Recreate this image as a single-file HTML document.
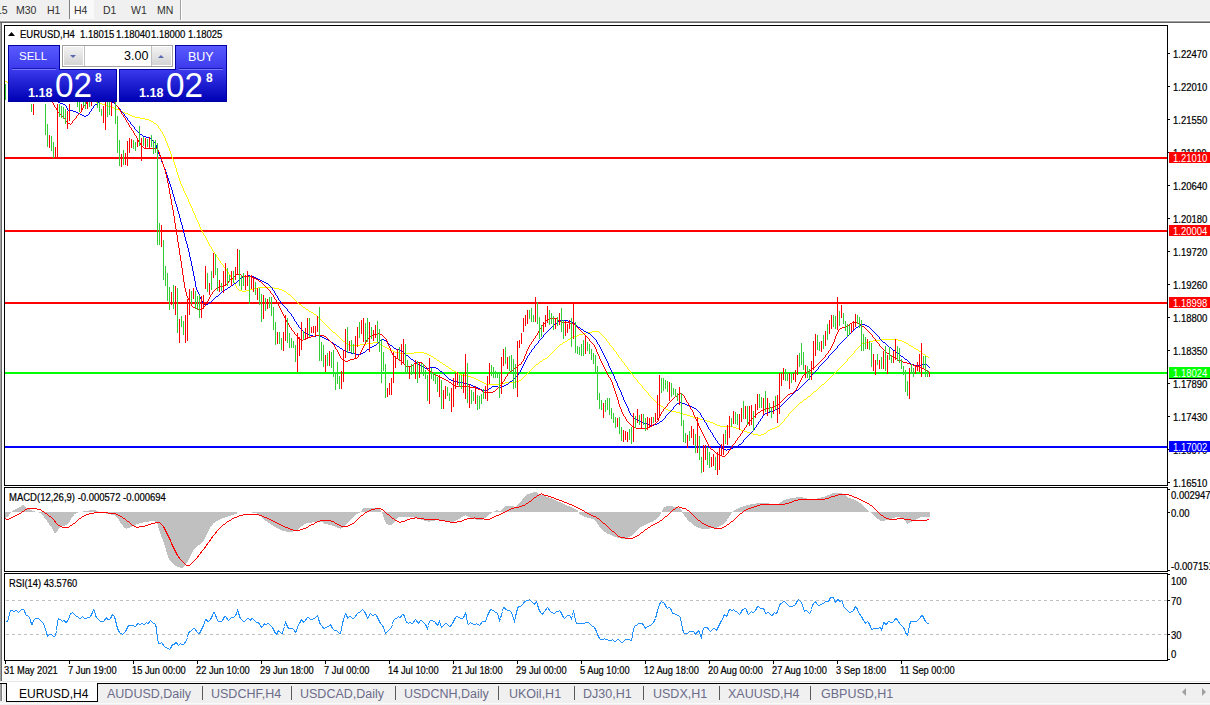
<!DOCTYPE html><html><head><meta charset="utf-8"><style>
*{margin:0;padding:0;box-sizing:border-box}
html,body{width:1210px;height:705px;overflow:hidden;background:#f0f0f0;font-family:"Liberation Sans",sans-serif;position:relative}
.t{position:absolute;white-space:nowrap;line-height:1;font-family:"Liberation Sans",sans-serif}
.s{-webkit-text-stroke:0.2px currentColor}
svg{position:absolute;left:0;top:0}
</style></head><body>
<svg width="1210" height="705" shape-rendering="crispEdges">
<rect x="0" y="0" width="1210" height="21" fill="#f0f0f0"/>
<rect x="0" y="20" width="1210" height="1" fill="#f8f8f8"/>
<rect x="0" y="21" width="1210" height="1" fill="#a0a0a0"/>
<rect x="0" y="22" width="1210" height="1" fill="#646464"/>
<rect x="70" y="0" width="24" height="19" fill="#f9f9f9"/>
<rect x="69" y="0" width="1" height="19" fill="#808080"/>
<rect x="180" y="0" width="1" height="20" fill="#a0a0a0"/>
<rect x="181" y="0" width="1" height="20" fill="#ffffff"/>
<rect x="0" y="23" width="1210" height="658" fill="#ffffff"/>
<rect x="0" y="23" width="1" height="658" fill="#a0a0a0"/>
<rect x="1" y="23" width="1" height="658" fill="#696969"/>
<rect x="0" y="681" width="1210" height="1" fill="#e6e6e6"/>
<rect x="0" y="682" width="1210" height="1" fill="#ffffff"/>
<rect x="0" y="683" width="1210" height="1" fill="#000000"/>
<rect x="0" y="684" width="1210" height="18" fill="#f0f0f0"/>
<rect x="0" y="702" width="1210" height="3" fill="#f0f0f0"/>
<rect x="0" y="703" width="1210" height="1" fill="#fafafa"/>
<rect x="0" y="684" width="1" height="17" fill="#a0a0a0"/>
<rect x="1" y="684" width="1" height="17" fill="#808080"/>
<rect x="2" y="684" width="1" height="17" fill="#ffffff"/>
<rect x="7" y="683" width="90" height="18" fill="#ffffff"/>
<rect x="6" y="683" width="1" height="19" fill="#000"/>
<rect x="97" y="683" width="1" height="19" fill="#000"/>
<rect x="6" y="701" width="92" height="1" fill="#000"/>
<rect x="202" y="686" width="1" height="14" fill="#5a5a5a"/>
<rect x="291" y="686" width="1" height="14" fill="#5a5a5a"/>
<rect x="395" y="686" width="1" height="14" fill="#5a5a5a"/>
<rect x="498" y="686" width="1" height="14" fill="#5a5a5a"/>
<rect x="574" y="686" width="1" height="14" fill="#5a5a5a"/>
<rect x="643" y="686" width="1" height="14" fill="#5a5a5a"/>
<rect x="719" y="686" width="1" height="14" fill="#5a5a5a"/>
<rect x="810" y="686" width="1" height="14" fill="#5a5a5a"/>
<path d="M1186,688 L1182,692 L1186,696 Z" fill="#a0a0a0" shape-rendering="auto"/>
<path d="M1202,688 L1206,692 L1202,696 Z" fill="#a0a0a0" shape-rendering="auto"/>
<rect x="6" y="600" width="3" height="1" fill="#c0c0c0"/><rect x="12" y="600" width="3" height="1" fill="#c0c0c0"/><rect x="18" y="600" width="3" height="1" fill="#c0c0c0"/><rect x="24" y="600" width="3" height="1" fill="#c0c0c0"/><rect x="30" y="600" width="3" height="1" fill="#c0c0c0"/><rect x="36" y="600" width="3" height="1" fill="#c0c0c0"/><rect x="42" y="600" width="3" height="1" fill="#c0c0c0"/><rect x="48" y="600" width="3" height="1" fill="#c0c0c0"/><rect x="54" y="600" width="3" height="1" fill="#c0c0c0"/><rect x="60" y="600" width="3" height="1" fill="#c0c0c0"/><rect x="66" y="600" width="3" height="1" fill="#c0c0c0"/><rect x="72" y="600" width="3" height="1" fill="#c0c0c0"/><rect x="78" y="600" width="3" height="1" fill="#c0c0c0"/><rect x="84" y="600" width="3" height="1" fill="#c0c0c0"/><rect x="90" y="600" width="3" height="1" fill="#c0c0c0"/><rect x="96" y="600" width="3" height="1" fill="#c0c0c0"/><rect x="102" y="600" width="3" height="1" fill="#c0c0c0"/><rect x="108" y="600" width="3" height="1" fill="#c0c0c0"/><rect x="114" y="600" width="3" height="1" fill="#c0c0c0"/><rect x="120" y="600" width="3" height="1" fill="#c0c0c0"/><rect x="126" y="600" width="3" height="1" fill="#c0c0c0"/><rect x="132" y="600" width="3" height="1" fill="#c0c0c0"/><rect x="138" y="600" width="3" height="1" fill="#c0c0c0"/><rect x="144" y="600" width="3" height="1" fill="#c0c0c0"/><rect x="150" y="600" width="3" height="1" fill="#c0c0c0"/><rect x="156" y="600" width="3" height="1" fill="#c0c0c0"/><rect x="162" y="600" width="3" height="1" fill="#c0c0c0"/><rect x="168" y="600" width="3" height="1" fill="#c0c0c0"/><rect x="174" y="600" width="3" height="1" fill="#c0c0c0"/><rect x="180" y="600" width="3" height="1" fill="#c0c0c0"/><rect x="186" y="600" width="3" height="1" fill="#c0c0c0"/><rect x="192" y="600" width="3" height="1" fill="#c0c0c0"/><rect x="198" y="600" width="3" height="1" fill="#c0c0c0"/><rect x="204" y="600" width="3" height="1" fill="#c0c0c0"/><rect x="210" y="600" width="3" height="1" fill="#c0c0c0"/><rect x="216" y="600" width="3" height="1" fill="#c0c0c0"/><rect x="222" y="600" width="3" height="1" fill="#c0c0c0"/><rect x="228" y="600" width="3" height="1" fill="#c0c0c0"/><rect x="234" y="600" width="3" height="1" fill="#c0c0c0"/><rect x="240" y="600" width="3" height="1" fill="#c0c0c0"/><rect x="246" y="600" width="3" height="1" fill="#c0c0c0"/><rect x="252" y="600" width="3" height="1" fill="#c0c0c0"/><rect x="258" y="600" width="3" height="1" fill="#c0c0c0"/><rect x="264" y="600" width="3" height="1" fill="#c0c0c0"/><rect x="270" y="600" width="3" height="1" fill="#c0c0c0"/><rect x="276" y="600" width="3" height="1" fill="#c0c0c0"/><rect x="282" y="600" width="3" height="1" fill="#c0c0c0"/><rect x="288" y="600" width="3" height="1" fill="#c0c0c0"/><rect x="294" y="600" width="3" height="1" fill="#c0c0c0"/><rect x="300" y="600" width="3" height="1" fill="#c0c0c0"/><rect x="306" y="600" width="3" height="1" fill="#c0c0c0"/><rect x="312" y="600" width="3" height="1" fill="#c0c0c0"/><rect x="318" y="600" width="3" height="1" fill="#c0c0c0"/><rect x="324" y="600" width="3" height="1" fill="#c0c0c0"/><rect x="330" y="600" width="3" height="1" fill="#c0c0c0"/><rect x="336" y="600" width="3" height="1" fill="#c0c0c0"/><rect x="342" y="600" width="3" height="1" fill="#c0c0c0"/><rect x="348" y="600" width="3" height="1" fill="#c0c0c0"/><rect x="354" y="600" width="3" height="1" fill="#c0c0c0"/><rect x="360" y="600" width="3" height="1" fill="#c0c0c0"/><rect x="366" y="600" width="3" height="1" fill="#c0c0c0"/><rect x="372" y="600" width="3" height="1" fill="#c0c0c0"/><rect x="378" y="600" width="3" height="1" fill="#c0c0c0"/><rect x="384" y="600" width="3" height="1" fill="#c0c0c0"/><rect x="390" y="600" width="3" height="1" fill="#c0c0c0"/><rect x="396" y="600" width="3" height="1" fill="#c0c0c0"/><rect x="402" y="600" width="3" height="1" fill="#c0c0c0"/><rect x="408" y="600" width="3" height="1" fill="#c0c0c0"/><rect x="414" y="600" width="3" height="1" fill="#c0c0c0"/><rect x="420" y="600" width="3" height="1" fill="#c0c0c0"/><rect x="426" y="600" width="3" height="1" fill="#c0c0c0"/><rect x="432" y="600" width="3" height="1" fill="#c0c0c0"/><rect x="438" y="600" width="3" height="1" fill="#c0c0c0"/><rect x="444" y="600" width="3" height="1" fill="#c0c0c0"/><rect x="450" y="600" width="3" height="1" fill="#c0c0c0"/><rect x="456" y="600" width="3" height="1" fill="#c0c0c0"/><rect x="462" y="600" width="3" height="1" fill="#c0c0c0"/><rect x="468" y="600" width="3" height="1" fill="#c0c0c0"/><rect x="474" y="600" width="3" height="1" fill="#c0c0c0"/><rect x="480" y="600" width="3" height="1" fill="#c0c0c0"/><rect x="486" y="600" width="3" height="1" fill="#c0c0c0"/><rect x="492" y="600" width="3" height="1" fill="#c0c0c0"/><rect x="498" y="600" width="3" height="1" fill="#c0c0c0"/><rect x="504" y="600" width="3" height="1" fill="#c0c0c0"/><rect x="510" y="600" width="3" height="1" fill="#c0c0c0"/><rect x="516" y="600" width="3" height="1" fill="#c0c0c0"/><rect x="522" y="600" width="3" height="1" fill="#c0c0c0"/><rect x="528" y="600" width="3" height="1" fill="#c0c0c0"/><rect x="534" y="600" width="3" height="1" fill="#c0c0c0"/><rect x="540" y="600" width="3" height="1" fill="#c0c0c0"/><rect x="546" y="600" width="3" height="1" fill="#c0c0c0"/><rect x="552" y="600" width="3" height="1" fill="#c0c0c0"/><rect x="558" y="600" width="3" height="1" fill="#c0c0c0"/><rect x="564" y="600" width="3" height="1" fill="#c0c0c0"/><rect x="570" y="600" width="3" height="1" fill="#c0c0c0"/><rect x="576" y="600" width="3" height="1" fill="#c0c0c0"/><rect x="582" y="600" width="3" height="1" fill="#c0c0c0"/><rect x="588" y="600" width="3" height="1" fill="#c0c0c0"/><rect x="594" y="600" width="3" height="1" fill="#c0c0c0"/><rect x="600" y="600" width="3" height="1" fill="#c0c0c0"/><rect x="606" y="600" width="3" height="1" fill="#c0c0c0"/><rect x="612" y="600" width="3" height="1" fill="#c0c0c0"/><rect x="618" y="600" width="3" height="1" fill="#c0c0c0"/><rect x="624" y="600" width="3" height="1" fill="#c0c0c0"/><rect x="630" y="600" width="3" height="1" fill="#c0c0c0"/><rect x="636" y="600" width="3" height="1" fill="#c0c0c0"/><rect x="642" y="600" width="3" height="1" fill="#c0c0c0"/><rect x="648" y="600" width="3" height="1" fill="#c0c0c0"/><rect x="654" y="600" width="3" height="1" fill="#c0c0c0"/><rect x="660" y="600" width="3" height="1" fill="#c0c0c0"/><rect x="666" y="600" width="3" height="1" fill="#c0c0c0"/><rect x="672" y="600" width="3" height="1" fill="#c0c0c0"/><rect x="678" y="600" width="3" height="1" fill="#c0c0c0"/><rect x="684" y="600" width="3" height="1" fill="#c0c0c0"/><rect x="690" y="600" width="3" height="1" fill="#c0c0c0"/><rect x="696" y="600" width="3" height="1" fill="#c0c0c0"/><rect x="702" y="600" width="3" height="1" fill="#c0c0c0"/><rect x="708" y="600" width="3" height="1" fill="#c0c0c0"/><rect x="714" y="600" width="3" height="1" fill="#c0c0c0"/><rect x="720" y="600" width="3" height="1" fill="#c0c0c0"/><rect x="726" y="600" width="3" height="1" fill="#c0c0c0"/><rect x="732" y="600" width="3" height="1" fill="#c0c0c0"/><rect x="738" y="600" width="3" height="1" fill="#c0c0c0"/><rect x="744" y="600" width="3" height="1" fill="#c0c0c0"/><rect x="750" y="600" width="3" height="1" fill="#c0c0c0"/><rect x="756" y="600" width="3" height="1" fill="#c0c0c0"/><rect x="762" y="600" width="3" height="1" fill="#c0c0c0"/><rect x="768" y="600" width="3" height="1" fill="#c0c0c0"/><rect x="774" y="600" width="3" height="1" fill="#c0c0c0"/><rect x="780" y="600" width="3" height="1" fill="#c0c0c0"/><rect x="786" y="600" width="3" height="1" fill="#c0c0c0"/><rect x="792" y="600" width="3" height="1" fill="#c0c0c0"/><rect x="798" y="600" width="3" height="1" fill="#c0c0c0"/><rect x="804" y="600" width="3" height="1" fill="#c0c0c0"/><rect x="810" y="600" width="3" height="1" fill="#c0c0c0"/><rect x="816" y="600" width="3" height="1" fill="#c0c0c0"/><rect x="822" y="600" width="3" height="1" fill="#c0c0c0"/><rect x="828" y="600" width="3" height="1" fill="#c0c0c0"/><rect x="834" y="600" width="3" height="1" fill="#c0c0c0"/><rect x="840" y="600" width="3" height="1" fill="#c0c0c0"/><rect x="846" y="600" width="3" height="1" fill="#c0c0c0"/><rect x="852" y="600" width="3" height="1" fill="#c0c0c0"/><rect x="858" y="600" width="3" height="1" fill="#c0c0c0"/><rect x="864" y="600" width="3" height="1" fill="#c0c0c0"/><rect x="870" y="600" width="3" height="1" fill="#c0c0c0"/><rect x="876" y="600" width="3" height="1" fill="#c0c0c0"/><rect x="882" y="600" width="3" height="1" fill="#c0c0c0"/><rect x="888" y="600" width="3" height="1" fill="#c0c0c0"/><rect x="894" y="600" width="3" height="1" fill="#c0c0c0"/><rect x="900" y="600" width="3" height="1" fill="#c0c0c0"/><rect x="906" y="600" width="3" height="1" fill="#c0c0c0"/><rect x="912" y="600" width="3" height="1" fill="#c0c0c0"/><rect x="918" y="600" width="3" height="1" fill="#c0c0c0"/><rect x="924" y="600" width="3" height="1" fill="#c0c0c0"/><rect x="930" y="600" width="3" height="1" fill="#c0c0c0"/><rect x="936" y="600" width="3" height="1" fill="#c0c0c0"/><rect x="942" y="600" width="3" height="1" fill="#c0c0c0"/><rect x="948" y="600" width="3" height="1" fill="#c0c0c0"/><rect x="954" y="600" width="3" height="1" fill="#c0c0c0"/><rect x="960" y="600" width="3" height="1" fill="#c0c0c0"/><rect x="966" y="600" width="3" height="1" fill="#c0c0c0"/><rect x="972" y="600" width="3" height="1" fill="#c0c0c0"/><rect x="978" y="600" width="3" height="1" fill="#c0c0c0"/><rect x="984" y="600" width="3" height="1" fill="#c0c0c0"/><rect x="990" y="600" width="3" height="1" fill="#c0c0c0"/><rect x="996" y="600" width="3" height="1" fill="#c0c0c0"/><rect x="1002" y="600" width="3" height="1" fill="#c0c0c0"/><rect x="1008" y="600" width="3" height="1" fill="#c0c0c0"/><rect x="1014" y="600" width="3" height="1" fill="#c0c0c0"/><rect x="1020" y="600" width="3" height="1" fill="#c0c0c0"/><rect x="1026" y="600" width="3" height="1" fill="#c0c0c0"/><rect x="1032" y="600" width="3" height="1" fill="#c0c0c0"/><rect x="1038" y="600" width="3" height="1" fill="#c0c0c0"/><rect x="1044" y="600" width="3" height="1" fill="#c0c0c0"/><rect x="1050" y="600" width="3" height="1" fill="#c0c0c0"/><rect x="1056" y="600" width="3" height="1" fill="#c0c0c0"/><rect x="1062" y="600" width="3" height="1" fill="#c0c0c0"/><rect x="1068" y="600" width="3" height="1" fill="#c0c0c0"/><rect x="1074" y="600" width="3" height="1" fill="#c0c0c0"/><rect x="1080" y="600" width="3" height="1" fill="#c0c0c0"/><rect x="1086" y="600" width="3" height="1" fill="#c0c0c0"/><rect x="1092" y="600" width="3" height="1" fill="#c0c0c0"/><rect x="1098" y="600" width="3" height="1" fill="#c0c0c0"/><rect x="1104" y="600" width="3" height="1" fill="#c0c0c0"/><rect x="1110" y="600" width="3" height="1" fill="#c0c0c0"/><rect x="1116" y="600" width="3" height="1" fill="#c0c0c0"/><rect x="1122" y="600" width="3" height="1" fill="#c0c0c0"/><rect x="1128" y="600" width="3" height="1" fill="#c0c0c0"/><rect x="1134" y="600" width="3" height="1" fill="#c0c0c0"/><rect x="1140" y="600" width="3" height="1" fill="#c0c0c0"/><rect x="1146" y="600" width="3" height="1" fill="#c0c0c0"/><rect x="1152" y="600" width="3" height="1" fill="#c0c0c0"/><rect x="1158" y="600" width="3" height="1" fill="#c0c0c0"/><rect x="1164" y="600" width="3" height="1" fill="#c0c0c0"/><rect x="6" y="634" width="3" height="1" fill="#c0c0c0"/><rect x="12" y="634" width="3" height="1" fill="#c0c0c0"/><rect x="18" y="634" width="3" height="1" fill="#c0c0c0"/><rect x="24" y="634" width="3" height="1" fill="#c0c0c0"/><rect x="30" y="634" width="3" height="1" fill="#c0c0c0"/><rect x="36" y="634" width="3" height="1" fill="#c0c0c0"/><rect x="42" y="634" width="3" height="1" fill="#c0c0c0"/><rect x="48" y="634" width="3" height="1" fill="#c0c0c0"/><rect x="54" y="634" width="3" height="1" fill="#c0c0c0"/><rect x="60" y="634" width="3" height="1" fill="#c0c0c0"/><rect x="66" y="634" width="3" height="1" fill="#c0c0c0"/><rect x="72" y="634" width="3" height="1" fill="#c0c0c0"/><rect x="78" y="634" width="3" height="1" fill="#c0c0c0"/><rect x="84" y="634" width="3" height="1" fill="#c0c0c0"/><rect x="90" y="634" width="3" height="1" fill="#c0c0c0"/><rect x="96" y="634" width="3" height="1" fill="#c0c0c0"/><rect x="102" y="634" width="3" height="1" fill="#c0c0c0"/><rect x="108" y="634" width="3" height="1" fill="#c0c0c0"/><rect x="114" y="634" width="3" height="1" fill="#c0c0c0"/><rect x="120" y="634" width="3" height="1" fill="#c0c0c0"/><rect x="126" y="634" width="3" height="1" fill="#c0c0c0"/><rect x="132" y="634" width="3" height="1" fill="#c0c0c0"/><rect x="138" y="634" width="3" height="1" fill="#c0c0c0"/><rect x="144" y="634" width="3" height="1" fill="#c0c0c0"/><rect x="150" y="634" width="3" height="1" fill="#c0c0c0"/><rect x="156" y="634" width="3" height="1" fill="#c0c0c0"/><rect x="162" y="634" width="3" height="1" fill="#c0c0c0"/><rect x="168" y="634" width="3" height="1" fill="#c0c0c0"/><rect x="174" y="634" width="3" height="1" fill="#c0c0c0"/><rect x="180" y="634" width="3" height="1" fill="#c0c0c0"/><rect x="186" y="634" width="3" height="1" fill="#c0c0c0"/><rect x="192" y="634" width="3" height="1" fill="#c0c0c0"/><rect x="198" y="634" width="3" height="1" fill="#c0c0c0"/><rect x="204" y="634" width="3" height="1" fill="#c0c0c0"/><rect x="210" y="634" width="3" height="1" fill="#c0c0c0"/><rect x="216" y="634" width="3" height="1" fill="#c0c0c0"/><rect x="222" y="634" width="3" height="1" fill="#c0c0c0"/><rect x="228" y="634" width="3" height="1" fill="#c0c0c0"/><rect x="234" y="634" width="3" height="1" fill="#c0c0c0"/><rect x="240" y="634" width="3" height="1" fill="#c0c0c0"/><rect x="246" y="634" width="3" height="1" fill="#c0c0c0"/><rect x="252" y="634" width="3" height="1" fill="#c0c0c0"/><rect x="258" y="634" width="3" height="1" fill="#c0c0c0"/><rect x="264" y="634" width="3" height="1" fill="#c0c0c0"/><rect x="270" y="634" width="3" height="1" fill="#c0c0c0"/><rect x="276" y="634" width="3" height="1" fill="#c0c0c0"/><rect x="282" y="634" width="3" height="1" fill="#c0c0c0"/><rect x="288" y="634" width="3" height="1" fill="#c0c0c0"/><rect x="294" y="634" width="3" height="1" fill="#c0c0c0"/><rect x="300" y="634" width="3" height="1" fill="#c0c0c0"/><rect x="306" y="634" width="3" height="1" fill="#c0c0c0"/><rect x="312" y="634" width="3" height="1" fill="#c0c0c0"/><rect x="318" y="634" width="3" height="1" fill="#c0c0c0"/><rect x="324" y="634" width="3" height="1" fill="#c0c0c0"/><rect x="330" y="634" width="3" height="1" fill="#c0c0c0"/><rect x="336" y="634" width="3" height="1" fill="#c0c0c0"/><rect x="342" y="634" width="3" height="1" fill="#c0c0c0"/><rect x="348" y="634" width="3" height="1" fill="#c0c0c0"/><rect x="354" y="634" width="3" height="1" fill="#c0c0c0"/><rect x="360" y="634" width="3" height="1" fill="#c0c0c0"/><rect x="366" y="634" width="3" height="1" fill="#c0c0c0"/><rect x="372" y="634" width="3" height="1" fill="#c0c0c0"/><rect x="378" y="634" width="3" height="1" fill="#c0c0c0"/><rect x="384" y="634" width="3" height="1" fill="#c0c0c0"/><rect x="390" y="634" width="3" height="1" fill="#c0c0c0"/><rect x="396" y="634" width="3" height="1" fill="#c0c0c0"/><rect x="402" y="634" width="3" height="1" fill="#c0c0c0"/><rect x="408" y="634" width="3" height="1" fill="#c0c0c0"/><rect x="414" y="634" width="3" height="1" fill="#c0c0c0"/><rect x="420" y="634" width="3" height="1" fill="#c0c0c0"/><rect x="426" y="634" width="3" height="1" fill="#c0c0c0"/><rect x="432" y="634" width="3" height="1" fill="#c0c0c0"/><rect x="438" y="634" width="3" height="1" fill="#c0c0c0"/><rect x="444" y="634" width="3" height="1" fill="#c0c0c0"/><rect x="450" y="634" width="3" height="1" fill="#c0c0c0"/><rect x="456" y="634" width="3" height="1" fill="#c0c0c0"/><rect x="462" y="634" width="3" height="1" fill="#c0c0c0"/><rect x="468" y="634" width="3" height="1" fill="#c0c0c0"/><rect x="474" y="634" width="3" height="1" fill="#c0c0c0"/><rect x="480" y="634" width="3" height="1" fill="#c0c0c0"/><rect x="486" y="634" width="3" height="1" fill="#c0c0c0"/><rect x="492" y="634" width="3" height="1" fill="#c0c0c0"/><rect x="498" y="634" width="3" height="1" fill="#c0c0c0"/><rect x="504" y="634" width="3" height="1" fill="#c0c0c0"/><rect x="510" y="634" width="3" height="1" fill="#c0c0c0"/><rect x="516" y="634" width="3" height="1" fill="#c0c0c0"/><rect x="522" y="634" width="3" height="1" fill="#c0c0c0"/><rect x="528" y="634" width="3" height="1" fill="#c0c0c0"/><rect x="534" y="634" width="3" height="1" fill="#c0c0c0"/><rect x="540" y="634" width="3" height="1" fill="#c0c0c0"/><rect x="546" y="634" width="3" height="1" fill="#c0c0c0"/><rect x="552" y="634" width="3" height="1" fill="#c0c0c0"/><rect x="558" y="634" width="3" height="1" fill="#c0c0c0"/><rect x="564" y="634" width="3" height="1" fill="#c0c0c0"/><rect x="570" y="634" width="3" height="1" fill="#c0c0c0"/><rect x="576" y="634" width="3" height="1" fill="#c0c0c0"/><rect x="582" y="634" width="3" height="1" fill="#c0c0c0"/><rect x="588" y="634" width="3" height="1" fill="#c0c0c0"/><rect x="594" y="634" width="3" height="1" fill="#c0c0c0"/><rect x="600" y="634" width="3" height="1" fill="#c0c0c0"/><rect x="606" y="634" width="3" height="1" fill="#c0c0c0"/><rect x="612" y="634" width="3" height="1" fill="#c0c0c0"/><rect x="618" y="634" width="3" height="1" fill="#c0c0c0"/><rect x="624" y="634" width="3" height="1" fill="#c0c0c0"/><rect x="630" y="634" width="3" height="1" fill="#c0c0c0"/><rect x="636" y="634" width="3" height="1" fill="#c0c0c0"/><rect x="642" y="634" width="3" height="1" fill="#c0c0c0"/><rect x="648" y="634" width="3" height="1" fill="#c0c0c0"/><rect x="654" y="634" width="3" height="1" fill="#c0c0c0"/><rect x="660" y="634" width="3" height="1" fill="#c0c0c0"/><rect x="666" y="634" width="3" height="1" fill="#c0c0c0"/><rect x="672" y="634" width="3" height="1" fill="#c0c0c0"/><rect x="678" y="634" width="3" height="1" fill="#c0c0c0"/><rect x="684" y="634" width="3" height="1" fill="#c0c0c0"/><rect x="690" y="634" width="3" height="1" fill="#c0c0c0"/><rect x="696" y="634" width="3" height="1" fill="#c0c0c0"/><rect x="702" y="634" width="3" height="1" fill="#c0c0c0"/><rect x="708" y="634" width="3" height="1" fill="#c0c0c0"/><rect x="714" y="634" width="3" height="1" fill="#c0c0c0"/><rect x="720" y="634" width="3" height="1" fill="#c0c0c0"/><rect x="726" y="634" width="3" height="1" fill="#c0c0c0"/><rect x="732" y="634" width="3" height="1" fill="#c0c0c0"/><rect x="738" y="634" width="3" height="1" fill="#c0c0c0"/><rect x="744" y="634" width="3" height="1" fill="#c0c0c0"/><rect x="750" y="634" width="3" height="1" fill="#c0c0c0"/><rect x="756" y="634" width="3" height="1" fill="#c0c0c0"/><rect x="762" y="634" width="3" height="1" fill="#c0c0c0"/><rect x="768" y="634" width="3" height="1" fill="#c0c0c0"/><rect x="774" y="634" width="3" height="1" fill="#c0c0c0"/><rect x="780" y="634" width="3" height="1" fill="#c0c0c0"/><rect x="786" y="634" width="3" height="1" fill="#c0c0c0"/><rect x="792" y="634" width="3" height="1" fill="#c0c0c0"/><rect x="798" y="634" width="3" height="1" fill="#c0c0c0"/><rect x="804" y="634" width="3" height="1" fill="#c0c0c0"/><rect x="810" y="634" width="3" height="1" fill="#c0c0c0"/><rect x="816" y="634" width="3" height="1" fill="#c0c0c0"/><rect x="822" y="634" width="3" height="1" fill="#c0c0c0"/><rect x="828" y="634" width="3" height="1" fill="#c0c0c0"/><rect x="834" y="634" width="3" height="1" fill="#c0c0c0"/><rect x="840" y="634" width="3" height="1" fill="#c0c0c0"/><rect x="846" y="634" width="3" height="1" fill="#c0c0c0"/><rect x="852" y="634" width="3" height="1" fill="#c0c0c0"/><rect x="858" y="634" width="3" height="1" fill="#c0c0c0"/><rect x="864" y="634" width="3" height="1" fill="#c0c0c0"/><rect x="870" y="634" width="3" height="1" fill="#c0c0c0"/><rect x="876" y="634" width="3" height="1" fill="#c0c0c0"/><rect x="882" y="634" width="3" height="1" fill="#c0c0c0"/><rect x="888" y="634" width="3" height="1" fill="#c0c0c0"/><rect x="894" y="634" width="3" height="1" fill="#c0c0c0"/><rect x="900" y="634" width="3" height="1" fill="#c0c0c0"/><rect x="906" y="634" width="3" height="1" fill="#c0c0c0"/><rect x="912" y="634" width="3" height="1" fill="#c0c0c0"/><rect x="918" y="634" width="3" height="1" fill="#c0c0c0"/><rect x="924" y="634" width="3" height="1" fill="#c0c0c0"/><rect x="930" y="634" width="3" height="1" fill="#c0c0c0"/><rect x="936" y="634" width="3" height="1" fill="#c0c0c0"/><rect x="942" y="634" width="3" height="1" fill="#c0c0c0"/><rect x="948" y="634" width="3" height="1" fill="#c0c0c0"/><rect x="954" y="634" width="3" height="1" fill="#c0c0c0"/><rect x="960" y="634" width="3" height="1" fill="#c0c0c0"/><rect x="966" y="634" width="3" height="1" fill="#c0c0c0"/><rect x="972" y="634" width="3" height="1" fill="#c0c0c0"/><rect x="978" y="634" width="3" height="1" fill="#c0c0c0"/><rect x="984" y="634" width="3" height="1" fill="#c0c0c0"/><rect x="990" y="634" width="3" height="1" fill="#c0c0c0"/><rect x="996" y="634" width="3" height="1" fill="#c0c0c0"/><rect x="1002" y="634" width="3" height="1" fill="#c0c0c0"/><rect x="1008" y="634" width="3" height="1" fill="#c0c0c0"/><rect x="1014" y="634" width="3" height="1" fill="#c0c0c0"/><rect x="1020" y="634" width="3" height="1" fill="#c0c0c0"/><rect x="1026" y="634" width="3" height="1" fill="#c0c0c0"/><rect x="1032" y="634" width="3" height="1" fill="#c0c0c0"/><rect x="1038" y="634" width="3" height="1" fill="#c0c0c0"/><rect x="1044" y="634" width="3" height="1" fill="#c0c0c0"/><rect x="1050" y="634" width="3" height="1" fill="#c0c0c0"/><rect x="1056" y="634" width="3" height="1" fill="#c0c0c0"/><rect x="1062" y="634" width="3" height="1" fill="#c0c0c0"/><rect x="1068" y="634" width="3" height="1" fill="#c0c0c0"/><rect x="1074" y="634" width="3" height="1" fill="#c0c0c0"/><rect x="1080" y="634" width="3" height="1" fill="#c0c0c0"/><rect x="1086" y="634" width="3" height="1" fill="#c0c0c0"/><rect x="1092" y="634" width="3" height="1" fill="#c0c0c0"/><rect x="1098" y="634" width="3" height="1" fill="#c0c0c0"/><rect x="1104" y="634" width="3" height="1" fill="#c0c0c0"/><rect x="1110" y="634" width="3" height="1" fill="#c0c0c0"/><rect x="1116" y="634" width="3" height="1" fill="#c0c0c0"/><rect x="1122" y="634" width="3" height="1" fill="#c0c0c0"/><rect x="1128" y="634" width="3" height="1" fill="#c0c0c0"/><rect x="1134" y="634" width="3" height="1" fill="#c0c0c0"/><rect x="1140" y="634" width="3" height="1" fill="#c0c0c0"/><rect x="1146" y="634" width="3" height="1" fill="#c0c0c0"/><rect x="1152" y="634" width="3" height="1" fill="#c0c0c0"/><rect x="1158" y="634" width="3" height="1" fill="#c0c0c0"/><rect x="1164" y="634" width="3" height="1" fill="#c0c0c0"/>
<rect x="5" y="157" width="1162" height="2" fill="#ff0000"/><rect x="5" y="230" width="1162" height="2" fill="#ff0000"/><rect x="5" y="302" width="1162" height="2" fill="#ff0000"/><rect x="5" y="372" width="1162" height="2" fill="#00ff00"/><rect x="5" y="446" width="1162" height="2" fill="#0000ff"/>
<path fill="#ffff00" d="M5 81h1v1h-1zM6 81h1v1h-1zM7 82h1v1h-1zM8 82h1v1h-1zM9 82h1v1h-1zM10 82h1v1h-1zM11 83h1v1h-1zM12 83h1v1h-1zM13 83h1v1h-1zM14 84h1v1h-1zM15 84h1v1h-1zM16 84h1v1h-1zM17 84h1v1h-1zM18 85h1v1h-1zM19 85h1v1h-1zM20 85h1v1h-1zM21 86h1v1h-1zM22 86h1v1h-1zM23 86h1v1h-1zM24 86h1v1h-1zM25 87h1v1h-1zM26 87h1v1h-1zM27 87h1v1h-1zM28 87h1v1h-1zM29 88h1v1h-1zM30 88h1v1h-1zM31 88h1v1h-1zM32 89h1v1h-1zM33 89h1v1h-1zM34 89h1v1h-1zM35 89h1v1h-1zM36 90h1v1h-1zM37 90h1v1h-1zM38 90h1v1h-1zM39 90h1v1h-1zM40 90h1v1h-1zM41 91h1v1h-1zM42 91h1v1h-1zM43 91h1v1h-1zM44 91h1v1h-1zM45 92h1v1h-1zM46 92h1v1h-1zM47 92h1v1h-1zM48 92h1v1h-1zM49 93h1v1h-1zM50 93h1v1h-1zM51 93h1v1h-1zM52 93h1v1h-1zM53 94h1v1h-1zM54 94h1v1h-1zM55 94h1v1h-1zM56 94h1v1h-1zM57 94h1v1h-1zM58 95h1v1h-1zM59 95h1v1h-1zM60 95h1v1h-1zM61 95h1v1h-1zM62 95h1v1h-1zM63 96h1v1h-1zM64 96h1v1h-1zM65 96h1v1h-1zM66 96h1v1h-1zM67 96h1v1h-1zM68 96h1v1h-1zM69 97h1v1h-1zM70 97h1v1h-1zM71 97h1v1h-1zM72 97h1v1h-1zM73 97h1v1h-1zM74 97h1v1h-1zM75 98h1v1h-1zM76 98h1v1h-1zM77 98h1v1h-1zM78 98h1v1h-1zM79 98h1v1h-1zM80 98h1v1h-1zM81 98h1v1h-1zM82 99h1v1h-1zM83 99h1v1h-1zM84 99h1v1h-1zM85 99h1v1h-1zM86 99h1v1h-1zM87 99h1v1h-1zM88 100h1v1h-1zM89 100h1v1h-1zM90 100h1v1h-1zM91 100h1v1h-1zM92 100h1v1h-1zM93 101h1v1h-1zM94 101h1v1h-1zM95 101h1v1h-1zM96 102h1v1h-1zM97 102h1v1h-1zM98 102h1v1h-1zM99 103h1v1h-1zM100 103h1v1h-1zM101 103h1v1h-1zM102 104h1v1h-1zM103 104h1v1h-1zM104 104h1v1h-1zM105 105h1v1h-1zM106 105h1v1h-1zM107 105h1v1h-1zM108 106h1v1h-1zM109 106h1v1h-1zM110 106h1v1h-1zM111 107h1v1h-1zM112 107h1v1h-1zM113 107h1v1h-1zM114 108h1v1h-1zM115 108h1v1h-1zM116 109h1v1h-1zM117 109h1v1h-1zM118 109h1v1h-1zM119 110h1v1h-1zM120 110h1v1h-1zM121 111h1v1h-1zM122 111h1v1h-1zM123 112h1v1h-1zM124 112h1v1h-1zM125 113h1v1h-1zM126 113h1v1h-1zM127 113h1v1h-1zM128 114h1v1h-1zM129 114h1v1h-1zM130 115h1v1h-1zM131 115h1v1h-1zM132 116h1v1h-1zM133 116h1v1h-1zM134 116h1v1h-1zM135 117h1v1h-1zM136 117h1v1h-1zM137 117h1v1h-1zM138 117h1v1h-1zM139 117h1v1h-1zM140 118h1v1h-1zM141 118h1v1h-1zM142 118h1v1h-1zM143 118h1v1h-1zM144 118h1v1h-1zM145 119h1v1h-1zM146 119h1v1h-1zM147 119h1v1h-1zM148 119h1v1h-1zM149 120h1v1h-1zM150 120h1v1h-1zM151 121h1v1h-1zM152 121h1v1h-1zM153 122h1v1h-1zM154 123h1v1h-1zM155 123h1v1h-1zM156 124h1v1h-1zM157 125h1v1h-1zM158 126h1v2h-1zM159 128h1v1h-1zM160 129h1v2h-1zM161 131h1v1h-1zM162 132h1v2h-1zM163 134h1v2h-1zM164 136h1v2h-1zM165 138h1v3h-1zM166 141h1v2h-1zM167 143h1v3h-1zM168 146h1v2h-1zM169 148h1v3h-1zM170 151h1v3h-1zM171 154h1v3h-1zM172 157h1v2h-1zM173 159h1v3h-1zM174 162h1v3h-1zM175 165h1v3h-1zM176 168h1v4h-1zM177 172h1v3h-1zM178 175h1v3h-1zM179 178h1v3h-1zM180 181h1v3h-1zM181 184h1v2h-1zM182 186h1v2h-1zM183 188h1v3h-1zM184 191h1v2h-1zM185 193h1v2h-1zM186 195h1v2h-1zM187 197h1v2h-1zM188 199h1v3h-1zM189 202h1v2h-1zM190 204h1v2h-1zM191 206h1v2h-1zM192 208h1v3h-1zM193 211h1v2h-1zM194 213h1v2h-1zM195 215h1v3h-1zM196 218h1v2h-1zM197 220h1v2h-1zM198 222h1v2h-1zM199 224h1v3h-1zM200 227h1v2h-1zM201 229h1v2h-1zM202 231h1v2h-1zM203 233h1v2h-1zM204 235h1v1h-1zM205 236h1v2h-1zM206 238h1v2h-1zM207 240h1v2h-1zM208 242h1v2h-1zM209 244h1v2h-1zM210 246h1v1h-1zM211 247h1v2h-1zM212 249h1v2h-1zM213 251h1v1h-1zM214 252h1v2h-1zM215 254h1v1h-1zM216 255h1v2h-1zM217 257h1v1h-1zM218 258h1v2h-1zM219 260h1v1h-1zM220 261h1v2h-1zM221 263h1v1h-1zM222 264h1v1h-1zM223 265h1v2h-1zM224 267h1v1h-1zM225 268h1v1h-1zM226 269h1v2h-1zM227 271h1v1h-1zM228 272h1v2h-1zM229 274h1v1h-1zM230 275h1v2h-1zM231 277h1v1h-1zM232 278h1v2h-1zM233 280h1v2h-1zM234 282h1v2h-1zM235 284h1v2h-1zM236 286h1v2h-1zM237 288h1v1h-1zM238 289h1v1h-1zM239 290h1v1h-1zM240 290h1v1h-1zM241 290h1v1h-1zM242 291h1v1h-1zM243 291h1v1h-1zM244 291h1v1h-1zM245 291h1v1h-1zM246 290h1v1h-1zM247 290h1v1h-1zM248 290h1v1h-1zM249 290h1v1h-1zM250 289h1v1h-1zM251 289h1v1h-1zM252 289h1v1h-1zM253 289h1v1h-1zM254 288h1v1h-1zM255 288h1v1h-1zM256 288h1v1h-1zM257 288h1v1h-1zM258 287h1v1h-1zM259 287h1v1h-1zM260 287h1v1h-1zM261 287h1v1h-1zM262 287h1v1h-1zM263 287h1v1h-1zM264 287h1v1h-1zM265 287h1v1h-1zM266 287h1v1h-1zM267 287h1v1h-1zM268 287h1v1h-1zM269 287h1v1h-1zM270 287h1v1h-1zM271 287h1v1h-1zM272 287h1v1h-1zM273 287h1v1h-1zM274 288h1v1h-1zM275 288h1v1h-1zM276 288h1v1h-1zM277 288h1v1h-1zM278 288h1v1h-1zM279 289h1v1h-1zM280 289h1v1h-1zM281 289h1v1h-1zM282 290h1v1h-1zM283 290h1v1h-1zM284 291h1v1h-1zM285 291h1v1h-1zM286 292h1v1h-1zM287 293h1v1h-1zM288 294h1v1h-1zM289 294h1v1h-1zM290 295h1v1h-1zM291 296h1v1h-1zM292 297h1v1h-1zM293 298h1v1h-1zM294 299h1v1h-1zM295 300h1v1h-1zM296 301h1v1h-1zM297 302h1v1h-1zM298 303h1v1h-1zM299 304h1v1h-1zM300 304h1v1h-1zM301 305h1v1h-1zM302 306h1v1h-1zM303 307h1v1h-1zM304 307h1v1h-1zM305 308h1v1h-1zM306 309h1v1h-1zM307 309h1v1h-1zM308 310h1v1h-1zM309 311h1v1h-1zM310 311h1v1h-1zM311 312h1v1h-1zM312 312h1v1h-1zM313 313h1v1h-1zM314 314h1v1h-1zM315 314h1v1h-1zM316 315h1v1h-1zM317 316h1v1h-1zM318 317h1v1h-1zM319 318h1v1h-1zM320 319h1v1h-1zM321 320h1v1h-1zM322 321h1v1h-1zM323 322h1v1h-1zM324 323h1v1h-1zM325 324h1v1h-1zM326 325h1v1h-1zM327 326h1v1h-1zM328 327h1v1h-1zM329 328h1v1h-1zM330 329h1v1h-1zM331 330h1v1h-1zM332 331h1v1h-1zM333 332h1v1h-1zM334 332h1v1h-1zM335 333h1v1h-1zM336 334h1v1h-1zM337 335h1v1h-1zM338 336h1v1h-1zM339 337h1v1h-1zM340 338h1v1h-1zM341 339h1v1h-1zM342 340h1v1h-1zM343 341h1v1h-1zM344 341h1v1h-1zM345 342h1v1h-1zM346 343h1v1h-1zM347 344h1v1h-1zM348 344h1v1h-1zM349 345h1v1h-1zM350 345h1v1h-1zM351 345h1v1h-1zM352 345h1v1h-1zM353 345h1v1h-1zM354 345h1v1h-1zM355 345h1v1h-1zM356 345h1v1h-1zM357 345h1v1h-1zM358 345h1v1h-1zM359 345h1v1h-1zM360 344h1v1h-1zM361 344h1v1h-1zM362 344h1v1h-1zM363 344h1v1h-1zM364 344h1v1h-1zM365 344h1v1h-1zM366 344h1v1h-1zM367 343h1v1h-1zM368 343h1v1h-1zM369 343h1v1h-1zM370 343h1v1h-1zM371 343h1v1h-1zM372 343h1v1h-1zM373 342h1v1h-1zM374 342h1v1h-1zM375 342h1v1h-1zM376 342h1v1h-1zM377 342h1v1h-1zM378 343h1v1h-1zM379 343h1v1h-1zM380 344h1v1h-1zM381 344h1v1h-1zM382 345h1v1h-1zM383 346h1v1h-1zM384 346h1v1h-1zM385 347h1v1h-1zM386 347h1v1h-1zM387 348h1v1h-1zM388 348h1v1h-1zM389 349h1v1h-1zM390 349h1v1h-1zM391 350h1v1h-1zM392 350h1v1h-1zM393 351h1v1h-1zM394 351h1v1h-1zM395 352h1v1h-1zM396 352h1v1h-1zM397 352h1v1h-1zM398 352h1v1h-1zM399 353h1v1h-1zM400 353h1v1h-1zM401 353h1v1h-1zM402 353h1v1h-1zM403 353h1v1h-1zM404 353h1v1h-1zM405 353h1v1h-1zM406 353h1v1h-1zM407 353h1v1h-1zM408 353h1v1h-1zM409 353h1v1h-1zM410 353h1v1h-1zM411 353h1v1h-1zM412 353h1v1h-1zM413 353h1v1h-1zM414 352h1v1h-1zM415 352h1v1h-1zM416 352h1v1h-1zM417 352h1v1h-1zM418 352h1v1h-1zM419 352h1v1h-1zM420 352h1v1h-1zM421 352h1v1h-1zM422 352h1v1h-1zM423 352h1v1h-1zM424 353h1v1h-1zM425 353h1v1h-1zM426 353h1v1h-1zM427 354h1v1h-1zM428 354h1v1h-1zM429 355h1v1h-1zM430 355h1v1h-1zM431 356h1v1h-1zM432 356h1v1h-1zM433 357h1v1h-1zM434 358h1v1h-1zM435 358h1v1h-1zM436 359h1v1h-1zM437 360h1v1h-1zM438 360h1v1h-1zM439 361h1v1h-1zM440 362h1v1h-1zM441 362h1v1h-1zM442 363h1v1h-1zM443 364h1v1h-1zM444 364h1v1h-1zM445 365h1v1h-1zM446 366h1v1h-1zM447 366h1v1h-1zM448 367h1v1h-1zM449 368h1v1h-1zM450 368h1v1h-1zM451 369h1v1h-1zM452 370h1v1h-1zM453 370h1v1h-1zM454 371h1v1h-1zM455 371h1v1h-1zM456 372h1v1h-1zM457 373h1v1h-1zM458 373h1v1h-1zM459 374h1v1h-1zM460 374h1v1h-1zM461 374h1v1h-1zM462 375h1v1h-1zM463 375h1v1h-1zM464 375h1v1h-1zM465 375h1v1h-1zM466 375h1v1h-1zM467 376h1v1h-1zM468 376h1v1h-1zM469 376h1v1h-1zM470 376h1v1h-1zM471 377h1v1h-1zM472 377h1v1h-1zM473 377h1v1h-1zM474 378h1v1h-1zM475 378h1v1h-1zM476 379h1v1h-1zM477 379h1v1h-1zM478 380h1v1h-1zM479 380h1v1h-1zM480 381h1v1h-1zM481 381h1v1h-1zM482 382h1v1h-1zM483 382h1v1h-1zM484 383h1v1h-1zM485 383h1v1h-1zM486 384h1v1h-1zM487 384h1v1h-1zM488 384h1v1h-1zM489 384h1v1h-1zM490 384h1v1h-1zM491 384h1v1h-1zM492 384h1v1h-1zM493 384h1v1h-1zM494 384h1v1h-1zM495 384h1v1h-1zM496 384h1v1h-1zM497 384h1v1h-1zM498 384h1v1h-1zM499 383h1v1h-1zM500 383h1v1h-1zM501 383h1v1h-1zM502 383h1v1h-1zM503 383h1v1h-1zM504 383h1v1h-1zM505 382h1v1h-1zM506 382h1v1h-1zM507 382h1v1h-1zM508 382h1v1h-1zM509 382h1v1h-1zM510 382h1v1h-1zM511 382h1v1h-1zM512 382h1v1h-1zM513 382h1v1h-1zM514 382h1v1h-1zM515 381h1v1h-1zM516 381h1v1h-1zM517 381h1v1h-1zM518 381h1v1h-1zM519 380h1v1h-1zM520 380h1v1h-1zM521 379h1v1h-1zM522 378h1v1h-1zM523 377h1v1h-1zM524 376h1v1h-1zM525 375h1v1h-1zM526 374h1v1h-1zM527 373h1v1h-1zM528 372h1v1h-1zM529 371h1v1h-1zM530 370h1v1h-1zM531 369h1v1h-1zM532 368h1v1h-1zM533 367h1v1h-1zM534 366h1v1h-1zM535 365h1v1h-1zM536 364h1v1h-1zM537 364h1v1h-1zM538 363h1v1h-1zM539 362h1v1h-1zM540 361h1v1h-1zM541 361h1v1h-1zM542 360h1v1h-1zM543 359h1v1h-1zM544 359h1v1h-1zM545 358h1v1h-1zM546 358h1v1h-1zM547 357h1v1h-1zM548 356h1v1h-1zM549 355h1v1h-1zM550 354h1v1h-1zM551 353h1v1h-1zM552 352h1v1h-1zM553 351h1v1h-1zM554 350h1v1h-1zM555 349h1v1h-1zM556 348h1v1h-1zM557 347h1v1h-1zM558 346h1v1h-1zM559 345h1v1h-1zM560 344h1v1h-1zM561 344h1v1h-1zM562 343h1v1h-1zM563 342h1v1h-1zM564 342h1v1h-1zM565 341h1v1h-1zM566 341h1v1h-1zM567 340h1v1h-1zM568 339h1v1h-1zM569 339h1v1h-1zM570 338h1v1h-1zM571 338h1v1h-1zM572 337h1v1h-1zM573 337h1v1h-1zM574 336h1v1h-1zM575 336h1v1h-1zM576 336h1v1h-1zM577 335h1v1h-1zM578 335h1v1h-1zM579 334h1v1h-1zM580 334h1v1h-1zM581 334h1v1h-1zM582 334h1v1h-1zM583 333h1v1h-1zM584 333h1v1h-1zM585 333h1v1h-1zM586 332h1v1h-1zM587 332h1v1h-1zM588 332h1v1h-1zM589 332h1v1h-1zM590 332h1v1h-1zM591 332h1v1h-1zM592 331h1v1h-1zM593 331h1v1h-1zM594 331h1v1h-1zM595 331h1v1h-1zM596 331h1v1h-1zM597 331h1v1h-1zM598 331h1v1h-1zM599 332h1v1h-1zM600 333h1v1h-1zM601 334h1v1h-1zM602 335h1v1h-1zM603 336h1v1h-1zM604 337h1v1h-1zM605 338h1v1h-1zM606 339h1v2h-1zM607 341h1v1h-1zM608 342h1v1h-1zM609 343h1v2h-1zM610 345h1v1h-1zM611 346h1v1h-1zM612 347h1v1h-1zM613 348h1v2h-1zM614 350h1v1h-1zM615 351h1v1h-1zM616 352h1v2h-1zM617 354h1v1h-1zM618 355h1v2h-1zM619 357h1v1h-1zM620 358h1v1h-1zM621 359h1v2h-1zM622 361h1v1h-1zM623 362h1v1h-1zM624 363h1v2h-1zM625 365h1v1h-1zM626 366h1v1h-1zM627 367h1v2h-1zM628 369h1v1h-1zM629 370h1v1h-1zM630 371h1v2h-1zM631 373h1v1h-1zM632 374h1v1h-1zM633 375h1v2h-1zM634 377h1v1h-1zM635 378h1v1h-1zM636 379h1v1h-1zM637 380h1v2h-1zM638 382h1v1h-1zM639 383h1v1h-1zM640 384h1v1h-1zM641 385h1v1h-1zM642 386h1v2h-1zM643 388h1v1h-1zM644 389h1v1h-1zM645 390h1v1h-1zM646 391h1v1h-1zM647 392h1v1h-1zM648 393h1v2h-1zM649 395h1v1h-1zM650 396h1v1h-1zM651 397h1v1h-1zM652 398h1v1h-1zM653 399h1v1h-1zM654 400h1v1h-1zM655 401h1v1h-1zM656 402h1v1h-1zM657 403h1v1h-1zM658 404h1v1h-1zM659 404h1v1h-1zM660 405h1v1h-1zM661 406h1v1h-1zM662 406h1v1h-1zM663 407h1v1h-1zM664 408h1v1h-1zM665 408h1v1h-1zM666 409h1v1h-1zM667 409h1v1h-1zM668 410h1v1h-1zM669 410h1v1h-1zM670 410h1v1h-1zM671 411h1v1h-1zM672 411h1v1h-1zM673 411h1v1h-1zM674 411h1v1h-1zM675 411h1v1h-1zM676 412h1v1h-1zM677 412h1v1h-1zM678 412h1v1h-1zM679 412h1v1h-1zM680 413h1v1h-1zM681 413h1v1h-1zM682 413h1v1h-1zM683 414h1v1h-1zM684 414h1v1h-1zM685 414h1v1h-1zM686 414h1v1h-1zM687 415h1v1h-1zM688 415h1v1h-1zM689 415h1v1h-1zM690 416h1v1h-1zM691 416h1v1h-1zM692 416h1v1h-1zM693 417h1v1h-1zM694 417h1v1h-1zM695 417h1v1h-1zM696 417h1v1h-1zM697 418h1v1h-1zM698 418h1v1h-1zM699 418h1v1h-1zM700 419h1v1h-1zM701 419h1v1h-1zM702 419h1v1h-1zM703 419h1v1h-1zM704 420h1v1h-1zM705 420h1v1h-1zM706 420h1v1h-1zM707 421h1v1h-1zM708 421h1v1h-1zM709 421h1v1h-1zM710 422h1v1h-1zM711 422h1v1h-1zM712 422h1v1h-1zM713 423h1v1h-1zM714 423h1v1h-1zM715 424h1v1h-1zM716 424h1v1h-1zM717 425h1v1h-1zM718 425h1v1h-1zM719 425h1v1h-1zM720 426h1v1h-1zM721 426h1v1h-1zM722 426h1v1h-1zM723 426h1v1h-1zM724 426h1v1h-1zM725 426h1v1h-1zM726 426h1v1h-1zM727 426h1v1h-1zM728 426h1v1h-1zM729 426h1v1h-1zM730 426h1v1h-1zM731 426h1v1h-1zM732 426h1v1h-1zM733 427h1v1h-1zM734 427h1v1h-1zM735 427h1v1h-1zM736 428h1v1h-1zM737 428h1v1h-1zM738 428h1v1h-1zM739 429h1v1h-1zM740 429h1v1h-1zM741 430h1v1h-1zM742 430h1v1h-1zM743 430h1v1h-1zM744 431h1v1h-1zM745 431h1v1h-1zM746 431h1v1h-1zM747 432h1v1h-1zM748 432h1v1h-1zM749 432h1v1h-1zM750 433h1v1h-1zM751 433h1v1h-1zM752 433h1v1h-1zM753 434h1v1h-1zM754 434h1v1h-1zM755 434h1v1h-1zM756 434h1v1h-1zM757 434h1v1h-1zM758 435h1v1h-1zM759 435h1v1h-1zM760 435h1v1h-1zM761 434h1v1h-1zM762 434h1v1h-1zM763 434h1v1h-1zM764 433h1v1h-1zM765 433h1v1h-1zM766 432h1v1h-1zM767 431h1v1h-1zM768 430h1v1h-1zM769 430h1v1h-1zM770 429h1v1h-1zM771 429h1v1h-1zM772 428h1v1h-1zM773 428h1v1h-1zM774 428h1v1h-1zM775 427h1v1h-1zM776 427h1v1h-1zM777 426h1v1h-1zM778 426h1v1h-1zM779 425h1v1h-1zM780 424h1v1h-1zM781 423h1v1h-1zM782 422h1v1h-1zM783 421h1v1h-1zM784 419h1v2h-1zM785 418h1v1h-1zM786 417h1v1h-1zM787 416h1v1h-1zM788 414h1v2h-1zM789 413h1v1h-1zM790 412h1v1h-1zM791 411h1v1h-1zM792 410h1v1h-1zM793 409h1v1h-1zM794 408h1v1h-1zM795 407h1v1h-1zM796 406h1v1h-1zM797 405h1v1h-1zM798 404h1v1h-1zM799 403h1v1h-1zM800 402h1v1h-1zM801 402h1v1h-1zM802 401h1v1h-1zM803 400h1v1h-1zM804 399h1v1h-1zM805 399h1v1h-1zM806 398h1v1h-1zM807 397h1v1h-1zM808 396h1v1h-1zM809 396h1v1h-1zM810 395h1v1h-1zM811 394h1v1h-1zM812 393h1v1h-1zM813 392h1v1h-1zM814 391h1v1h-1zM815 391h1v1h-1zM816 390h1v1h-1zM817 389h1v1h-1zM818 388h1v1h-1zM819 387h1v1h-1zM820 386h1v1h-1zM821 385h1v1h-1zM822 384h1v1h-1zM823 384h1v1h-1zM824 383h1v1h-1zM825 382h1v1h-1zM826 381h1v1h-1zM827 380h1v1h-1zM828 379h1v1h-1zM829 378h1v1h-1zM830 377h1v1h-1zM831 376h1v1h-1zM832 375h1v1h-1zM833 374h1v1h-1zM834 373h1v1h-1zM835 372h1v1h-1zM836 371h1v1h-1zM837 370h1v1h-1zM838 369h1v1h-1zM839 368h1v1h-1zM840 367h1v1h-1zM841 366h1v1h-1zM842 365h1v1h-1zM843 364h1v1h-1zM844 363h1v1h-1zM845 362h1v1h-1zM846 361h1v1h-1zM847 359h1v2h-1zM848 358h1v1h-1zM849 357h1v1h-1zM850 356h1v1h-1zM851 355h1v1h-1zM852 354h1v1h-1zM853 353h1v1h-1zM854 351h1v2h-1zM855 350h1v1h-1zM856 349h1v1h-1zM857 348h1v1h-1zM858 347h1v1h-1zM859 346h1v1h-1zM860 345h1v1h-1zM861 344h1v1h-1zM862 343h1v1h-1zM863 343h1v1h-1zM864 343h1v1h-1zM865 343h1v1h-1zM866 342h1v1h-1zM867 342h1v1h-1zM868 342h1v1h-1zM869 341h1v1h-1zM870 341h1v1h-1zM871 341h1v1h-1zM872 341h1v1h-1zM873 340h1v1h-1zM874 340h1v1h-1zM875 340h1v1h-1zM876 340h1v1h-1zM877 340h1v1h-1zM878 340h1v1h-1zM879 340h1v1h-1zM880 339h1v1h-1zM881 339h1v1h-1zM882 339h1v1h-1zM883 339h1v1h-1zM884 339h1v1h-1zM885 339h1v1h-1zM886 339h1v1h-1zM887 339h1v1h-1zM888 339h1v1h-1zM889 339h1v1h-1zM890 339h1v1h-1zM891 339h1v1h-1zM892 339h1v1h-1zM893 339h1v1h-1zM894 339h1v1h-1zM895 339h1v1h-1zM896 339h1v1h-1zM897 339h1v1h-1zM898 340h1v1h-1zM899 340h1v1h-1zM900 340h1v1h-1zM901 340h1v1h-1zM902 341h1v1h-1zM903 341h1v1h-1zM904 342h1v1h-1zM905 342h1v1h-1zM906 343h1v1h-1zM907 343h1v1h-1zM908 344h1v1h-1zM909 345h1v1h-1zM910 345h1v1h-1zM911 346h1v1h-1zM912 346h1v1h-1zM913 347h1v1h-1zM914 348h1v1h-1zM915 348h1v1h-1zM916 349h1v1h-1zM917 349h1v1h-1zM918 350h1v1h-1zM919 351h1v1h-1zM920 351h1v1h-1zM921 352h1v1h-1zM922 353h1v1h-1zM923 354h1v1h-1zM924 354h1v1h-1zM925 355h1v1h-1zM926 356h1v1h-1zM927 356h1v1h-1zM928 357h1v1h-1z"/><path fill="#0000ff" d="M9 92h1v1h-1zM10 92h1v1h-1zM11 93h1v1h-1zM12 93h1v1h-1zM13 93h1v1h-1zM14 93h1v1h-1zM15 93h1v1h-1zM16 93h1v1h-1zM17 93h1v1h-1zM18 93h1v1h-1zM19 93h1v1h-1zM20 93h1v1h-1zM21 93h1v1h-1zM22 94h1v1h-1zM23 94h1v1h-1zM24 94h1v1h-1zM25 94h1v1h-1zM26 94h1v1h-1zM27 94h1v1h-1zM28 94h1v1h-1zM29 94h1v1h-1zM30 94h1v1h-1zM31 95h1v1h-1zM32 95h1v1h-1zM33 95h1v1h-1zM34 95h1v1h-1zM35 95h1v1h-1zM36 95h1v1h-1zM37 95h1v1h-1zM38 96h1v1h-1zM39 96h1v1h-1zM40 96h1v1h-1zM41 96h1v1h-1zM42 96h1v1h-1zM43 97h1v1h-1zM44 97h1v1h-1zM45 97h1v1h-1zM46 97h1v1h-1zM47 98h1v1h-1zM48 98h1v1h-1zM49 98h1v1h-1zM50 99h1v1h-1zM51 99h1v1h-1zM52 99h1v1h-1zM53 100h1v1h-1zM54 100h1v1h-1zM55 100h1v1h-1zM56 101h1v1h-1zM57 101h1v1h-1zM58 102h1v1h-1zM59 102h1v1h-1zM60 103h1v1h-1zM61 103h1v1h-1zM62 103h1v1h-1zM63 104h1v1h-1zM64 104h1v1h-1zM65 105h1v1h-1zM66 106h1v2h-1zM67 108h1v2h-1zM68 110h1v1h-1zM69 110h1v1h-1zM70 110h1v1h-1zM71 110h1v1h-1zM72 110h1v1h-1zM73 111h1v1h-1zM74 111h1v1h-1zM75 111h1v1h-1zM76 112h1v1h-1zM77 112h1v1h-1zM78 113h1v1h-1zM79 113h1v1h-1zM80 114h1v1h-1zM81 114h1v1h-1zM82 115h1v1h-1zM83 115h1v1h-1zM84 116h1v1h-1zM85 116h1v1h-1zM86 115h1v1h-1zM87 115h1v1h-1zM88 114h1v1h-1zM89 112h1v2h-1zM90 111h1v1h-1zM91 109h1v2h-1zM92 108h1v1h-1zM93 106h1v2h-1zM94 105h1v1h-1zM95 104h1v1h-1zM96 104h1v1h-1zM97 103h1v1h-1zM98 102h1v1h-1zM99 102h1v1h-1zM100 101h1v1h-1zM101 101h1v1h-1zM102 100h1v1h-1zM103 100h1v1h-1zM104 100h1v1h-1zM105 100h1v1h-1zM106 100h1v1h-1zM107 100h1v1h-1zM108 100h1v1h-1zM109 100h1v1h-1zM110 101h1v1h-1zM111 101h1v1h-1zM112 102h1v1h-1zM113 102h1v1h-1zM114 103h1v1h-1zM115 104h1v1h-1zM116 105h1v1h-1zM117 106h1v1h-1zM118 107h1v1h-1zM119 108h1v1h-1zM120 109h1v2h-1zM121 111h1v1h-1zM122 112h1v1h-1zM123 113h1v1h-1zM124 114h1v2h-1zM125 116h1v1h-1zM126 117h1v1h-1zM127 118h1v2h-1zM128 120h1v1h-1zM129 121h1v1h-1zM130 122h1v2h-1zM131 124h1v1h-1zM132 125h1v1h-1zM133 126h1v1h-1zM134 127h1v2h-1zM135 129h1v1h-1zM136 130h1v1h-1zM137 131h1v1h-1zM138 132h1v1h-1zM139 133h1v1h-1zM140 134h1v1h-1zM141 134h1v1h-1zM142 135h1v1h-1zM143 136h1v1h-1zM144 136h1v1h-1zM145 136h1v1h-1zM146 137h1v1h-1zM147 137h1v1h-1zM148 137h1v1h-1zM149 138h1v1h-1zM150 138h1v1h-1zM151 139h1v1h-1zM152 140h1v1h-1zM153 141h1v1h-1zM154 142h1v1h-1zM155 143h1v2h-1zM156 145h1v3h-1zM157 148h1v3h-1zM158 151h1v3h-1zM159 154h1v2h-1zM160 156h1v3h-1zM161 159h1v3h-1zM162 162h1v2h-1zM163 164h1v3h-1zM164 167h1v2h-1zM165 169h1v3h-1zM166 172h1v3h-1zM167 175h1v3h-1zM168 178h1v3h-1zM169 181h1v3h-1zM170 184h1v3h-1zM171 187h1v3h-1zM172 190h1v4h-1zM173 194h1v3h-1zM174 197h1v4h-1zM175 201h1v3h-1zM176 204h1v3h-1zM177 207h1v4h-1zM178 211h1v3h-1zM179 214h1v4h-1zM180 218h1v4h-1zM181 222h1v3h-1zM182 225h1v4h-1zM183 229h1v4h-1zM184 233h1v4h-1zM185 237h1v4h-1zM186 241h1v3h-1zM187 244h1v4h-1zM188 248h1v4h-1zM189 252h1v5h-1zM190 257h1v4h-1zM191 261h1v5h-1zM192 266h1v5h-1zM193 271h1v5h-1zM194 276h1v5h-1zM195 281h1v6h-1zM196 287h1v3h-1zM197 290h1v2h-1zM198 292h1v2h-1zM199 294h1v3h-1zM200 297h1v2h-1zM201 299h1v2h-1zM202 301h1v2h-1zM203 303h1v2h-1zM204 304h1v1h-1zM205 304h1v1h-1zM206 304h1v1h-1zM207 304h1v1h-1zM208 303h1v1h-1zM209 302h1v1h-1zM210 302h1v1h-1zM211 301h1v1h-1zM212 300h1v1h-1zM213 299h1v1h-1zM214 298h1v1h-1zM215 297h1v1h-1zM216 296h1v1h-1zM217 296h1v1h-1zM218 295h1v1h-1zM219 294h1v1h-1zM220 293h1v1h-1zM221 292h1v1h-1zM222 291h1v1h-1zM223 291h1v1h-1zM224 290h1v1h-1zM225 289h1v1h-1zM226 289h1v1h-1zM227 288h1v1h-1zM228 287h1v1h-1zM229 287h1v1h-1zM230 286h1v1h-1zM231 285h1v1h-1zM232 285h1v1h-1zM233 284h1v1h-1zM234 283h1v1h-1zM235 283h1v1h-1zM236 282h1v1h-1zM237 281h1v1h-1zM238 280h1v1h-1zM239 279h1v1h-1zM240 278h1v1h-1zM241 277h1v1h-1zM242 277h1v1h-1zM243 276h1v1h-1zM244 276h1v1h-1zM245 276h1v1h-1zM246 276h1v1h-1zM247 275h1v1h-1zM248 275h1v1h-1zM249 275h1v1h-1zM250 276h1v1h-1zM251 276h1v1h-1zM252 276h1v1h-1zM253 276h1v1h-1zM254 277h1v1h-1zM255 277h1v1h-1zM256 278h1v1h-1zM257 278h1v1h-1zM258 279h1v1h-1zM259 279h1v1h-1zM260 280h1v1h-1zM261 280h1v1h-1zM262 281h1v1h-1zM263 281h1v1h-1zM264 282h1v1h-1zM265 282h1v1h-1zM266 283h1v1h-1zM267 283h1v1h-1zM268 284h1v1h-1zM269 285h1v1h-1zM270 286h1v1h-1zM271 287h1v1h-1zM272 288h1v2h-1zM273 290h1v1h-1zM274 291h1v2h-1zM275 293h1v2h-1zM276 295h1v1h-1zM277 296h1v2h-1zM278 298h1v2h-1zM279 300h1v1h-1zM280 301h1v2h-1zM281 303h1v1h-1zM282 304h1v1h-1zM283 305h1v1h-1zM284 306h1v1h-1zM285 307h1v1h-1zM286 308h1v1h-1zM287 309h1v2h-1zM288 311h1v1h-1zM289 312h1v1h-1zM290 313h1v1h-1zM291 314h1v2h-1zM292 316h1v1h-1zM293 317h1v2h-1zM294 319h1v2h-1zM295 321h1v1h-1zM296 322h1v2h-1zM297 324h1v1h-1zM298 325h1v2h-1zM299 327h1v1h-1zM300 328h1v1h-1zM301 329h1v1h-1zM302 330h1v1h-1zM303 331h1v1h-1zM304 332h1v1h-1zM305 332h1v1h-1zM306 333h1v1h-1zM307 333h1v1h-1zM308 334h1v1h-1zM309 334h1v1h-1zM310 335h1v1h-1zM311 335h1v1h-1zM312 335h1v1h-1zM313 336h1v1h-1zM314 336h1v1h-1zM315 336h1v1h-1zM316 335h1v1h-1zM317 335h1v1h-1zM318 335h1v1h-1zM319 336h1v1h-1zM320 336h1v1h-1zM321 336h1v1h-1zM322 337h1v1h-1zM323 337h1v1h-1zM324 338h1v1h-1zM325 338h1v1h-1zM326 339h1v1h-1zM327 339h1v1h-1zM328 340h1v1h-1zM329 340h1v1h-1zM330 341h1v1h-1zM331 342h1v1h-1zM332 342h1v1h-1zM333 343h1v1h-1zM334 344h1v1h-1zM335 344h1v1h-1zM336 345h1v1h-1zM337 346h1v1h-1zM338 346h1v1h-1zM339 347h1v1h-1zM340 348h1v1h-1zM341 348h1v1h-1zM342 349h1v1h-1zM343 350h1v1h-1zM344 350h1v1h-1zM345 351h1v1h-1zM346 351h1v1h-1zM347 351h1v1h-1zM348 352h1v1h-1zM349 352h1v1h-1zM350 352h1v1h-1zM351 353h1v1h-1zM352 353h1v1h-1zM353 353h1v1h-1zM354 353h1v1h-1zM355 353h1v1h-1zM356 354h1v1h-1zM357 354h1v1h-1zM358 354h1v1h-1zM359 354h1v1h-1zM360 354h1v1h-1zM361 353h1v1h-1zM362 353h1v1h-1zM363 352h1v1h-1zM364 352h1v1h-1zM365 351h1v1h-1zM366 350h1v1h-1zM367 349h1v1h-1zM368 349h1v1h-1zM369 348h1v1h-1zM370 347h1v1h-1zM371 347h1v1h-1zM372 346h1v1h-1zM373 346h1v1h-1zM374 345h1v1h-1zM375 345h1v1h-1zM376 344h1v1h-1zM377 343h1v1h-1zM378 342h1v1h-1zM379 341h1v1h-1zM380 340h1v1h-1zM381 339h1v1h-1zM382 339h1v1h-1zM383 339h1v1h-1zM384 340h1v1h-1zM385 340h1v1h-1zM386 341h1v1h-1zM387 342h1v1h-1zM388 343h1v1h-1zM389 344h1v1h-1zM390 345h1v1h-1zM391 345h1v1h-1zM392 346h1v1h-1zM393 347h1v1h-1zM394 348h1v1h-1zM395 348h1v1h-1zM396 349h1v1h-1zM397 349h1v1h-1zM398 349h1v1h-1zM399 350h1v1h-1zM400 350h1v1h-1zM401 351h1v1h-1zM402 351h1v1h-1zM403 352h1v1h-1zM404 353h1v1h-1zM405 354h1v1h-1zM406 355h1v1h-1zM407 355h1v1h-1zM408 356h1v1h-1zM409 357h1v1h-1zM410 358h1v1h-1zM411 359h1v1h-1zM412 359h1v1h-1zM413 360h1v1h-1zM414 361h1v1h-1zM415 362h1v1h-1zM416 362h1v1h-1zM417 363h1v1h-1zM418 364h1v1h-1zM419 364h1v1h-1zM420 365h1v1h-1zM421 366h1v1h-1zM422 366h1v1h-1zM423 367h1v1h-1zM424 367h1v1h-1zM425 368h1v1h-1zM426 368h1v1h-1zM427 368h1v1h-1zM428 368h1v1h-1zM429 367h1v1h-1zM430 367h1v1h-1zM431 367h1v1h-1zM432 367h1v1h-1zM433 367h1v1h-1zM434 367h1v1h-1zM435 367h1v1h-1zM436 368h1v1h-1zM437 368h1v1h-1zM438 369h1v1h-1zM439 370h1v1h-1zM440 371h1v1h-1zM441 371h1v1h-1zM442 372h1v1h-1zM443 373h1v1h-1zM444 374h1v1h-1zM445 375h1v1h-1zM446 376h1v1h-1zM447 377h1v1h-1zM448 378h1v1h-1zM449 379h1v1h-1zM450 379h1v1h-1zM451 380h1v1h-1zM452 380h1v1h-1zM453 380h1v1h-1zM454 381h1v1h-1zM455 381h1v1h-1zM456 381h1v1h-1zM457 381h1v1h-1zM458 382h1v1h-1zM459 382h1v1h-1zM460 382h1v1h-1zM461 382h1v1h-1zM462 382h1v1h-1zM463 383h1v1h-1zM464 383h1v1h-1zM465 383h1v1h-1zM466 383h1v1h-1zM467 383h1v1h-1zM468 384h1v1h-1zM469 384h1v1h-1zM470 384h1v1h-1zM471 385h1v1h-1zM472 385h1v1h-1zM473 386h1v1h-1zM474 386h1v1h-1zM475 386h1v1h-1zM476 387h1v1h-1zM477 387h1v1h-1zM478 388h1v1h-1zM479 388h1v1h-1zM480 389h1v1h-1zM481 389h1v1h-1zM482 390h1v1h-1zM483 390h1v1h-1zM484 390h1v1h-1zM485 390h1v1h-1zM486 390h1v1h-1zM487 389h1v1h-1zM488 389h1v1h-1zM489 388h1v1h-1zM490 388h1v1h-1zM491 387h1v1h-1zM492 386h1v1h-1zM493 386h1v1h-1zM494 386h1v1h-1zM495 386h1v1h-1zM496 386h1v1h-1zM497 386h1v1h-1zM498 387h1v1h-1zM499 387h1v1h-1zM500 387h1v1h-1zM501 387h1v1h-1zM502 386h1v1h-1zM503 386h1v1h-1zM504 385h1v1h-1zM505 385h1v1h-1zM506 384h1v1h-1zM507 384h1v1h-1zM508 383h1v1h-1zM509 382h1v1h-1zM510 381h1v1h-1zM511 381h1v1h-1zM512 380h1v1h-1zM513 379h1v1h-1zM514 378h1v1h-1zM515 377h1v1h-1zM516 376h1v1h-1zM517 375h1v1h-1zM518 373h1v2h-1zM519 372h1v1h-1zM520 370h1v2h-1zM521 368h1v2h-1zM522 366h1v2h-1zM523 364h1v2h-1zM524 362h1v2h-1zM525 360h1v2h-1zM526 358h1v2h-1zM527 356h1v2h-1zM528 355h1v1h-1zM529 353h1v2h-1zM530 352h1v1h-1zM531 350h1v2h-1zM532 349h1v1h-1zM533 348h1v1h-1zM534 346h1v2h-1zM535 345h1v1h-1zM536 344h1v1h-1zM537 343h1v1h-1zM538 341h1v2h-1zM539 340h1v1h-1zM540 339h1v1h-1zM541 338h1v1h-1zM542 337h1v1h-1zM543 335h1v2h-1zM544 334h1v1h-1zM545 333h1v1h-1zM546 332h1v1h-1zM547 331h1v1h-1zM548 330h1v1h-1zM549 329h1v1h-1zM550 328h1v1h-1zM551 327h1v1h-1zM552 326h1v1h-1zM553 325h1v1h-1zM554 324h1v1h-1zM555 323h1v1h-1zM556 323h1v1h-1zM557 322h1v1h-1zM558 321h1v1h-1zM559 320h1v1h-1zM560 320h1v1h-1zM561 320h1v1h-1zM562 320h1v1h-1zM563 320h1v1h-1zM564 320h1v1h-1zM565 320h1v1h-1zM566 320h1v1h-1zM567 320h1v1h-1zM568 321h1v1h-1zM569 321h1v1h-1zM570 321h1v1h-1zM571 321h1v1h-1zM572 322h1v1h-1zM573 322h1v1h-1zM574 323h1v1h-1zM575 324h1v1h-1zM576 325h1v1h-1zM577 326h1v1h-1zM578 327h1v1h-1zM579 327h1v1h-1zM580 328h1v1h-1zM581 329h1v1h-1zM582 329h1v1h-1zM583 330h1v1h-1zM584 331h1v1h-1zM585 331h1v1h-1zM586 332h1v1h-1zM587 332h1v1h-1zM588 333h1v1h-1zM589 333h1v1h-1zM590 334h1v1h-1zM591 335h1v1h-1zM592 336h1v1h-1zM593 337h1v1h-1zM594 338h1v1h-1zM595 339h1v1h-1zM596 340h1v2h-1zM597 342h1v2h-1zM598 344h1v1h-1zM599 345h1v2h-1zM600 347h1v2h-1zM601 349h1v2h-1zM602 351h1v2h-1zM603 353h1v2h-1zM604 355h1v2h-1zM605 357h1v2h-1zM606 359h1v2h-1zM607 361h1v2h-1zM608 363h1v3h-1zM609 366h1v2h-1zM610 368h1v2h-1zM611 370h1v2h-1zM612 372h1v2h-1zM613 374h1v2h-1zM614 376h1v3h-1zM615 379h1v2h-1zM616 381h1v2h-1zM617 383h1v3h-1zM618 386h1v2h-1zM619 388h1v2h-1zM620 390h1v2h-1zM621 392h1v3h-1zM622 395h1v2h-1zM623 397h1v3h-1zM624 400h1v2h-1zM625 402h1v2h-1zM626 404h1v2h-1zM627 406h1v2h-1zM628 408h1v3h-1zM629 411h1v2h-1zM630 413h1v2h-1zM631 415h1v1h-1zM632 416h1v1h-1zM633 417h1v1h-1zM634 418h1v1h-1zM635 419h1v1h-1zM636 419h1v1h-1zM637 420h1v1h-1zM638 420h1v1h-1zM639 421h1v1h-1zM640 421h1v1h-1zM641 422h1v1h-1zM642 422h1v1h-1zM643 422h1v1h-1zM644 423h1v1h-1zM645 423h1v1h-1zM646 423h1v1h-1zM647 424h1v1h-1zM648 424h1v1h-1zM649 424h1v1h-1zM650 425h1v1h-1zM651 425h1v1h-1zM652 425h1v1h-1zM653 425h1v1h-1zM654 424h1v1h-1zM655 424h1v1h-1zM656 424h1v1h-1zM657 423h1v1h-1zM658 423h1v1h-1zM659 422h1v1h-1zM660 421h1v1h-1zM661 421h1v1h-1zM662 420h1v1h-1zM663 419h1v1h-1zM664 418h1v1h-1zM665 416h1v2h-1zM666 415h1v1h-1zM667 414h1v1h-1zM668 413h1v1h-1zM669 412h1v1h-1zM670 411h1v1h-1zM671 410h1v1h-1zM672 409h1v1h-1zM673 407h1v2h-1zM674 406h1v1h-1zM675 405h1v1h-1zM676 404h1v1h-1zM677 403h1v1h-1zM678 403h1v1h-1zM679 403h1v1h-1zM680 402h1v1h-1zM681 402h1v1h-1zM682 403h1v1h-1zM683 403h1v1h-1zM684 403h1v1h-1zM685 404h1v1h-1zM686 404h1v1h-1zM687 405h1v1h-1zM688 405h1v1h-1zM689 406h1v1h-1zM690 406h1v1h-1zM691 406h1v1h-1zM692 407h1v1h-1zM693 407h1v1h-1zM694 408h1v1h-1zM695 408h1v1h-1zM696 409h1v1h-1zM697 410h1v1h-1zM698 411h1v1h-1zM699 412h1v1h-1zM700 413h1v2h-1zM701 415h1v2h-1zM702 417h1v1h-1zM703 418h1v2h-1zM704 420h1v2h-1zM705 422h1v1h-1zM706 423h1v2h-1zM707 425h1v2h-1zM708 427h1v2h-1zM709 429h1v1h-1zM710 430h1v2h-1zM711 432h1v1h-1zM712 433h1v2h-1zM713 435h1v2h-1zM714 437h1v1h-1zM715 438h1v2h-1zM716 440h1v1h-1zM717 441h1v2h-1zM718 443h1v1h-1zM719 444h1v1h-1zM720 445h1v2h-1zM721 447h1v1h-1zM722 448h1v1h-1zM723 449h1v1h-1zM724 449h1v1h-1zM725 449h1v1h-1zM726 450h1v1h-1zM727 449h1v1h-1zM728 449h1v1h-1zM729 449h1v1h-1zM730 448h1v1h-1zM731 448h1v1h-1zM732 448h1v1h-1zM733 447h1v1h-1zM734 447h1v1h-1zM735 447h1v1h-1zM736 446h1v1h-1zM737 446h1v1h-1zM738 445h1v1h-1zM739 444h1v1h-1zM740 444h1v1h-1zM741 443h1v1h-1zM742 442h1v1h-1zM743 440h1v2h-1zM744 439h1v1h-1zM745 438h1v1h-1zM746 437h1v1h-1zM747 436h1v1h-1zM748 435h1v1h-1zM749 434h1v1h-1zM750 433h1v1h-1zM751 432h1v1h-1zM752 431h1v1h-1zM753 430h1v1h-1zM754 428h1v2h-1zM755 427h1v1h-1zM756 425h1v2h-1zM757 424h1v1h-1zM758 422h1v2h-1zM759 421h1v1h-1zM760 419h1v2h-1zM761 418h1v1h-1zM762 416h1v2h-1zM763 415h1v1h-1zM764 414h1v1h-1zM765 413h1v1h-1zM766 413h1v1h-1zM767 412h1v1h-1zM768 412h1v1h-1zM769 412h1v1h-1zM770 411h1v1h-1zM771 411h1v1h-1zM772 411h1v1h-1zM773 410h1v1h-1zM774 410h1v1h-1zM775 409h1v1h-1zM776 409h1v1h-1zM777 408h1v1h-1zM778 408h1v1h-1zM779 407h1v1h-1zM780 406h1v1h-1zM781 405h1v1h-1zM782 404h1v1h-1zM783 403h1v1h-1zM784 402h1v1h-1zM785 401h1v1h-1zM786 400h1v1h-1zM787 399h1v1h-1zM788 398h1v1h-1zM789 397h1v1h-1zM790 396h1v1h-1zM791 395h1v1h-1zM792 394h1v1h-1zM793 393h1v1h-1zM794 392h1v1h-1zM795 391h1v1h-1zM796 390h1v1h-1zM797 390h1v1h-1zM798 389h1v1h-1zM799 388h1v1h-1zM800 387h1v1h-1zM801 386h1v1h-1zM802 385h1v1h-1zM803 384h1v1h-1zM804 383h1v1h-1zM805 382h1v1h-1zM806 381h1v1h-1zM807 380h1v1h-1zM808 379h1v1h-1zM809 377h1v2h-1zM810 376h1v1h-1zM811 375h1v1h-1zM812 374h1v1h-1zM813 373h1v1h-1zM814 372h1v1h-1zM815 371h1v1h-1zM816 370h1v1h-1zM817 369h1v1h-1zM818 367h1v2h-1zM819 366h1v1h-1zM820 365h1v1h-1zM821 364h1v1h-1zM822 363h1v1h-1zM823 362h1v1h-1zM824 361h1v1h-1zM825 360h1v1h-1zM826 359h1v1h-1zM827 358h1v1h-1zM828 356h1v2h-1zM829 355h1v1h-1zM830 354h1v1h-1zM831 353h1v1h-1zM832 352h1v1h-1zM833 351h1v1h-1zM834 350h1v1h-1zM835 349h1v1h-1zM836 348h1v1h-1zM837 346h1v2h-1zM838 345h1v1h-1zM839 344h1v1h-1zM840 343h1v1h-1zM841 342h1v1h-1zM842 341h1v1h-1zM843 340h1v1h-1zM844 339h1v1h-1zM845 338h1v1h-1zM846 337h1v1h-1zM847 336h1v1h-1zM848 335h1v1h-1zM849 334h1v1h-1zM850 333h1v1h-1zM851 332h1v1h-1zM852 331h1v1h-1zM853 330h1v1h-1zM854 329h1v1h-1zM855 328h1v1h-1zM856 327h1v1h-1zM857 327h1v1h-1zM858 326h1v1h-1zM859 325h1v1h-1zM860 325h1v1h-1zM861 324h1v1h-1zM862 324h1v1h-1zM863 324h1v1h-1zM864 324h1v1h-1zM865 325h1v1h-1zM866 325h1v1h-1zM867 326h1v1h-1zM868 326h1v1h-1zM869 327h1v1h-1zM870 328h1v1h-1zM871 329h1v1h-1zM872 330h1v1h-1zM873 331h1v1h-1zM874 332h1v1h-1zM875 333h1v1h-1zM876 334h1v1h-1zM877 335h1v1h-1zM878 336h1v1h-1zM879 337h1v2h-1zM880 339h1v1h-1zM881 340h1v1h-1zM882 341h1v1h-1zM883 342h1v1h-1zM884 342h1v1h-1zM885 343h1v1h-1zM886 344h1v1h-1zM887 345h1v1h-1zM888 346h1v1h-1zM889 347h1v1h-1zM890 347h1v1h-1zM891 348h1v1h-1zM892 349h1v1h-1zM893 350h1v1h-1zM894 350h1v1h-1zM895 351h1v1h-1zM896 352h1v1h-1zM897 353h1v1h-1zM898 353h1v1h-1zM899 354h1v1h-1zM900 355h1v1h-1zM901 356h1v1h-1zM902 356h1v1h-1zM903 357h1v1h-1zM904 358h1v1h-1zM905 359h1v1h-1zM906 359h1v1h-1zM907 360h1v1h-1zM908 361h1v1h-1zM909 362h1v1h-1zM910 363h1v1h-1zM911 364h1v1h-1zM912 364h1v1h-1zM913 364h1v1h-1zM914 365h1v1h-1zM915 365h1v1h-1zM916 365h1v1h-1zM917 365h1v1h-1zM918 365h1v1h-1zM919 365h1v1h-1zM920 365h1v1h-1zM921 365h1v1h-1zM922 364h1v1h-1zM923 364h1v1h-1zM924 364h1v1h-1zM925 364h1v1h-1zM926 364h1v1h-1zM927 365h1v1h-1zM928 366h1v1h-1zM929 367h1v1h-1z"/><path fill="#ff0000" d="M9 93h1v1h-1zM10 93h1v1h-1zM11 93h1v1h-1zM12 93h1v1h-1zM13 93h1v1h-1zM14 94h1v1h-1zM15 94h1v1h-1zM16 94h1v1h-1zM17 94h1v1h-1zM18 94h1v1h-1zM19 94h1v1h-1zM20 95h1v1h-1zM21 95h1v1h-1zM22 95h1v1h-1zM23 95h1v1h-1zM24 95h1v1h-1zM25 96h1v1h-1zM26 96h1v1h-1zM27 96h1v1h-1zM28 96h1v1h-1zM29 96h1v1h-1zM30 96h1v1h-1zM31 97h1v1h-1zM32 97h1v1h-1zM33 97h1v1h-1zM34 97h1v1h-1zM35 97h1v1h-1zM36 98h1v1h-1zM37 98h1v1h-1zM38 98h1v1h-1zM39 98h1v1h-1zM40 98h1v1h-1zM41 99h1v1h-1zM42 99h1v1h-1zM43 99h1v1h-1zM44 99h1v1h-1zM45 99h1v1h-1zM46 100h1v1h-1zM47 100h1v1h-1zM48 100h1v1h-1zM49 100h1v1h-1zM50 101h1v1h-1zM51 101h1v1h-1zM52 101h1v2h-1zM53 103h1v2h-1zM54 105h1v2h-1zM55 107h1v1h-1zM56 108h1v2h-1zM57 110h1v2h-1zM58 112h1v1h-1zM59 113h1v1h-1zM60 114h1v1h-1zM61 115h1v1h-1zM62 116h1v1h-1zM63 117h1v1h-1zM64 118h1v1h-1zM65 119h1v2h-1zM66 121h1v1h-1zM67 122h1v1h-1zM68 123h1v1h-1zM69 123h1v1h-1zM70 124h1v1h-1zM71 123h1v1h-1zM72 121h1v2h-1zM73 120h1v1h-1zM74 119h1v1h-1zM75 118h1v1h-1zM76 116h1v2h-1zM77 115h1v1h-1zM78 114h1v1h-1zM79 113h1v1h-1zM80 112h1v1h-1zM81 110h1v2h-1zM82 108h1v2h-1zM83 106h1v2h-1zM84 105h1v1h-1zM85 104h1v1h-1zM86 102h1v2h-1zM87 101h1v1h-1zM88 101h1v1h-1zM89 100h1v1h-1zM90 100h1v1h-1zM91 100h1v1h-1zM92 100h1v1h-1zM93 100h1v1h-1zM94 100h1v1h-1zM95 100h1v1h-1zM96 99h1v1h-1zM97 99h1v1h-1zM98 99h1v1h-1zM99 99h1v1h-1zM100 99h1v1h-1zM101 99h1v1h-1zM102 99h1v1h-1zM103 99h1v1h-1zM104 99h1v1h-1zM105 100h1v1h-1zM106 100h1v1h-1zM107 100h1v1h-1zM108 100h1v1h-1zM109 100h1v1h-1zM110 100h1v1h-1zM111 100h1v1h-1zM112 100h1v1h-1zM113 101h1v1h-1zM114 102h1v1h-1zM115 103h1v2h-1zM116 105h1v1h-1zM117 106h1v1h-1zM118 107h1v2h-1zM119 109h1v1h-1zM120 110h1v2h-1zM121 112h1v2h-1zM122 114h1v1h-1zM123 115h1v2h-1zM124 117h1v1h-1zM125 118h1v2h-1zM126 120h1v2h-1zM127 122h1v1h-1zM128 123h1v2h-1zM129 125h1v2h-1zM130 127h1v1h-1zM131 128h1v2h-1zM132 130h1v1h-1zM133 131h1v2h-1zM134 133h1v2h-1zM135 135h1v1h-1zM136 136h1v2h-1zM137 138h1v2h-1zM138 140h1v2h-1zM139 142h1v1h-1zM140 143h1v2h-1zM141 145h1v1h-1zM142 146h1v1h-1zM143 147h1v1h-1zM144 148h1v1h-1zM145 148h1v1h-1zM146 148h1v1h-1zM147 148h1v1h-1zM148 148h1v1h-1zM149 148h1v1h-1zM150 148h1v1h-1zM151 148h1v1h-1zM152 148h1v1h-1zM153 148h1v1h-1zM154 148h1v1h-1zM155 148h1v1h-1zM156 148h1v1h-1zM157 149h1v1h-1zM158 150h1v2h-1zM159 152h1v3h-1zM160 155h1v3h-1zM161 158h1v3h-1zM162 161h1v3h-1zM163 164h1v3h-1zM164 167h1v3h-1zM165 170h1v4h-1zM166 174h1v4h-1zM167 178h1v5h-1zM168 183h1v5h-1zM169 188h1v6h-1zM170 194h1v5h-1zM171 199h1v6h-1zM172 205h1v5h-1zM173 210h1v6h-1zM174 216h1v7h-1zM175 223h1v6h-1zM176 229h1v6h-1zM177 235h1v7h-1zM178 242h1v6h-1zM179 248h1v7h-1zM180 255h1v6h-1zM181 261h1v7h-1zM182 268h1v7h-1zM183 275h1v7h-1zM184 282h1v6h-1zM185 288h1v4h-1zM186 292h1v4h-1zM187 296h1v2h-1zM188 298h1v2h-1zM189 300h1v2h-1zM190 302h1v2h-1zM191 304h1v2h-1zM192 306h1v1h-1zM193 307h1v1h-1zM194 307h1v1h-1zM195 308h1v1h-1zM196 308h1v1h-1zM197 308h1v1h-1zM198 309h1v1h-1zM199 309h1v1h-1zM200 309h1v1h-1zM201 309h1v1h-1zM202 308h1v1h-1zM203 307h1v1h-1zM204 306h1v1h-1zM205 304h1v2h-1zM206 302h1v2h-1zM207 301h1v1h-1zM208 299h1v2h-1zM209 297h1v2h-1zM210 295h1v2h-1zM211 294h1v1h-1zM212 292h1v2h-1zM213 291h1v1h-1zM214 290h1v1h-1zM215 289h1v1h-1zM216 288h1v1h-1zM217 288h1v1h-1zM218 287h1v1h-1zM219 287h1v1h-1zM220 286h1v1h-1zM221 286h1v1h-1zM222 286h1v1h-1zM223 286h1v1h-1zM224 285h1v1h-1zM225 284h1v1h-1zM226 284h1v1h-1zM227 283h1v1h-1zM228 281h1v2h-1zM229 280h1v1h-1zM230 279h1v1h-1zM231 278h1v1h-1zM232 278h1v1h-1zM233 277h1v1h-1zM234 276h1v1h-1zM235 275h1v1h-1zM236 274h1v1h-1zM237 274h1v1h-1zM238 274h1v1h-1zM239 274h1v1h-1zM240 274h1v1h-1zM241 275h1v1h-1zM242 276h1v1h-1zM243 276h1v1h-1zM244 276h1v1h-1zM245 276h1v1h-1zM246 276h1v1h-1zM247 276h1v1h-1zM248 276h1v1h-1zM249 276h1v1h-1zM250 276h1v1h-1zM251 276h1v1h-1zM252 277h1v1h-1zM253 277h1v1h-1zM254 278h1v1h-1zM255 278h1v1h-1zM256 279h1v1h-1zM257 279h1v1h-1zM258 280h1v1h-1zM259 281h1v1h-1zM260 281h1v1h-1zM261 282h1v1h-1zM262 283h1v1h-1zM263 284h1v1h-1zM264 285h1v1h-1zM265 286h1v1h-1zM266 287h1v1h-1zM267 288h1v1h-1zM268 289h1v1h-1zM269 290h1v1h-1zM270 291h1v2h-1zM271 293h1v1h-1zM272 294h1v1h-1zM273 295h1v2h-1zM274 297h1v2h-1zM275 299h1v1h-1zM276 300h1v2h-1zM277 302h1v2h-1zM278 304h1v2h-1zM279 306h1v2h-1zM280 308h1v2h-1zM281 310h1v2h-1zM282 312h1v2h-1zM283 314h1v2h-1zM284 316h1v2h-1zM285 318h1v2h-1zM286 320h1v2h-1zM287 322h1v1h-1zM288 323h1v2h-1zM289 325h1v2h-1zM290 327h1v1h-1zM291 328h1v2h-1zM292 330h1v1h-1zM293 331h1v1h-1zM294 332h1v2h-1zM295 334h1v1h-1zM296 335h1v1h-1zM297 336h1v1h-1zM298 337h1v2h-1zM299 339h1v1h-1zM300 339h1v1h-1zM301 340h1v1h-1zM302 340h1v1h-1zM303 339h1v1h-1zM304 339h1v1h-1zM305 339h1v1h-1zM306 338h1v1h-1zM307 338h1v1h-1zM308 337h1v1h-1zM309 337h1v1h-1zM310 337h1v1h-1zM311 336h1v1h-1zM312 336h1v1h-1zM313 336h1v1h-1zM314 336h1v1h-1zM315 335h1v1h-1zM316 335h1v1h-1zM317 335h1v1h-1zM318 335h1v1h-1zM319 335h1v1h-1zM320 335h1v1h-1zM321 335h1v1h-1zM322 335h1v1h-1zM323 335h1v1h-1zM324 336h1v1h-1zM325 336h1v1h-1zM326 337h1v1h-1zM327 338h1v1h-1zM328 339h1v1h-1zM329 340h1v1h-1zM330 341h1v1h-1zM331 342h1v1h-1zM332 343h1v1h-1zM333 344h1v1h-1zM334 345h1v2h-1zM335 347h1v2h-1zM336 349h1v1h-1zM337 350h1v2h-1zM338 352h1v2h-1zM339 354h1v2h-1zM340 356h1v2h-1zM341 358h1v1h-1zM342 359h1v1h-1zM343 360h1v1h-1zM344 360h1v1h-1zM345 361h1v1h-1zM346 361h1v1h-1zM347 361h1v1h-1zM348 360h1v1h-1zM349 360h1v1h-1zM350 359h1v1h-1zM351 359h1v1h-1zM352 359h1v1h-1zM353 359h1v1h-1zM354 358h1v1h-1zM355 358h1v1h-1zM356 358h1v1h-1zM357 357h1v1h-1zM358 355h1v2h-1zM359 354h1v1h-1zM360 352h1v2h-1zM361 350h1v2h-1zM362 348h1v2h-1zM363 346h1v2h-1zM364 344h1v2h-1zM365 342h1v2h-1zM366 340h1v2h-1zM367 339h1v1h-1zM368 338h1v1h-1zM369 337h1v1h-1zM370 336h1v1h-1zM371 335h1v1h-1zM372 335h1v1h-1zM373 334h1v1h-1zM374 334h1v1h-1zM375 334h1v1h-1zM376 334h1v1h-1zM377 333h1v1h-1zM378 333h1v1h-1zM379 333h1v1h-1zM380 334h1v1h-1zM381 334h1v1h-1zM382 335h1v1h-1zM383 336h1v1h-1zM384 337h1v1h-1zM385 338h1v1h-1zM386 339h1v2h-1zM387 341h1v3h-1zM388 344h1v2h-1zM389 346h1v2h-1zM390 348h1v3h-1zM391 351h1v2h-1zM392 353h1v2h-1zM393 355h1v1h-1zM394 356h1v1h-1zM395 357h1v1h-1zM396 358h1v1h-1zM397 358h1v1h-1zM398 359h1v1h-1zM399 360h1v1h-1zM400 360h1v1h-1zM401 361h1v1h-1zM402 362h1v1h-1zM403 363h1v1h-1zM404 364h1v1h-1zM405 365h1v1h-1zM406 366h1v1h-1zM407 366h1v1h-1zM408 366h1v1h-1zM409 366h1v1h-1zM410 366h1v1h-1zM411 365h1v1h-1zM412 365h1v1h-1zM413 364h1v1h-1zM414 363h1v1h-1zM415 363h1v1h-1zM416 363h1v1h-1zM417 362h1v1h-1zM418 362h1v1h-1zM419 362h1v1h-1zM420 362h1v1h-1zM421 362h1v1h-1zM422 363h1v1h-1zM423 364h1v1h-1zM424 365h1v1h-1zM425 366h1v1h-1zM426 367h1v1h-1zM427 368h1v2h-1zM428 370h1v1h-1zM429 370h1v1h-1zM430 371h1v1h-1zM431 372h1v1h-1zM432 372h1v1h-1zM433 373h1v1h-1zM434 374h1v1h-1zM435 374h1v1h-1zM436 375h1v1h-1zM437 375h1v1h-1zM438 376h1v1h-1zM439 376h1v1h-1zM440 377h1v1h-1zM441 377h1v1h-1zM442 378h1v1h-1zM443 378h1v1h-1zM444 379h1v1h-1zM445 379h1v1h-1zM446 380h1v1h-1zM447 380h1v1h-1zM448 381h1v1h-1zM449 382h1v1h-1zM450 382h1v1h-1zM451 383h1v1h-1zM452 384h1v1h-1zM453 384h1v1h-1zM454 385h1v1h-1zM455 385h1v1h-1zM456 386h1v1h-1zM457 386h1v1h-1zM458 386h1v1h-1zM459 386h1v1h-1zM460 386h1v1h-1zM461 386h1v1h-1zM462 386h1v1h-1zM463 386h1v1h-1zM464 386h1v1h-1zM465 386h1v1h-1zM466 386h1v1h-1zM467 386h1v1h-1zM468 386h1v1h-1zM469 386h1v1h-1zM470 387h1v1h-1zM471 387h1v1h-1zM472 387h1v1h-1zM473 387h1v1h-1zM474 387h1v1h-1zM475 388h1v1h-1zM476 388h1v1h-1zM477 388h1v1h-1zM478 389h1v1h-1zM479 389h1v1h-1zM480 389h1v1h-1zM481 390h1v1h-1zM482 391h1v1h-1zM483 391h1v1h-1zM484 392h1v1h-1zM485 392h1v1h-1zM486 392h1v1h-1zM487 392h1v1h-1zM488 392h1v1h-1zM489 392h1v1h-1zM490 392h1v1h-1zM491 392h1v1h-1zM492 392h1v1h-1zM493 391h1v1h-1zM494 391h1v1h-1zM495 390h1v1h-1zM496 389h1v1h-1zM497 388h1v1h-1zM498 387h1v1h-1zM499 386h1v1h-1zM500 385h1v1h-1zM501 384h1v1h-1zM502 382h1v2h-1zM503 381h1v1h-1zM504 379h1v2h-1zM505 377h1v2h-1zM506 376h1v1h-1zM507 374h1v2h-1zM508 373h1v1h-1zM509 372h1v1h-1zM510 371h1v1h-1zM511 370h1v1h-1zM512 370h1v1h-1zM513 369h1v1h-1zM514 368h1v1h-1zM515 368h1v1h-1zM516 367h1v1h-1zM517 366h1v1h-1zM518 365h1v1h-1zM519 364h1v1h-1zM520 364h1v1h-1zM521 362h1v2h-1zM522 361h1v1h-1zM523 359h1v2h-1zM524 356h1v3h-1zM525 354h1v2h-1zM526 351h1v3h-1zM527 349h1v2h-1zM528 347h1v2h-1zM529 345h1v2h-1zM530 344h1v1h-1zM531 342h1v2h-1zM532 341h1v1h-1zM533 339h1v2h-1zM534 338h1v1h-1zM535 336h1v2h-1zM536 335h1v1h-1zM537 333h1v2h-1zM538 331h1v2h-1zM539 329h1v2h-1zM540 328h1v1h-1zM541 326h1v2h-1zM542 325h1v1h-1zM543 324h1v1h-1zM544 323h1v1h-1zM545 321h1v2h-1zM546 320h1v1h-1zM547 320h1v1h-1zM548 319h1v1h-1zM549 318h1v1h-1zM550 318h1v1h-1zM551 318h1v1h-1zM552 318h1v1h-1zM553 318h1v1h-1zM554 318h1v1h-1zM555 318h1v1h-1zM556 318h1v1h-1zM557 319h1v1h-1zM558 320h1v1h-1zM559 321h1v1h-1zM560 321h1v1h-1zM561 322h1v1h-1zM562 322h1v1h-1zM563 322h1v1h-1zM564 322h1v1h-1zM565 322h1v1h-1zM566 322h1v1h-1zM567 322h1v1h-1zM568 322h1v1h-1zM569 322h1v1h-1zM570 323h1v1h-1zM571 323h1v1h-1zM572 323h1v1h-1zM573 324h1v1h-1zM574 324h1v1h-1zM575 325h1v1h-1zM576 326h1v1h-1zM577 327h1v1h-1zM578 328h1v1h-1zM579 329h1v1h-1zM580 330h1v1h-1zM581 331h1v1h-1zM582 332h1v1h-1zM583 333h1v1h-1zM584 334h1v1h-1zM585 335h1v1h-1zM586 336h1v1h-1zM587 337h1v1h-1zM588 338h1v1h-1zM589 339h1v2h-1zM590 341h1v1h-1zM591 342h1v1h-1zM592 343h1v1h-1zM593 344h1v1h-1zM594 345h1v2h-1zM595 347h1v2h-1zM596 349h1v3h-1zM597 352h1v2h-1zM598 354h1v2h-1zM599 356h1v3h-1zM600 359h1v2h-1zM601 361h1v2h-1zM602 363h1v2h-1zM603 365h1v2h-1zM604 367h1v2h-1zM605 369h1v2h-1zM606 371h1v2h-1zM607 373h1v2h-1zM608 375h1v2h-1zM609 377h1v1h-1zM610 378h1v2h-1zM611 380h1v2h-1zM612 382h1v3h-1zM613 385h1v3h-1zM614 388h1v3h-1zM615 391h1v3h-1zM616 394h1v3h-1zM617 397h1v3h-1zM618 400h1v4h-1zM619 404h1v3h-1zM620 407h1v2h-1zM621 409h1v3h-1zM622 412h1v2h-1zM623 414h1v2h-1zM624 416h1v1h-1zM625 417h1v2h-1zM626 419h1v2h-1zM627 421h1v1h-1zM628 422h1v1h-1zM629 423h1v1h-1zM630 424h1v1h-1zM631 425h1v1h-1zM632 426h1v1h-1zM633 427h1v1h-1zM634 427h1v1h-1zM635 427h1v1h-1zM636 428h1v1h-1zM637 428h1v1h-1zM638 428h1v1h-1zM639 428h1v1h-1zM640 428h1v1h-1zM641 428h1v1h-1zM642 428h1v1h-1zM643 428h1v1h-1zM644 428h1v1h-1zM645 428h1v1h-1zM646 428h1v1h-1zM647 427h1v1h-1zM648 427h1v1h-1zM649 426h1v1h-1zM650 426h1v1h-1zM651 426h1v1h-1zM652 425h1v1h-1zM653 424h1v1h-1zM654 424h1v1h-1zM655 423h1v1h-1zM656 422h1v1h-1zM657 421h1v1h-1zM658 418h1v3h-1zM659 416h1v2h-1zM660 414h1v2h-1zM661 412h1v2h-1zM662 411h1v1h-1zM663 409h1v2h-1zM664 408h1v1h-1zM665 407h1v1h-1zM666 406h1v1h-1zM667 404h1v2h-1zM668 403h1v1h-1zM669 402h1v1h-1zM670 401h1v1h-1zM671 400h1v1h-1zM672 399h1v1h-1zM673 398h1v1h-1zM674 397h1v1h-1zM675 396h1v1h-1zM676 396h1v1h-1zM677 395h1v1h-1zM678 394h1v1h-1zM679 394h1v1h-1zM680 393h1v1h-1zM681 394h1v1h-1zM682 394h1v1h-1zM683 395h1v1h-1zM684 396h1v2h-1zM685 398h1v2h-1zM686 400h1v2h-1zM687 402h1v1h-1zM688 403h1v2h-1zM689 405h1v2h-1zM690 407h1v2h-1zM691 409h1v1h-1zM692 410h1v2h-1zM693 412h1v3h-1zM694 415h1v2h-1zM695 417h1v2h-1zM696 419h1v2h-1zM697 421h1v2h-1zM698 423h1v3h-1zM699 426h1v2h-1zM700 428h1v2h-1zM701 430h1v2h-1zM702 432h1v2h-1zM703 434h1v2h-1zM704 436h1v2h-1zM705 438h1v2h-1zM706 440h1v2h-1zM707 442h1v2h-1zM708 444h1v2h-1zM709 446h1v1h-1zM710 447h1v2h-1zM711 449h1v1h-1zM712 449h1v1h-1zM713 450h1v1h-1zM714 451h1v1h-1zM715 452h1v1h-1zM716 453h1v1h-1zM717 453h1v1h-1zM718 454h1v1h-1zM719 454h1v1h-1zM720 455h1v1h-1zM721 455h1v1h-1zM722 456h1v1h-1zM723 456h1v1h-1zM724 456h1v1h-1zM725 455h1v1h-1zM726 454h1v1h-1zM727 453h1v1h-1zM728 451h1v2h-1zM729 450h1v1h-1zM730 448h1v2h-1zM731 447h1v1h-1zM732 445h1v2h-1zM733 444h1v1h-1zM734 443h1v1h-1zM735 441h1v2h-1zM736 440h1v1h-1zM737 438h1v2h-1zM738 437h1v1h-1zM739 436h1v1h-1zM740 434h1v2h-1zM741 433h1v1h-1zM742 431h1v2h-1zM743 430h1v1h-1zM744 428h1v2h-1zM745 427h1v1h-1zM746 425h1v2h-1zM747 424h1v1h-1zM748 422h1v2h-1zM749 421h1v1h-1zM750 420h1v1h-1zM751 419h1v1h-1zM752 418h1v1h-1zM753 417h1v1h-1zM754 416h1v1h-1zM755 415h1v1h-1zM756 414h1v1h-1zM757 413h1v1h-1zM758 412h1v1h-1zM759 412h1v1h-1zM760 411h1v1h-1zM761 410h1v1h-1zM762 410h1v1h-1zM763 409h1v1h-1zM764 409h1v1h-1zM765 408h1v1h-1zM766 408h1v1h-1zM767 408h1v1h-1zM768 408h1v1h-1zM769 408h1v1h-1zM770 407h1v1h-1zM771 407h1v1h-1zM772 407h1v1h-1zM773 406h1v1h-1zM774 406h1v1h-1zM775 405h1v1h-1zM776 405h1v1h-1zM777 404h1v1h-1zM778 404h1v1h-1zM779 403h1v1h-1zM780 402h1v1h-1zM781 401h1v1h-1zM782 400h1v1h-1zM783 399h1v1h-1zM784 398h1v1h-1zM785 397h1v1h-1zM786 396h1v1h-1zM787 395h1v1h-1zM788 394h1v1h-1zM789 394h1v1h-1zM790 393h1v1h-1zM791 393h1v1h-1zM792 393h1v1h-1zM793 392h1v1h-1zM794 391h1v1h-1zM795 390h1v1h-1zM796 388h1v2h-1zM797 386h1v2h-1zM798 384h1v2h-1zM799 382h1v2h-1zM800 380h1v2h-1zM801 378h1v2h-1zM802 376h1v2h-1zM803 375h1v1h-1zM804 374h1v1h-1zM805 373h1v1h-1zM806 372h1v1h-1zM807 372h1v1h-1zM808 371h1v1h-1zM809 371h1v1h-1zM810 370h1v1h-1zM811 369h1v1h-1zM812 368h1v1h-1zM813 367h1v1h-1zM814 367h1v1h-1zM815 366h1v1h-1zM816 365h1v1h-1zM817 364h1v1h-1zM818 363h1v1h-1zM819 362h1v1h-1zM820 361h1v1h-1zM821 360h1v1h-1zM822 359h1v1h-1zM823 358h1v1h-1zM824 357h1v1h-1zM825 355h1v2h-1zM826 354h1v1h-1zM827 353h1v1h-1zM828 351h1v2h-1zM829 350h1v1h-1zM830 348h1v2h-1zM831 346h1v2h-1zM832 344h1v2h-1zM833 342h1v2h-1zM834 339h1v3h-1zM835 336h1v3h-1zM836 334h1v2h-1zM837 332h1v2h-1zM838 330h1v2h-1zM839 329h1v1h-1zM840 328h1v1h-1zM841 328h1v1h-1zM842 327h1v1h-1zM843 327h1v1h-1zM844 327h1v1h-1zM845 326h1v1h-1zM846 326h1v1h-1zM847 325h1v1h-1zM848 325h1v1h-1zM849 324h1v1h-1zM850 323h1v1h-1zM851 323h1v1h-1zM852 322h1v1h-1zM853 322h1v1h-1zM854 322h1v1h-1zM855 322h1v1h-1zM856 322h1v1h-1zM857 322h1v1h-1zM858 323h1v1h-1zM859 324h1v1h-1zM860 324h1v1h-1zM861 325h1v1h-1zM862 326h1v1h-1zM863 326h1v1h-1zM864 327h1v1h-1zM865 328h1v1h-1zM866 329h1v1h-1zM867 330h1v1h-1zM868 331h1v1h-1zM869 332h1v1h-1zM870 333h1v1h-1zM871 334h1v1h-1zM872 335h1v2h-1zM873 337h1v1h-1zM874 338h1v1h-1zM875 339h1v2h-1zM876 341h1v1h-1zM877 342h1v1h-1zM878 343h1v1h-1zM879 344h1v2h-1zM880 346h1v1h-1zM881 347h1v1h-1zM882 348h1v1h-1zM883 349h1v1h-1zM884 350h1v1h-1zM885 351h1v1h-1zM886 352h1v1h-1zM887 353h1v1h-1zM888 353h1v1h-1zM889 354h1v1h-1zM890 355h1v1h-1zM891 355h1v1h-1zM892 356h1v1h-1zM893 357h1v1h-1zM894 357h1v1h-1zM895 358h1v1h-1zM896 358h1v1h-1zM897 359h1v1h-1zM898 360h1v1h-1zM899 360h1v1h-1zM900 360h1v1h-1zM901 361h1v1h-1zM902 361h1v1h-1zM903 362h1v1h-1zM904 362h1v1h-1zM905 362h1v1h-1zM906 362h1v1h-1zM907 363h1v1h-1zM908 363h1v1h-1zM909 363h1v1h-1zM910 364h1v1h-1zM911 364h1v1h-1zM912 364h1v1h-1zM913 365h1v1h-1zM914 365h1v1h-1zM915 365h1v1h-1zM916 366h1v1h-1zM917 366h1v1h-1zM918 366h1v1h-1zM919 367h1v1h-1zM920 367h1v1h-1zM921 367h1v1h-1zM922 368h1v1h-1zM923 368h1v1h-1zM924 369h1v1h-1zM925 369h1v1h-1zM926 370h1v1h-1zM927 370h1v1h-1zM928 371h1v1h-1zM929 372h1v2h-1z"/>
<g><path fill="#32cd32" d="M5 84h1v16h-1zM31 104h1v8h-1zM45 104h1v31h-1zM47 124h1v23h-1zM51 136h1v15h-1zM53 142h1v16h-1zM59 104h1v13h-1zM61 106h1v12h-1zM63 107h1v12h-1zM65 109h1v15h-1zM77 100h1v7h-1zM79 100h1v12h-1zM83 98h1v8h-1zM85 98h1v11h-1zM89 98h1v9h-1zM97 98h1v10h-1zM99 100h1v12h-1zM101 109h1v7h-1zM107 100h1v17h-1zM109 100h1v15h-1zM113 95h1v7h-1zM115 100h1v24h-1zM117 116h1v37h-1zM119 140h1v26h-1zM123 150h1v15h-1zM133 140h1v9h-1zM135 142h1v9h-1zM139 126h1v20h-1zM143 137h1v9h-1zM147 139h1v8h-1zM151 135h1v12h-1zM153 140h1v14h-1zM155 140h1v13h-1zM157 143h1v102h-1zM159 223h1v22h-1zM163 240h1v40h-1zM165 266h1v20h-1zM167 273h1v28h-1zM169 287h1v23h-1zM173 285h1v24h-1zM177 288h1v45h-1zM181 316h1v11h-1zM183 321h1v14h-1zM191 291h1v13h-1zM195 291h1v18h-1zM197 296h1v14h-1zM199 295h1v23h-1zM207 273h1v19h-1zM211 271h1v19h-1zM215 254h1v21h-1zM217 268h1v23h-1zM221 283h1v8h-1zM227 268h1v18h-1zM229 275h1v7h-1zM233 271h1v12h-1zM239 250h1v36h-1zM241 275h1v15h-1zM243 273h1v13h-1zM249 276h1v28h-1zM255 282h1v13h-1zM259 288h1v17h-1zM261 294h1v28h-1zM265 298h1v13h-1zM269 297h1v11h-1zM271 297h1v19h-1zM273 307h1v23h-1zM275 322h1v23h-1zM279 332h1v12h-1zM281 338h1v12h-1zM287 318h1v25h-1zM289 333h1v15h-1zM291 338h1v10h-1zM293 341h1v7h-1zM295 345h1v17h-1zM303 331h1v9h-1zM309 318h1v19h-1zM319 307h1v54h-1zM321 342h1v19h-1zM323 345h1v22h-1zM327 353h1v13h-1zM331 352h1v16h-1zM333 350h1v27h-1zM335 372h1v18h-1zM337 362h1v22h-1zM339 376h1v13h-1zM347 327h1v26h-1zM351 340h1v13h-1zM353 344h1v10h-1zM359 322h1v16h-1zM365 323h1v19h-1zM367 318h1v24h-1zM371 327h1v12h-1zM377 321h1v21h-1zM379 329h1v23h-1zM381 339h1v44h-1zM383 352h1v19h-1zM385 364h1v34h-1zM399 347h1v13h-1zM405 344h1v30h-1zM407 360h1v14h-1zM411 364h1v11h-1zM413 364h1v10h-1zM417 361h1v22h-1zM421 363h1v11h-1zM423 364h1v12h-1zM425 370h1v9h-1zM427 375h1v26h-1zM431 368h1v11h-1zM433 372h1v9h-1zM435 373h1v11h-1zM437 377h1v15h-1zM441 380h1v29h-1zM447 387h1v9h-1zM449 393h1v8h-1zM459 375h1v12h-1zM461 375h1v14h-1zM467 363h1v40h-1zM471 390h1v14h-1zM473 392h1v9h-1zM477 395h1v15h-1zM479 396h1v13h-1zM481 394h1v10h-1zM483 389h1v10h-1zM491 365h1v11h-1zM493 367h1v11h-1zM495 371h1v7h-1zM497 372h1v6h-1zM499 373h1v25h-1zM505 347h1v17h-1zM509 356h1v15h-1zM511 355h1v19h-1zM513 359h1v30h-1zM515 364h1v24h-1zM529 310h1v9h-1zM531 308h1v14h-1zM533 315h1v7h-1zM537 302h1v22h-1zM539 317h1v22h-1zM541 325h1v12h-1zM549 310h1v15h-1zM551 313h1v11h-1zM553 316h1v14h-1zM557 317h1v9h-1zM561 308h1v24h-1zM563 320h1v19h-1zM571 318h1v29h-1zM575 322h1v31h-1zM577 346h1v8h-1zM579 347h1v8h-1zM581 344h1v12h-1zM583 340h1v16h-1zM587 342h1v9h-1zM589 344h1v10h-1zM591 349h1v11h-1zM593 353h1v11h-1zM595 355h1v19h-1zM597 366h1v34h-1zM599 393h1v16h-1zM601 400h1v10h-1zM605 400h1v12h-1zM607 398h1v12h-1zM609 398h1v17h-1zM611 408h1v11h-1zM613 413h1v10h-1zM615 417h1v11h-1zM619 417h1v17h-1zM621 427h1v14h-1zM629 429h1v11h-1zM631 427h1v17h-1zM635 416h1v12h-1zM639 415h1v10h-1zM643 414h1v11h-1zM645 418h1v13h-1zM653 417h1v6h-1zM661 378h1v15h-1zM663 378h1v13h-1zM665 380h1v9h-1zM667 381h1v11h-1zM671 383h1v14h-1zM673 388h1v7h-1zM675 389h1v8h-1zM677 393h1v8h-1zM681 393h1v33h-1zM683 420h1v22h-1zM685 433h1v10h-1zM689 431h1v10h-1zM695 434h1v19h-1zM699 436h1v24h-1zM701 457h1v16h-1zM707 447h1v18h-1zM709 452h1v16h-1zM715 457h1v13h-1zM725 430h1v14h-1zM731 418h1v9h-1zM735 412h1v12h-1zM737 414h1v11h-1zM743 401h1v18h-1zM747 406h1v19h-1zM753 411h1v20h-1zM759 394h1v14h-1zM761 397h1v11h-1zM765 391h1v21h-1zM769 403h1v9h-1zM771 407h1v11h-1zM775 396h1v14h-1zM785 369h1v12h-1zM787 373h1v8h-1zM791 374h1v9h-1zM799 353h1v14h-1zM801 343h1v22h-1zM803 352h1v18h-1zM807 366h1v12h-1zM809 369h1v11h-1zM817 335h1v15h-1zM819 342h1v9h-1zM823 335h1v14h-1zM827 324h1v16h-1zM833 315h1v12h-1zM835 316h1v13h-1zM839 311h1v15h-1zM843 313h1v11h-1zM845 321h1v10h-1zM847 324h1v13h-1zM849 325h1v10h-1zM857 315h1v9h-1zM859 317h1v11h-1zM861 320h1v31h-1zM863 334h1v17h-1zM865 337h1v12h-1zM869 341h1v9h-1zM871 343h1v24h-1zM877 354h1v11h-1zM881 357h1v12h-1zM885 346h1v25h-1zM889 347h1v13h-1zM891 355h1v8h-1zM897 346h1v15h-1zM899 348h1v15h-1zM901 359h1v10h-1zM903 366h1v9h-1zM905 370h1v22h-1zM907 381h1v15h-1zM911 364h1v10h-1zM913 368h1v9h-1zM923 356h1v12h-1zM925 356h1v21h-1zM927 370h1v7h-1z"/><path fill="#ff0000" d="M33 104h1v11h-1zM49 135h1v13h-1zM55 147h1v11h-1zM57 104h1v54h-1zM67 111h1v18h-1zM69 104h1v17h-1zM81 104h1v7h-1zM87 98h1v11h-1zM91 98h1v8h-1zM103 106h1v17h-1zM105 100h1v30h-1zM111 100h1v16h-1zM121 154h1v13h-1zM125 153h1v12h-1zM127 141h1v25h-1zM129 138h1v15h-1zM131 139h1v9h-1zM137 139h1v8h-1zM141 138h1v23h-1zM145 138h1v10h-1zM149 137h1v12h-1zM161 225h1v22h-1zM171 292h1v13h-1zM175 286h1v29h-1zM179 319h1v24h-1zM185 315h1v28h-1zM187 299h1v42h-1zM189 289h1v26h-1zM193 288h1v11h-1zM201 296h1v22h-1zM203 295h1v14h-1zM205 266h1v23h-1zM209 283h1v12h-1zM213 253h1v25h-1zM219 280h1v12h-1zM223 271h1v22h-1zM225 263h1v23h-1zM231 271h1v15h-1zM235 267h1v13h-1zM237 249h1v26h-1zM245 275h1v15h-1zM247 271h1v15h-1zM251 275h1v14h-1zM253 277h1v15h-1zM257 288h1v12h-1zM263 295h1v24h-1zM267 299h1v10h-1zM277 332h1v12h-1zM283 332h1v19h-1zM285 315h1v26h-1zM297 333h1v39h-1zM299 337h1v19h-1zM301 322h1v28h-1zM305 328h1v12h-1zM307 318h1v21h-1zM311 327h1v6h-1zM313 326h1v7h-1zM315 326h1v10h-1zM317 316h1v16h-1zM325 355h1v17h-1zM329 351h1v15h-1zM341 371h1v18h-1zM343 350h1v32h-1zM345 329h1v29h-1zM349 341h1v10h-1zM355 336h1v23h-1zM357 327h1v20h-1zM361 320h1v14h-1zM363 318h1v24h-1zM369 322h1v30h-1zM373 330h1v11h-1zM375 325h1v13h-1zM387 388h1v9h-1zM389 383h1v12h-1zM391 378h1v17h-1zM393 352h1v31h-1zM395 356h1v12h-1zM397 349h1v10h-1zM401 344h1v21h-1zM403 339h1v24h-1zM409 366h1v13h-1zM415 360h1v19h-1zM419 362h1v16h-1zM429 358h1v46h-1zM439 375h1v22h-1zM443 390h1v19h-1zM445 386h1v13h-1zM451 388h1v24h-1zM453 378h1v29h-1zM455 373h1v16h-1zM457 372h1v13h-1zM463 374h1v19h-1zM465 354h1v45h-1zM469 384h1v24h-1zM475 386h1v18h-1zM485 386h1v13h-1zM487 376h1v25h-1zM489 363h1v21h-1zM501 357h1v37h-1zM503 349h1v17h-1zM507 357h1v12h-1zM517 341h1v56h-1zM519 340h1v8h-1zM521 333h1v11h-1zM523 318h1v14h-1zM525 315h1v11h-1zM527 310h1v14h-1zM535 297h1v25h-1zM543 322h1v10h-1zM545 315h1v12h-1zM547 306h1v17h-1zM555 318h1v11h-1zM559 313h1v12h-1zM565 321h1v15h-1zM567 324h1v9h-1zM569 320h1v9h-1zM573 304h1v35h-1zM585 335h1v19h-1zM603 403h1v15h-1zM617 418h1v9h-1zM623 430h1v12h-1zM625 431h1v9h-1zM627 432h1v10h-1zM633 413h1v29h-1zM637 409h1v14h-1zM641 414h1v14h-1zM647 417h1v13h-1zM649 418h1v10h-1zM651 417h1v9h-1zM655 413h1v9h-1zM657 395h1v25h-1zM659 375h1v41h-1zM669 382h1v19h-1zM679 387h1v18h-1zM687 435h1v13h-1zM691 426h1v12h-1zM693 429h1v16h-1zM697 417h1v36h-1zM703 445h1v27h-1zM705 445h1v15h-1zM711 457h1v10h-1zM713 454h1v12h-1zM717 452h1v23h-1zM719 448h1v22h-1zM721 444h1v12h-1zM723 434h1v21h-1zM727 425h1v20h-1zM729 416h1v22h-1zM733 411h1v13h-1zM739 414h1v16h-1zM741 408h1v14h-1zM745 406h1v13h-1zM749 406h1v20h-1zM751 405h1v20h-1zM755 404h1v14h-1zM757 394h1v16h-1zM763 398h1v17h-1zM767 398h1v18h-1zM773 401h1v13h-1zM777 395h1v28h-1zM779 373h1v41h-1zM781 373h1v13h-1zM783 368h1v12h-1zM789 373h1v16h-1zM793 373h1v7h-1zM795 370h1v12h-1zM797 355h1v20h-1zM805 365h1v13h-1zM811 361h1v19h-1zM813 341h1v29h-1zM815 334h1v22h-1zM821 341h1v11h-1zM825 331h1v15h-1zM829 320h1v14h-1zM831 315h1v14h-1zM837 297h1v33h-1zM841 305h1v13h-1zM851 324h1v9h-1zM853 321h1v9h-1zM855 314h1v13h-1zM867 339h1v10h-1zM873 354h1v17h-1zM875 360h1v15h-1zM879 360h1v9h-1zM883 351h1v18h-1zM887 355h1v19h-1zM893 351h1v12h-1zM895 339h1v21h-1zM909 368h1v31h-1zM915 366h1v8h-1zM917 362h1v9h-1zM919 354h1v18h-1zM921 343h1v34h-1zM929 372h1v5h-1z"/></g>
<rect x="5" y="512" width="1" height="6" fill="#c0c0c0"/><rect x="6" y="512" width="1" height="5" fill="#c0c0c0"/><rect x="7" y="512" width="1" height="5" fill="#c0c0c0"/><rect x="8" y="512" width="1" height="4" fill="#c0c0c0"/><rect x="9" y="512" width="1" height="2" fill="#c0c0c0"/><rect x="10" y="512" width="1" height="1" fill="#c0c0c0"/><rect x="12" y="511" width="1" height="1" fill="#c0c0c0"/><rect x="13" y="510" width="1" height="2" fill="#c0c0c0"/><rect x="14" y="510" width="1" height="2" fill="#c0c0c0"/><rect x="15" y="509" width="1" height="3" fill="#c0c0c0"/><rect x="16" y="509" width="1" height="3" fill="#c0c0c0"/><rect x="17" y="508" width="1" height="4" fill="#c0c0c0"/><rect x="18" y="508" width="1" height="4" fill="#c0c0c0"/><rect x="19" y="507" width="1" height="5" fill="#c0c0c0"/><rect x="20" y="507" width="1" height="5" fill="#c0c0c0"/><rect x="21" y="506" width="1" height="6" fill="#c0c0c0"/><rect x="22" y="505" width="1" height="7" fill="#c0c0c0"/><rect x="23" y="505" width="1" height="7" fill="#c0c0c0"/><rect x="24" y="506" width="1" height="6" fill="#c0c0c0"/><rect x="25" y="507" width="1" height="5" fill="#c0c0c0"/><rect x="26" y="508" width="1" height="4" fill="#c0c0c0"/><rect x="27" y="508" width="1" height="4" fill="#c0c0c0"/><rect x="28" y="509" width="1" height="3" fill="#c0c0c0"/><rect x="29" y="509" width="1" height="3" fill="#c0c0c0"/><rect x="30" y="510" width="1" height="2" fill="#c0c0c0"/><rect x="31" y="510" width="1" height="2" fill="#c0c0c0"/><rect x="32" y="511" width="1" height="1" fill="#c0c0c0"/><rect x="33" y="511" width="1" height="1" fill="#c0c0c0"/><rect x="34" y="511" width="1" height="1" fill="#c0c0c0"/><rect x="39" y="512" width="1" height="1" fill="#c0c0c0"/><rect x="40" y="512" width="1" height="1" fill="#c0c0c0"/><rect x="41" y="512" width="1" height="2" fill="#c0c0c0"/><rect x="42" y="512" width="1" height="3" fill="#c0c0c0"/><rect x="43" y="512" width="1" height="4" fill="#c0c0c0"/><rect x="44" y="512" width="1" height="6" fill="#c0c0c0"/><rect x="45" y="512" width="1" height="7" fill="#c0c0c0"/><rect x="46" y="512" width="1" height="8" fill="#c0c0c0"/><rect x="47" y="512" width="1" height="10" fill="#c0c0c0"/><rect x="48" y="512" width="1" height="11" fill="#c0c0c0"/><rect x="49" y="512" width="1" height="13" fill="#c0c0c0"/><rect x="50" y="512" width="1" height="14" fill="#c0c0c0"/><rect x="51" y="512" width="1" height="15" fill="#c0c0c0"/><rect x="52" y="512" width="1" height="17" fill="#c0c0c0"/><rect x="53" y="512" width="1" height="19" fill="#c0c0c0"/><rect x="54" y="512" width="1" height="21" fill="#c0c0c0"/><rect x="55" y="512" width="1" height="21" fill="#c0c0c0"/><rect x="56" y="512" width="1" height="20" fill="#c0c0c0"/><rect x="57" y="512" width="1" height="19" fill="#c0c0c0"/><rect x="58" y="512" width="1" height="17" fill="#c0c0c0"/><rect x="59" y="512" width="1" height="16" fill="#c0c0c0"/><rect x="60" y="512" width="1" height="15" fill="#c0c0c0"/><rect x="61" y="512" width="1" height="15" fill="#c0c0c0"/><rect x="62" y="512" width="1" height="14" fill="#c0c0c0"/><rect x="63" y="512" width="1" height="14" fill="#c0c0c0"/><rect x="64" y="512" width="1" height="14" fill="#c0c0c0"/><rect x="65" y="512" width="1" height="13" fill="#c0c0c0"/><rect x="66" y="512" width="1" height="13" fill="#c0c0c0"/><rect x="67" y="512" width="1" height="12" fill="#c0c0c0"/><rect x="68" y="512" width="1" height="11" fill="#c0c0c0"/><rect x="69" y="512" width="1" height="10" fill="#c0c0c0"/><rect x="70" y="512" width="1" height="8" fill="#c0c0c0"/><rect x="71" y="512" width="1" height="6" fill="#c0c0c0"/><rect x="72" y="512" width="1" height="5" fill="#c0c0c0"/><rect x="73" y="512" width="1" height="4" fill="#c0c0c0"/><rect x="74" y="512" width="1" height="2" fill="#c0c0c0"/><rect x="75" y="512" width="1" height="2" fill="#c0c0c0"/><rect x="76" y="512" width="1" height="1" fill="#c0c0c0"/><rect x="77" y="512" width="1" height="1" fill="#c0c0c0"/><rect x="83" y="511" width="1" height="1" fill="#c0c0c0"/><rect x="84" y="511" width="1" height="1" fill="#c0c0c0"/><rect x="85" y="511" width="1" height="1" fill="#c0c0c0"/><rect x="86" y="511" width="1" height="1" fill="#c0c0c0"/><rect x="87" y="511" width="1" height="1" fill="#c0c0c0"/><rect x="88" y="511" width="1" height="1" fill="#c0c0c0"/><rect x="89" y="510" width="1" height="2" fill="#c0c0c0"/><rect x="90" y="510" width="1" height="2" fill="#c0c0c0"/><rect x="91" y="510" width="1" height="2" fill="#c0c0c0"/><rect x="92" y="510" width="1" height="2" fill="#c0c0c0"/><rect x="93" y="510" width="1" height="2" fill="#c0c0c0"/><rect x="94" y="510" width="1" height="2" fill="#c0c0c0"/><rect x="95" y="510" width="1" height="2" fill="#c0c0c0"/><rect x="96" y="511" width="1" height="1" fill="#c0c0c0"/><rect x="97" y="511" width="1" height="1" fill="#c0c0c0"/><rect x="100" y="512" width="1" height="1" fill="#c0c0c0"/><rect x="101" y="512" width="1" height="1" fill="#c0c0c0"/><rect x="102" y="512" width="1" height="1" fill="#c0c0c0"/><rect x="103" y="512" width="1" height="1" fill="#c0c0c0"/><rect x="104" y="512" width="1" height="1" fill="#c0c0c0"/><rect x="105" y="512" width="1" height="1" fill="#c0c0c0"/><rect x="106" y="512" width="1" height="2" fill="#c0c0c0"/><rect x="107" y="512" width="1" height="2" fill="#c0c0c0"/><rect x="108" y="512" width="1" height="2" fill="#c0c0c0"/><rect x="109" y="512" width="1" height="2" fill="#c0c0c0"/><rect x="110" y="512" width="1" height="2" fill="#c0c0c0"/><rect x="111" y="512" width="1" height="3" fill="#c0c0c0"/><rect x="112" y="512" width="1" height="3" fill="#c0c0c0"/><rect x="113" y="512" width="1" height="3" fill="#c0c0c0"/><rect x="114" y="512" width="1" height="3" fill="#c0c0c0"/><rect x="115" y="512" width="1" height="4" fill="#c0c0c0"/><rect x="116" y="512" width="1" height="5" fill="#c0c0c0"/><rect x="117" y="512" width="1" height="6" fill="#c0c0c0"/><rect x="118" y="512" width="1" height="7" fill="#c0c0c0"/><rect x="119" y="512" width="1" height="9" fill="#c0c0c0"/><rect x="120" y="512" width="1" height="11" fill="#c0c0c0"/><rect x="121" y="512" width="1" height="12" fill="#c0c0c0"/><rect x="122" y="512" width="1" height="13" fill="#c0c0c0"/><rect x="123" y="512" width="1" height="15" fill="#c0c0c0"/><rect x="124" y="512" width="1" height="16" fill="#c0c0c0"/><rect x="125" y="512" width="1" height="16" fill="#c0c0c0"/><rect x="126" y="512" width="1" height="17" fill="#c0c0c0"/><rect x="127" y="512" width="1" height="16" fill="#c0c0c0"/><rect x="128" y="512" width="1" height="16" fill="#c0c0c0"/><rect x="129" y="512" width="1" height="16" fill="#c0c0c0"/><rect x="130" y="512" width="1" height="15" fill="#c0c0c0"/><rect x="131" y="512" width="1" height="15" fill="#c0c0c0"/><rect x="132" y="512" width="1" height="14" fill="#c0c0c0"/><rect x="133" y="512" width="1" height="14" fill="#c0c0c0"/><rect x="134" y="512" width="1" height="14" fill="#c0c0c0"/><rect x="135" y="512" width="1" height="13" fill="#c0c0c0"/><rect x="136" y="512" width="1" height="12" fill="#c0c0c0"/><rect x="137" y="512" width="1" height="12" fill="#c0c0c0"/><rect x="138" y="512" width="1" height="12" fill="#c0c0c0"/><rect x="139" y="512" width="1" height="11" fill="#c0c0c0"/><rect x="140" y="512" width="1" height="11" fill="#c0c0c0"/><rect x="141" y="512" width="1" height="11" fill="#c0c0c0"/><rect x="142" y="512" width="1" height="11" fill="#c0c0c0"/><rect x="143" y="512" width="1" height="10" fill="#c0c0c0"/><rect x="144" y="512" width="1" height="10" fill="#c0c0c0"/><rect x="145" y="512" width="1" height="10" fill="#c0c0c0"/><rect x="146" y="512" width="1" height="10" fill="#c0c0c0"/><rect x="147" y="512" width="1" height="10" fill="#c0c0c0"/><rect x="148" y="512" width="1" height="10" fill="#c0c0c0"/><rect x="149" y="512" width="1" height="9" fill="#c0c0c0"/><rect x="150" y="512" width="1" height="9" fill="#c0c0c0"/><rect x="151" y="512" width="1" height="9" fill="#c0c0c0"/><rect x="152" y="512" width="1" height="9" fill="#c0c0c0"/><rect x="153" y="512" width="1" height="9" fill="#c0c0c0"/><rect x="154" y="512" width="1" height="9" fill="#c0c0c0"/><rect x="155" y="512" width="1" height="10" fill="#c0c0c0"/><rect x="156" y="512" width="1" height="10" fill="#c0c0c0"/><rect x="157" y="512" width="1" height="12" fill="#c0c0c0"/><rect x="158" y="512" width="1" height="16" fill="#c0c0c0"/><rect x="159" y="512" width="1" height="19" fill="#c0c0c0"/><rect x="160" y="512" width="1" height="22" fill="#c0c0c0"/><rect x="161" y="512" width="1" height="25" fill="#c0c0c0"/><rect x="162" y="512" width="1" height="27" fill="#c0c0c0"/><rect x="163" y="512" width="1" height="30" fill="#c0c0c0"/><rect x="164" y="512" width="1" height="33" fill="#c0c0c0"/><rect x="165" y="512" width="1" height="36" fill="#c0c0c0"/><rect x="166" y="512" width="1" height="40" fill="#c0c0c0"/><rect x="167" y="512" width="1" height="43" fill="#c0c0c0"/><rect x="168" y="512" width="1" height="46" fill="#c0c0c0"/><rect x="169" y="512" width="1" height="48" fill="#c0c0c0"/><rect x="170" y="512" width="1" height="49" fill="#c0c0c0"/><rect x="171" y="512" width="1" height="50" fill="#c0c0c0"/><rect x="172" y="512" width="1" height="51" fill="#c0c0c0"/><rect x="173" y="512" width="1" height="52" fill="#c0c0c0"/><rect x="174" y="512" width="1" height="53" fill="#c0c0c0"/><rect x="175" y="512" width="1" height="54" fill="#c0c0c0"/><rect x="176" y="512" width="1" height="54" fill="#c0c0c0"/><rect x="177" y="512" width="1" height="55" fill="#c0c0c0"/><rect x="178" y="512" width="1" height="55" fill="#c0c0c0"/><rect x="179" y="512" width="1" height="55" fill="#c0c0c0"/><rect x="180" y="512" width="1" height="56" fill="#c0c0c0"/><rect x="181" y="512" width="1" height="56" fill="#c0c0c0"/><rect x="182" y="512" width="1" height="56" fill="#c0c0c0"/><rect x="183" y="512" width="1" height="55" fill="#c0c0c0"/><rect x="184" y="512" width="1" height="54" fill="#c0c0c0"/><rect x="185" y="512" width="1" height="53" fill="#c0c0c0"/><rect x="186" y="512" width="1" height="51" fill="#c0c0c0"/><rect x="187" y="512" width="1" height="50" fill="#c0c0c0"/><rect x="188" y="512" width="1" height="48" fill="#c0c0c0"/><rect x="189" y="512" width="1" height="46" fill="#c0c0c0"/><rect x="190" y="512" width="1" height="44" fill="#c0c0c0"/><rect x="191" y="512" width="1" height="42" fill="#c0c0c0"/><rect x="192" y="512" width="1" height="40" fill="#c0c0c0"/><rect x="193" y="512" width="1" height="38" fill="#c0c0c0"/><rect x="194" y="512" width="1" height="37" fill="#c0c0c0"/><rect x="195" y="512" width="1" height="36" fill="#c0c0c0"/><rect x="196" y="512" width="1" height="35" fill="#c0c0c0"/><rect x="197" y="512" width="1" height="34" fill="#c0c0c0"/><rect x="198" y="512" width="1" height="33" fill="#c0c0c0"/><rect x="199" y="512" width="1" height="33" fill="#c0c0c0"/><rect x="200" y="512" width="1" height="32" fill="#c0c0c0"/><rect x="201" y="512" width="1" height="31" fill="#c0c0c0"/><rect x="202" y="512" width="1" height="30" fill="#c0c0c0"/><rect x="203" y="512" width="1" height="29" fill="#c0c0c0"/><rect x="204" y="512" width="1" height="27" fill="#c0c0c0"/><rect x="205" y="512" width="1" height="25" fill="#c0c0c0"/><rect x="206" y="512" width="1" height="23" fill="#c0c0c0"/><rect x="207" y="512" width="1" height="21" fill="#c0c0c0"/><rect x="208" y="512" width="1" height="19" fill="#c0c0c0"/><rect x="209" y="512" width="1" height="17" fill="#c0c0c0"/><rect x="210" y="512" width="1" height="15" fill="#c0c0c0"/><rect x="211" y="512" width="1" height="14" fill="#c0c0c0"/><rect x="212" y="512" width="1" height="13" fill="#c0c0c0"/><rect x="213" y="512" width="1" height="11" fill="#c0c0c0"/><rect x="214" y="512" width="1" height="11" fill="#c0c0c0"/><rect x="215" y="512" width="1" height="10" fill="#c0c0c0"/><rect x="216" y="512" width="1" height="9" fill="#c0c0c0"/><rect x="217" y="512" width="1" height="9" fill="#c0c0c0"/><rect x="218" y="512" width="1" height="8" fill="#c0c0c0"/><rect x="219" y="512" width="1" height="8" fill="#c0c0c0"/><rect x="220" y="512" width="1" height="7" fill="#c0c0c0"/><rect x="221" y="512" width="1" height="7" fill="#c0c0c0"/><rect x="222" y="512" width="1" height="6" fill="#c0c0c0"/><rect x="223" y="512" width="1" height="6" fill="#c0c0c0"/><rect x="224" y="512" width="1" height="6" fill="#c0c0c0"/><rect x="225" y="512" width="1" height="5" fill="#c0c0c0"/><rect x="226" y="512" width="1" height="5" fill="#c0c0c0"/><rect x="227" y="512" width="1" height="5" fill="#c0c0c0"/><rect x="228" y="512" width="1" height="4" fill="#c0c0c0"/><rect x="229" y="512" width="1" height="4" fill="#c0c0c0"/><rect x="230" y="512" width="1" height="4" fill="#c0c0c0"/><rect x="231" y="512" width="1" height="3" fill="#c0c0c0"/><rect x="232" y="512" width="1" height="3" fill="#c0c0c0"/><rect x="233" y="512" width="1" height="3" fill="#c0c0c0"/><rect x="234" y="512" width="1" height="2" fill="#c0c0c0"/><rect x="235" y="512" width="1" height="2" fill="#c0c0c0"/><rect x="236" y="512" width="1" height="2" fill="#c0c0c0"/><rect x="252" y="512" width="1" height="1" fill="#c0c0c0"/><rect x="253" y="512" width="1" height="1" fill="#c0c0c0"/><rect x="254" y="512" width="1" height="1" fill="#c0c0c0"/><rect x="255" y="512" width="1" height="1" fill="#c0c0c0"/><rect x="256" y="512" width="1" height="1" fill="#c0c0c0"/><rect x="257" y="512" width="1" height="2" fill="#c0c0c0"/><rect x="258" y="512" width="1" height="2" fill="#c0c0c0"/><rect x="259" y="512" width="1" height="3" fill="#c0c0c0"/><rect x="260" y="512" width="1" height="4" fill="#c0c0c0"/><rect x="261" y="512" width="1" height="5" fill="#c0c0c0"/><rect x="262" y="512" width="1" height="6" fill="#c0c0c0"/><rect x="263" y="512" width="1" height="7" fill="#c0c0c0"/><rect x="264" y="512" width="1" height="8" fill="#c0c0c0"/><rect x="265" y="512" width="1" height="9" fill="#c0c0c0"/><rect x="266" y="512" width="1" height="9" fill="#c0c0c0"/><rect x="267" y="512" width="1" height="10" fill="#c0c0c0"/><rect x="268" y="512" width="1" height="11" fill="#c0c0c0"/><rect x="269" y="512" width="1" height="11" fill="#c0c0c0"/><rect x="270" y="512" width="1" height="12" fill="#c0c0c0"/><rect x="271" y="512" width="1" height="13" fill="#c0c0c0"/><rect x="272" y="512" width="1" height="13" fill="#c0c0c0"/><rect x="273" y="512" width="1" height="14" fill="#c0c0c0"/><rect x="274" y="512" width="1" height="15" fill="#c0c0c0"/><rect x="275" y="512" width="1" height="15" fill="#c0c0c0"/><rect x="276" y="512" width="1" height="16" fill="#c0c0c0"/><rect x="277" y="512" width="1" height="16" fill="#c0c0c0"/><rect x="278" y="512" width="1" height="17" fill="#c0c0c0"/><rect x="279" y="512" width="1" height="17" fill="#c0c0c0"/><rect x="280" y="512" width="1" height="18" fill="#c0c0c0"/><rect x="281" y="512" width="1" height="18" fill="#c0c0c0"/><rect x="282" y="512" width="1" height="19" fill="#c0c0c0"/><rect x="283" y="512" width="1" height="19" fill="#c0c0c0"/><rect x="284" y="512" width="1" height="19" fill="#c0c0c0"/><rect x="285" y="512" width="1" height="19" fill="#c0c0c0"/><rect x="286" y="512" width="1" height="20" fill="#c0c0c0"/><rect x="287" y="512" width="1" height="20" fill="#c0c0c0"/><rect x="288" y="512" width="1" height="20" fill="#c0c0c0"/><rect x="289" y="512" width="1" height="20" fill="#c0c0c0"/><rect x="290" y="512" width="1" height="20" fill="#c0c0c0"/><rect x="291" y="512" width="1" height="20" fill="#c0c0c0"/><rect x="292" y="512" width="1" height="20" fill="#c0c0c0"/><rect x="293" y="512" width="1" height="19" fill="#c0c0c0"/><rect x="294" y="512" width="1" height="19" fill="#c0c0c0"/><rect x="295" y="512" width="1" height="19" fill="#c0c0c0"/><rect x="296" y="512" width="1" height="19" fill="#c0c0c0"/><rect x="297" y="512" width="1" height="18" fill="#c0c0c0"/><rect x="298" y="512" width="1" height="17" fill="#c0c0c0"/><rect x="299" y="512" width="1" height="16" fill="#c0c0c0"/><rect x="300" y="512" width="1" height="15" fill="#c0c0c0"/><rect x="301" y="512" width="1" height="14" fill="#c0c0c0"/><rect x="302" y="512" width="1" height="14" fill="#c0c0c0"/><rect x="303" y="512" width="1" height="13" fill="#c0c0c0"/><rect x="304" y="512" width="1" height="12" fill="#c0c0c0"/><rect x="305" y="512" width="1" height="12" fill="#c0c0c0"/><rect x="306" y="512" width="1" height="11" fill="#c0c0c0"/><rect x="307" y="512" width="1" height="11" fill="#c0c0c0"/><rect x="308" y="512" width="1" height="11" fill="#c0c0c0"/><rect x="309" y="512" width="1" height="11" fill="#c0c0c0"/><rect x="310" y="512" width="1" height="11" fill="#c0c0c0"/><rect x="311" y="512" width="1" height="11" fill="#c0c0c0"/><rect x="312" y="512" width="1" height="10" fill="#c0c0c0"/><rect x="313" y="512" width="1" height="10" fill="#c0c0c0"/><rect x="314" y="512" width="1" height="10" fill="#c0c0c0"/><rect x="315" y="512" width="1" height="10" fill="#c0c0c0"/><rect x="316" y="512" width="1" height="10" fill="#c0c0c0"/><rect x="317" y="512" width="1" height="10" fill="#c0c0c0"/><rect x="318" y="512" width="1" height="10" fill="#c0c0c0"/><rect x="319" y="512" width="1" height="10" fill="#c0c0c0"/><rect x="320" y="512" width="1" height="10" fill="#c0c0c0"/><rect x="321" y="512" width="1" height="10" fill="#c0c0c0"/><rect x="322" y="512" width="1" height="10" fill="#c0c0c0"/><rect x="323" y="512" width="1" height="11" fill="#c0c0c0"/><rect x="324" y="512" width="1" height="12" fill="#c0c0c0"/><rect x="325" y="512" width="1" height="12" fill="#c0c0c0"/><rect x="326" y="512" width="1" height="12" fill="#c0c0c0"/><rect x="327" y="512" width="1" height="12" fill="#c0c0c0"/><rect x="328" y="512" width="1" height="13" fill="#c0c0c0"/><rect x="329" y="512" width="1" height="13" fill="#c0c0c0"/><rect x="330" y="512" width="1" height="13" fill="#c0c0c0"/><rect x="331" y="512" width="1" height="13" fill="#c0c0c0"/><rect x="332" y="512" width="1" height="14" fill="#c0c0c0"/><rect x="333" y="512" width="1" height="14" fill="#c0c0c0"/><rect x="334" y="512" width="1" height="14" fill="#c0c0c0"/><rect x="335" y="512" width="1" height="15" fill="#c0c0c0"/><rect x="336" y="512" width="1" height="15" fill="#c0c0c0"/><rect x="337" y="512" width="1" height="16" fill="#c0c0c0"/><rect x="338" y="512" width="1" height="16" fill="#c0c0c0"/><rect x="339" y="512" width="1" height="16" fill="#c0c0c0"/><rect x="340" y="512" width="1" height="17" fill="#c0c0c0"/><rect x="341" y="512" width="1" height="16" fill="#c0c0c0"/><rect x="342" y="512" width="1" height="16" fill="#c0c0c0"/><rect x="343" y="512" width="1" height="15" fill="#c0c0c0"/><rect x="344" y="512" width="1" height="14" fill="#c0c0c0"/><rect x="345" y="512" width="1" height="13" fill="#c0c0c0"/><rect x="346" y="512" width="1" height="12" fill="#c0c0c0"/><rect x="347" y="512" width="1" height="11" fill="#c0c0c0"/><rect x="348" y="512" width="1" height="10" fill="#c0c0c0"/><rect x="349" y="512" width="1" height="9" fill="#c0c0c0"/><rect x="350" y="512" width="1" height="8" fill="#c0c0c0"/><rect x="351" y="512" width="1" height="7" fill="#c0c0c0"/><rect x="352" y="512" width="1" height="6" fill="#c0c0c0"/><rect x="353" y="512" width="1" height="5" fill="#c0c0c0"/><rect x="354" y="512" width="1" height="4" fill="#c0c0c0"/><rect x="355" y="512" width="1" height="3" fill="#c0c0c0"/><rect x="356" y="512" width="1" height="2" fill="#c0c0c0"/><rect x="357" y="512" width="1" height="2" fill="#c0c0c0"/><rect x="358" y="512" width="1" height="1" fill="#c0c0c0"/><rect x="359" y="512" width="1" height="1" fill="#c0c0c0"/><rect x="361" y="511" width="1" height="1" fill="#c0c0c0"/><rect x="362" y="509" width="1" height="3" fill="#c0c0c0"/><rect x="363" y="508" width="1" height="4" fill="#c0c0c0"/><rect x="364" y="508" width="1" height="4" fill="#c0c0c0"/><rect x="365" y="508" width="1" height="4" fill="#c0c0c0"/><rect x="366" y="508" width="1" height="4" fill="#c0c0c0"/><rect x="367" y="508" width="1" height="4" fill="#c0c0c0"/><rect x="368" y="508" width="1" height="4" fill="#c0c0c0"/><rect x="369" y="508" width="1" height="4" fill="#c0c0c0"/><rect x="370" y="508" width="1" height="4" fill="#c0c0c0"/><rect x="371" y="508" width="1" height="4" fill="#c0c0c0"/><rect x="372" y="508" width="1" height="4" fill="#c0c0c0"/><rect x="373" y="508" width="1" height="4" fill="#c0c0c0"/><rect x="374" y="508" width="1" height="4" fill="#c0c0c0"/><rect x="375" y="508" width="1" height="4" fill="#c0c0c0"/><rect x="376" y="508" width="1" height="4" fill="#c0c0c0"/><rect x="377" y="508" width="1" height="4" fill="#c0c0c0"/><rect x="378" y="508" width="1" height="4" fill="#c0c0c0"/><rect x="379" y="509" width="1" height="3" fill="#c0c0c0"/><rect x="380" y="510" width="1" height="2" fill="#c0c0c0"/><rect x="382" y="512" width="1" height="2" fill="#c0c0c0"/><rect x="383" y="512" width="1" height="5" fill="#c0c0c0"/><rect x="384" y="512" width="1" height="8" fill="#c0c0c0"/><rect x="385" y="512" width="1" height="10" fill="#c0c0c0"/><rect x="386" y="512" width="1" height="12" fill="#c0c0c0"/><rect x="387" y="512" width="1" height="12" fill="#c0c0c0"/><rect x="388" y="512" width="1" height="13" fill="#c0c0c0"/><rect x="389" y="512" width="1" height="13" fill="#c0c0c0"/><rect x="390" y="512" width="1" height="13" fill="#c0c0c0"/><rect x="391" y="512" width="1" height="13" fill="#c0c0c0"/><rect x="392" y="512" width="1" height="12" fill="#c0c0c0"/><rect x="393" y="512" width="1" height="11" fill="#c0c0c0"/><rect x="394" y="512" width="1" height="10" fill="#c0c0c0"/><rect x="395" y="512" width="1" height="8" fill="#c0c0c0"/><rect x="396" y="512" width="1" height="7" fill="#c0c0c0"/><rect x="397" y="512" width="1" height="6" fill="#c0c0c0"/><rect x="398" y="512" width="1" height="5" fill="#c0c0c0"/><rect x="399" y="512" width="1" height="5" fill="#c0c0c0"/><rect x="400" y="512" width="1" height="5" fill="#c0c0c0"/><rect x="401" y="512" width="1" height="5" fill="#c0c0c0"/><rect x="402" y="512" width="1" height="5" fill="#c0c0c0"/><rect x="403" y="512" width="1" height="5" fill="#c0c0c0"/><rect x="404" y="512" width="1" height="5" fill="#c0c0c0"/><rect x="405" y="512" width="1" height="5" fill="#c0c0c0"/><rect x="406" y="512" width="1" height="5" fill="#c0c0c0"/><rect x="407" y="512" width="1" height="5" fill="#c0c0c0"/><rect x="408" y="512" width="1" height="5" fill="#c0c0c0"/><rect x="409" y="512" width="1" height="5" fill="#c0c0c0"/><rect x="410" y="512" width="1" height="5" fill="#c0c0c0"/><rect x="411" y="512" width="1" height="5" fill="#c0c0c0"/><rect x="412" y="512" width="1" height="5" fill="#c0c0c0"/><rect x="413" y="512" width="1" height="5" fill="#c0c0c0"/><rect x="414" y="512" width="1" height="6" fill="#c0c0c0"/><rect x="415" y="512" width="1" height="6" fill="#c0c0c0"/><rect x="416" y="512" width="1" height="6" fill="#c0c0c0"/><rect x="417" y="512" width="1" height="6" fill="#c0c0c0"/><rect x="418" y="512" width="1" height="7" fill="#c0c0c0"/><rect x="419" y="512" width="1" height="7" fill="#c0c0c0"/><rect x="420" y="512" width="1" height="7" fill="#c0c0c0"/><rect x="421" y="512" width="1" height="8" fill="#c0c0c0"/><rect x="422" y="512" width="1" height="8" fill="#c0c0c0"/><rect x="423" y="512" width="1" height="8" fill="#c0c0c0"/><rect x="424" y="512" width="1" height="9" fill="#c0c0c0"/><rect x="425" y="512" width="1" height="9" fill="#c0c0c0"/><rect x="426" y="512" width="1" height="9" fill="#c0c0c0"/><rect x="427" y="512" width="1" height="9" fill="#c0c0c0"/><rect x="428" y="512" width="1" height="10" fill="#c0c0c0"/><rect x="429" y="512" width="1" height="10" fill="#c0c0c0"/><rect x="430" y="512" width="1" height="9" fill="#c0c0c0"/><rect x="431" y="512" width="1" height="9" fill="#c0c0c0"/><rect x="432" y="512" width="1" height="9" fill="#c0c0c0"/><rect x="433" y="512" width="1" height="9" fill="#c0c0c0"/><rect x="434" y="512" width="1" height="9" fill="#c0c0c0"/><rect x="435" y="512" width="1" height="8" fill="#c0c0c0"/><rect x="436" y="512" width="1" height="8" fill="#c0c0c0"/><rect x="437" y="512" width="1" height="8" fill="#c0c0c0"/><rect x="438" y="512" width="1" height="8" fill="#c0c0c0"/><rect x="439" y="512" width="1" height="8" fill="#c0c0c0"/><rect x="440" y="512" width="1" height="8" fill="#c0c0c0"/><rect x="441" y="512" width="1" height="8" fill="#c0c0c0"/><rect x="442" y="512" width="1" height="9" fill="#c0c0c0"/><rect x="443" y="512" width="1" height="9" fill="#c0c0c0"/><rect x="444" y="512" width="1" height="9" fill="#c0c0c0"/><rect x="445" y="512" width="1" height="10" fill="#c0c0c0"/><rect x="446" y="512" width="1" height="10" fill="#c0c0c0"/><rect x="447" y="512" width="1" height="10" fill="#c0c0c0"/><rect x="448" y="512" width="1" height="10" fill="#c0c0c0"/><rect x="449" y="512" width="1" height="10" fill="#c0c0c0"/><rect x="450" y="512" width="1" height="10" fill="#c0c0c0"/><rect x="451" y="512" width="1" height="10" fill="#c0c0c0"/><rect x="452" y="512" width="1" height="10" fill="#c0c0c0"/><rect x="453" y="512" width="1" height="10" fill="#c0c0c0"/><rect x="454" y="512" width="1" height="9" fill="#c0c0c0"/><rect x="455" y="512" width="1" height="9" fill="#c0c0c0"/><rect x="456" y="512" width="1" height="8" fill="#c0c0c0"/><rect x="457" y="512" width="1" height="8" fill="#c0c0c0"/><rect x="458" y="512" width="1" height="7" fill="#c0c0c0"/><rect x="459" y="512" width="1" height="7" fill="#c0c0c0"/><rect x="460" y="512" width="1" height="6" fill="#c0c0c0"/><rect x="461" y="512" width="1" height="5" fill="#c0c0c0"/><rect x="462" y="512" width="1" height="5" fill="#c0c0c0"/><rect x="463" y="512" width="1" height="4" fill="#c0c0c0"/><rect x="464" y="512" width="1" height="4" fill="#c0c0c0"/><rect x="465" y="512" width="1" height="3" fill="#c0c0c0"/><rect x="466" y="512" width="1" height="4" fill="#c0c0c0"/><rect x="467" y="512" width="1" height="4" fill="#c0c0c0"/><rect x="468" y="512" width="1" height="5" fill="#c0c0c0"/><rect x="469" y="512" width="1" height="5" fill="#c0c0c0"/><rect x="470" y="512" width="1" height="6" fill="#c0c0c0"/><rect x="471" y="512" width="1" height="6" fill="#c0c0c0"/><rect x="472" y="512" width="1" height="6" fill="#c0c0c0"/><rect x="473" y="512" width="1" height="7" fill="#c0c0c0"/><rect x="474" y="512" width="1" height="7" fill="#c0c0c0"/><rect x="475" y="512" width="1" height="7" fill="#c0c0c0"/><rect x="476" y="512" width="1" height="8" fill="#c0c0c0"/><rect x="477" y="512" width="1" height="8" fill="#c0c0c0"/><rect x="478" y="512" width="1" height="8" fill="#c0c0c0"/><rect x="479" y="512" width="1" height="8" fill="#c0c0c0"/><rect x="480" y="512" width="1" height="8" fill="#c0c0c0"/><rect x="481" y="512" width="1" height="8" fill="#c0c0c0"/><rect x="482" y="512" width="1" height="8" fill="#c0c0c0"/><rect x="483" y="512" width="1" height="7" fill="#c0c0c0"/><rect x="484" y="512" width="1" height="6" fill="#c0c0c0"/><rect x="485" y="512" width="1" height="6" fill="#c0c0c0"/><rect x="486" y="512" width="1" height="5" fill="#c0c0c0"/><rect x="487" y="512" width="1" height="4" fill="#c0c0c0"/><rect x="488" y="512" width="1" height="3" fill="#c0c0c0"/><rect x="489" y="512" width="1" height="2" fill="#c0c0c0"/><rect x="490" y="512" width="1" height="2" fill="#c0c0c0"/><rect x="491" y="512" width="1" height="1" fill="#c0c0c0"/><rect x="494" y="511" width="1" height="1" fill="#c0c0c0"/><rect x="495" y="511" width="1" height="1" fill="#c0c0c0"/><rect x="496" y="510" width="1" height="2" fill="#c0c0c0"/><rect x="497" y="510" width="1" height="2" fill="#c0c0c0"/><rect x="498" y="511" width="1" height="1" fill="#c0c0c0"/><rect x="499" y="511" width="1" height="1" fill="#c0c0c0"/><rect x="500" y="511" width="1" height="1" fill="#c0c0c0"/><rect x="501" y="510" width="1" height="2" fill="#c0c0c0"/><rect x="502" y="509" width="1" height="3" fill="#c0c0c0"/><rect x="503" y="508" width="1" height="4" fill="#c0c0c0"/><rect x="504" y="507" width="1" height="5" fill="#c0c0c0"/><rect x="505" y="506" width="1" height="6" fill="#c0c0c0"/><rect x="506" y="506" width="1" height="6" fill="#c0c0c0"/><rect x="507" y="506" width="1" height="6" fill="#c0c0c0"/><rect x="508" y="506" width="1" height="6" fill="#c0c0c0"/><rect x="509" y="506" width="1" height="6" fill="#c0c0c0"/><rect x="510" y="506" width="1" height="6" fill="#c0c0c0"/><rect x="511" y="506" width="1" height="6" fill="#c0c0c0"/><rect x="512" y="506" width="1" height="6" fill="#c0c0c0"/><rect x="513" y="506" width="1" height="6" fill="#c0c0c0"/><rect x="514" y="507" width="1" height="5" fill="#c0c0c0"/><rect x="515" y="507" width="1" height="5" fill="#c0c0c0"/><rect x="516" y="506" width="1" height="6" fill="#c0c0c0"/><rect x="517" y="505" width="1" height="7" fill="#c0c0c0"/><rect x="518" y="504" width="1" height="8" fill="#c0c0c0"/><rect x="519" y="503" width="1" height="9" fill="#c0c0c0"/><rect x="520" y="502" width="1" height="10" fill="#c0c0c0"/><rect x="521" y="501" width="1" height="11" fill="#c0c0c0"/><rect x="522" y="499" width="1" height="13" fill="#c0c0c0"/><rect x="523" y="498" width="1" height="14" fill="#c0c0c0"/><rect x="524" y="497" width="1" height="15" fill="#c0c0c0"/><rect x="525" y="496" width="1" height="16" fill="#c0c0c0"/><rect x="526" y="495" width="1" height="17" fill="#c0c0c0"/><rect x="527" y="494" width="1" height="18" fill="#c0c0c0"/><rect x="528" y="494" width="1" height="18" fill="#c0c0c0"/><rect x="529" y="494" width="1" height="18" fill="#c0c0c0"/><rect x="530" y="493" width="1" height="19" fill="#c0c0c0"/><rect x="531" y="493" width="1" height="19" fill="#c0c0c0"/><rect x="532" y="493" width="1" height="19" fill="#c0c0c0"/><rect x="533" y="492" width="1" height="20" fill="#c0c0c0"/><rect x="534" y="492" width="1" height="20" fill="#c0c0c0"/><rect x="535" y="492" width="1" height="20" fill="#c0c0c0"/><rect x="536" y="492" width="1" height="20" fill="#c0c0c0"/><rect x="537" y="493" width="1" height="19" fill="#c0c0c0"/><rect x="538" y="494" width="1" height="18" fill="#c0c0c0"/><rect x="539" y="494" width="1" height="18" fill="#c0c0c0"/><rect x="540" y="494" width="1" height="18" fill="#c0c0c0"/><rect x="541" y="495" width="1" height="17" fill="#c0c0c0"/><rect x="542" y="495" width="1" height="17" fill="#c0c0c0"/><rect x="543" y="495" width="1" height="17" fill="#c0c0c0"/><rect x="544" y="496" width="1" height="16" fill="#c0c0c0"/><rect x="545" y="496" width="1" height="16" fill="#c0c0c0"/><rect x="546" y="497" width="1" height="15" fill="#c0c0c0"/><rect x="547" y="497" width="1" height="15" fill="#c0c0c0"/><rect x="548" y="497" width="1" height="15" fill="#c0c0c0"/><rect x="549" y="498" width="1" height="14" fill="#c0c0c0"/><rect x="550" y="498" width="1" height="14" fill="#c0c0c0"/><rect x="551" y="498" width="1" height="14" fill="#c0c0c0"/><rect x="552" y="499" width="1" height="13" fill="#c0c0c0"/><rect x="553" y="499" width="1" height="13" fill="#c0c0c0"/><rect x="554" y="500" width="1" height="12" fill="#c0c0c0"/><rect x="555" y="500" width="1" height="12" fill="#c0c0c0"/><rect x="556" y="501" width="1" height="11" fill="#c0c0c0"/><rect x="557" y="501" width="1" height="11" fill="#c0c0c0"/><rect x="558" y="502" width="1" height="10" fill="#c0c0c0"/><rect x="559" y="502" width="1" height="10" fill="#c0c0c0"/><rect x="560" y="502" width="1" height="10" fill="#c0c0c0"/><rect x="561" y="503" width="1" height="9" fill="#c0c0c0"/><rect x="562" y="503" width="1" height="9" fill="#c0c0c0"/><rect x="563" y="504" width="1" height="8" fill="#c0c0c0"/><rect x="564" y="504" width="1" height="8" fill="#c0c0c0"/><rect x="565" y="505" width="1" height="7" fill="#c0c0c0"/><rect x="566" y="505" width="1" height="7" fill="#c0c0c0"/><rect x="567" y="506" width="1" height="6" fill="#c0c0c0"/><rect x="568" y="506" width="1" height="6" fill="#c0c0c0"/><rect x="569" y="506" width="1" height="6" fill="#c0c0c0"/><rect x="570" y="507" width="1" height="5" fill="#c0c0c0"/><rect x="571" y="507" width="1" height="5" fill="#c0c0c0"/><rect x="572" y="508" width="1" height="4" fill="#c0c0c0"/><rect x="573" y="508" width="1" height="4" fill="#c0c0c0"/><rect x="574" y="509" width="1" height="3" fill="#c0c0c0"/><rect x="575" y="509" width="1" height="3" fill="#c0c0c0"/><rect x="576" y="510" width="1" height="2" fill="#c0c0c0"/><rect x="577" y="510" width="1" height="2" fill="#c0c0c0"/><rect x="579" y="512" width="1" height="2" fill="#c0c0c0"/><rect x="580" y="512" width="1" height="3" fill="#c0c0c0"/><rect x="581" y="512" width="1" height="3" fill="#c0c0c0"/><rect x="582" y="512" width="1" height="4" fill="#c0c0c0"/><rect x="583" y="512" width="1" height="4" fill="#c0c0c0"/><rect x="584" y="512" width="1" height="5" fill="#c0c0c0"/><rect x="585" y="512" width="1" height="5" fill="#c0c0c0"/><rect x="586" y="512" width="1" height="5" fill="#c0c0c0"/><rect x="587" y="512" width="1" height="6" fill="#c0c0c0"/><rect x="588" y="512" width="1" height="6" fill="#c0c0c0"/><rect x="589" y="512" width="1" height="6" fill="#c0c0c0"/><rect x="590" y="512" width="1" height="6" fill="#c0c0c0"/><rect x="591" y="512" width="1" height="7" fill="#c0c0c0"/><rect x="592" y="512" width="1" height="7" fill="#c0c0c0"/><rect x="593" y="512" width="1" height="7" fill="#c0c0c0"/><rect x="594" y="512" width="1" height="8" fill="#c0c0c0"/><rect x="595" y="512" width="1" height="9" fill="#c0c0c0"/><rect x="596" y="512" width="1" height="10" fill="#c0c0c0"/><rect x="597" y="512" width="1" height="12" fill="#c0c0c0"/><rect x="598" y="512" width="1" height="13" fill="#c0c0c0"/><rect x="599" y="512" width="1" height="15" fill="#c0c0c0"/><rect x="600" y="512" width="1" height="16" fill="#c0c0c0"/><rect x="601" y="512" width="1" height="17" fill="#c0c0c0"/><rect x="602" y="512" width="1" height="18" fill="#c0c0c0"/><rect x="603" y="512" width="1" height="19" fill="#c0c0c0"/><rect x="604" y="512" width="1" height="20" fill="#c0c0c0"/><rect x="605" y="512" width="1" height="20" fill="#c0c0c0"/><rect x="606" y="512" width="1" height="21" fill="#c0c0c0"/><rect x="607" y="512" width="1" height="22" fill="#c0c0c0"/><rect x="608" y="512" width="1" height="22" fill="#c0c0c0"/><rect x="609" y="512" width="1" height="22" fill="#c0c0c0"/><rect x="610" y="512" width="1" height="23" fill="#c0c0c0"/><rect x="611" y="512" width="1" height="23" fill="#c0c0c0"/><rect x="612" y="512" width="1" height="24" fill="#c0c0c0"/><rect x="613" y="512" width="1" height="24" fill="#c0c0c0"/><rect x="614" y="512" width="1" height="25" fill="#c0c0c0"/><rect x="615" y="512" width="1" height="25" fill="#c0c0c0"/><rect x="616" y="512" width="1" height="25" fill="#c0c0c0"/><rect x="617" y="512" width="1" height="26" fill="#c0c0c0"/><rect x="618" y="512" width="1" height="26" fill="#c0c0c0"/><rect x="619" y="512" width="1" height="26" fill="#c0c0c0"/><rect x="620" y="512" width="1" height="26" fill="#c0c0c0"/><rect x="621" y="512" width="1" height="27" fill="#c0c0c0"/><rect x="622" y="512" width="1" height="27" fill="#c0c0c0"/><rect x="623" y="512" width="1" height="27" fill="#c0c0c0"/><rect x="624" y="512" width="1" height="27" fill="#c0c0c0"/><rect x="625" y="512" width="1" height="26" fill="#c0c0c0"/><rect x="626" y="512" width="1" height="26" fill="#c0c0c0"/><rect x="627" y="512" width="1" height="26" fill="#c0c0c0"/><rect x="628" y="512" width="1" height="25" fill="#c0c0c0"/><rect x="629" y="512" width="1" height="25" fill="#c0c0c0"/><rect x="630" y="512" width="1" height="24" fill="#c0c0c0"/><rect x="631" y="512" width="1" height="24" fill="#c0c0c0"/><rect x="632" y="512" width="1" height="23" fill="#c0c0c0"/><rect x="633" y="512" width="1" height="22" fill="#c0c0c0"/><rect x="634" y="512" width="1" height="21" fill="#c0c0c0"/><rect x="635" y="512" width="1" height="20" fill="#c0c0c0"/><rect x="636" y="512" width="1" height="19" fill="#c0c0c0"/><rect x="637" y="512" width="1" height="18" fill="#c0c0c0"/><rect x="638" y="512" width="1" height="17" fill="#c0c0c0"/><rect x="639" y="512" width="1" height="16" fill="#c0c0c0"/><rect x="640" y="512" width="1" height="15" fill="#c0c0c0"/><rect x="641" y="512" width="1" height="15" fill="#c0c0c0"/><rect x="642" y="512" width="1" height="14" fill="#c0c0c0"/><rect x="643" y="512" width="1" height="14" fill="#c0c0c0"/><rect x="644" y="512" width="1" height="13" fill="#c0c0c0"/><rect x="645" y="512" width="1" height="13" fill="#c0c0c0"/><rect x="646" y="512" width="1" height="12" fill="#c0c0c0"/><rect x="647" y="512" width="1" height="12" fill="#c0c0c0"/><rect x="648" y="512" width="1" height="11" fill="#c0c0c0"/><rect x="649" y="512" width="1" height="11" fill="#c0c0c0"/><rect x="650" y="512" width="1" height="10" fill="#c0c0c0"/><rect x="651" y="512" width="1" height="10" fill="#c0c0c0"/><rect x="652" y="512" width="1" height="10" fill="#c0c0c0"/><rect x="653" y="512" width="1" height="9" fill="#c0c0c0"/><rect x="654" y="512" width="1" height="8" fill="#c0c0c0"/><rect x="655" y="512" width="1" height="8" fill="#c0c0c0"/><rect x="656" y="512" width="1" height="7" fill="#c0c0c0"/><rect x="657" y="512" width="1" height="6" fill="#c0c0c0"/><rect x="658" y="512" width="1" height="5" fill="#c0c0c0"/><rect x="659" y="512" width="1" height="4" fill="#c0c0c0"/><rect x="660" y="512" width="1" height="2" fill="#c0c0c0"/><rect x="662" y="510" width="1" height="2" fill="#c0c0c0"/><rect x="663" y="508" width="1" height="4" fill="#c0c0c0"/><rect x="664" y="507" width="1" height="5" fill="#c0c0c0"/><rect x="665" y="507" width="1" height="5" fill="#c0c0c0"/><rect x="666" y="506" width="1" height="6" fill="#c0c0c0"/><rect x="667" y="506" width="1" height="6" fill="#c0c0c0"/><rect x="668" y="506" width="1" height="6" fill="#c0c0c0"/><rect x="669" y="506" width="1" height="6" fill="#c0c0c0"/><rect x="670" y="506" width="1" height="6" fill="#c0c0c0"/><rect x="671" y="506" width="1" height="6" fill="#c0c0c0"/><rect x="672" y="506" width="1" height="6" fill="#c0c0c0"/><rect x="673" y="507" width="1" height="5" fill="#c0c0c0"/><rect x="674" y="507" width="1" height="5" fill="#c0c0c0"/><rect x="675" y="507" width="1" height="5" fill="#c0c0c0"/><rect x="676" y="507" width="1" height="5" fill="#c0c0c0"/><rect x="677" y="508" width="1" height="4" fill="#c0c0c0"/><rect x="678" y="508" width="1" height="4" fill="#c0c0c0"/><rect x="679" y="508" width="1" height="4" fill="#c0c0c0"/><rect x="680" y="509" width="1" height="3" fill="#c0c0c0"/><rect x="681" y="510" width="1" height="2" fill="#c0c0c0"/><rect x="682" y="512" width="1" height="1" fill="#c0c0c0"/><rect x="683" y="512" width="1" height="2" fill="#c0c0c0"/><rect x="684" y="512" width="1" height="4" fill="#c0c0c0"/><rect x="685" y="512" width="1" height="5" fill="#c0c0c0"/><rect x="686" y="512" width="1" height="6" fill="#c0c0c0"/><rect x="687" y="512" width="1" height="8" fill="#c0c0c0"/><rect x="688" y="512" width="1" height="9" fill="#c0c0c0"/><rect x="689" y="512" width="1" height="10" fill="#c0c0c0"/><rect x="690" y="512" width="1" height="10" fill="#c0c0c0"/><rect x="691" y="512" width="1" height="11" fill="#c0c0c0"/><rect x="692" y="512" width="1" height="12" fill="#c0c0c0"/><rect x="693" y="512" width="1" height="13" fill="#c0c0c0"/><rect x="694" y="512" width="1" height="14" fill="#c0c0c0"/><rect x="695" y="512" width="1" height="14" fill="#c0c0c0"/><rect x="696" y="512" width="1" height="15" fill="#c0c0c0"/><rect x="697" y="512" width="1" height="15" fill="#c0c0c0"/><rect x="698" y="512" width="1" height="16" fill="#c0c0c0"/><rect x="699" y="512" width="1" height="16" fill="#c0c0c0"/><rect x="700" y="512" width="1" height="16" fill="#c0c0c0"/><rect x="701" y="512" width="1" height="17" fill="#c0c0c0"/><rect x="702" y="512" width="1" height="17" fill="#c0c0c0"/><rect x="703" y="512" width="1" height="17" fill="#c0c0c0"/><rect x="704" y="512" width="1" height="17" fill="#c0c0c0"/><rect x="705" y="512" width="1" height="17" fill="#c0c0c0"/><rect x="706" y="512" width="1" height="17" fill="#c0c0c0"/><rect x="707" y="512" width="1" height="17" fill="#c0c0c0"/><rect x="708" y="512" width="1" height="17" fill="#c0c0c0"/><rect x="709" y="512" width="1" height="17" fill="#c0c0c0"/><rect x="710" y="512" width="1" height="16" fill="#c0c0c0"/><rect x="711" y="512" width="1" height="16" fill="#c0c0c0"/><rect x="712" y="512" width="1" height="16" fill="#c0c0c0"/><rect x="713" y="512" width="1" height="16" fill="#c0c0c0"/><rect x="714" y="512" width="1" height="16" fill="#c0c0c0"/><rect x="715" y="512" width="1" height="16" fill="#c0c0c0"/><rect x="716" y="512" width="1" height="16" fill="#c0c0c0"/><rect x="717" y="512" width="1" height="15" fill="#c0c0c0"/><rect x="718" y="512" width="1" height="15" fill="#c0c0c0"/><rect x="719" y="512" width="1" height="14" fill="#c0c0c0"/><rect x="720" y="512" width="1" height="14" fill="#c0c0c0"/><rect x="721" y="512" width="1" height="13" fill="#c0c0c0"/><rect x="722" y="512" width="1" height="13" fill="#c0c0c0"/><rect x="723" y="512" width="1" height="12" fill="#c0c0c0"/><rect x="724" y="512" width="1" height="11" fill="#c0c0c0"/><rect x="725" y="512" width="1" height="10" fill="#c0c0c0"/><rect x="726" y="512" width="1" height="9" fill="#c0c0c0"/><rect x="727" y="512" width="1" height="7" fill="#c0c0c0"/><rect x="728" y="512" width="1" height="6" fill="#c0c0c0"/><rect x="729" y="512" width="1" height="4" fill="#c0c0c0"/><rect x="730" y="512" width="1" height="3" fill="#c0c0c0"/><rect x="731" y="512" width="1" height="1" fill="#c0c0c0"/><rect x="733" y="511" width="1" height="1" fill="#c0c0c0"/><rect x="734" y="510" width="1" height="2" fill="#c0c0c0"/><rect x="735" y="510" width="1" height="2" fill="#c0c0c0"/><rect x="736" y="509" width="1" height="3" fill="#c0c0c0"/><rect x="737" y="509" width="1" height="3" fill="#c0c0c0"/><rect x="738" y="508" width="1" height="4" fill="#c0c0c0"/><rect x="739" y="508" width="1" height="4" fill="#c0c0c0"/><rect x="740" y="507" width="1" height="5" fill="#c0c0c0"/><rect x="741" y="507" width="1" height="5" fill="#c0c0c0"/><rect x="742" y="507" width="1" height="5" fill="#c0c0c0"/><rect x="743" y="506" width="1" height="6" fill="#c0c0c0"/><rect x="744" y="506" width="1" height="6" fill="#c0c0c0"/><rect x="745" y="506" width="1" height="6" fill="#c0c0c0"/><rect x="746" y="505" width="1" height="7" fill="#c0c0c0"/><rect x="747" y="505" width="1" height="7" fill="#c0c0c0"/><rect x="748" y="505" width="1" height="7" fill="#c0c0c0"/><rect x="749" y="505" width="1" height="7" fill="#c0c0c0"/><rect x="750" y="504" width="1" height="8" fill="#c0c0c0"/><rect x="751" y="504" width="1" height="8" fill="#c0c0c0"/><rect x="752" y="504" width="1" height="8" fill="#c0c0c0"/><rect x="753" y="504" width="1" height="8" fill="#c0c0c0"/><rect x="754" y="504" width="1" height="8" fill="#c0c0c0"/><rect x="755" y="504" width="1" height="8" fill="#c0c0c0"/><rect x="756" y="503" width="1" height="9" fill="#c0c0c0"/><rect x="757" y="503" width="1" height="9" fill="#c0c0c0"/><rect x="758" y="503" width="1" height="9" fill="#c0c0c0"/><rect x="759" y="503" width="1" height="9" fill="#c0c0c0"/><rect x="760" y="503" width="1" height="9" fill="#c0c0c0"/><rect x="761" y="503" width="1" height="9" fill="#c0c0c0"/><rect x="762" y="503" width="1" height="9" fill="#c0c0c0"/><rect x="763" y="503" width="1" height="9" fill="#c0c0c0"/><rect x="764" y="503" width="1" height="9" fill="#c0c0c0"/><rect x="765" y="503" width="1" height="9" fill="#c0c0c0"/><rect x="766" y="503" width="1" height="9" fill="#c0c0c0"/><rect x="767" y="503" width="1" height="9" fill="#c0c0c0"/><rect x="768" y="503" width="1" height="9" fill="#c0c0c0"/><rect x="769" y="504" width="1" height="8" fill="#c0c0c0"/><rect x="770" y="504" width="1" height="8" fill="#c0c0c0"/><rect x="771" y="504" width="1" height="8" fill="#c0c0c0"/><rect x="772" y="505" width="1" height="7" fill="#c0c0c0"/><rect x="773" y="505" width="1" height="7" fill="#c0c0c0"/><rect x="774" y="505" width="1" height="7" fill="#c0c0c0"/><rect x="775" y="505" width="1" height="7" fill="#c0c0c0"/><rect x="776" y="505" width="1" height="7" fill="#c0c0c0"/><rect x="777" y="504" width="1" height="8" fill="#c0c0c0"/><rect x="778" y="504" width="1" height="8" fill="#c0c0c0"/><rect x="779" y="503" width="1" height="9" fill="#c0c0c0"/><rect x="780" y="502" width="1" height="10" fill="#c0c0c0"/><rect x="781" y="502" width="1" height="10" fill="#c0c0c0"/><rect x="782" y="501" width="1" height="11" fill="#c0c0c0"/><rect x="783" y="500" width="1" height="12" fill="#c0c0c0"/><rect x="784" y="500" width="1" height="12" fill="#c0c0c0"/><rect x="785" y="500" width="1" height="12" fill="#c0c0c0"/><rect x="786" y="499" width="1" height="13" fill="#c0c0c0"/><rect x="787" y="499" width="1" height="13" fill="#c0c0c0"/><rect x="788" y="499" width="1" height="13" fill="#c0c0c0"/><rect x="789" y="499" width="1" height="13" fill="#c0c0c0"/><rect x="790" y="498" width="1" height="14" fill="#c0c0c0"/><rect x="791" y="498" width="1" height="14" fill="#c0c0c0"/><rect x="792" y="498" width="1" height="14" fill="#c0c0c0"/><rect x="793" y="498" width="1" height="14" fill="#c0c0c0"/><rect x="794" y="498" width="1" height="14" fill="#c0c0c0"/><rect x="795" y="498" width="1" height="14" fill="#c0c0c0"/><rect x="796" y="497" width="1" height="15" fill="#c0c0c0"/><rect x="797" y="497" width="1" height="15" fill="#c0c0c0"/><rect x="798" y="497" width="1" height="15" fill="#c0c0c0"/><rect x="799" y="497" width="1" height="15" fill="#c0c0c0"/><rect x="800" y="497" width="1" height="15" fill="#c0c0c0"/><rect x="801" y="497" width="1" height="15" fill="#c0c0c0"/><rect x="802" y="497" width="1" height="15" fill="#c0c0c0"/><rect x="803" y="498" width="1" height="14" fill="#c0c0c0"/><rect x="804" y="498" width="1" height="14" fill="#c0c0c0"/><rect x="805" y="498" width="1" height="14" fill="#c0c0c0"/><rect x="806" y="498" width="1" height="14" fill="#c0c0c0"/><rect x="807" y="499" width="1" height="13" fill="#c0c0c0"/><rect x="808" y="499" width="1" height="13" fill="#c0c0c0"/><rect x="809" y="499" width="1" height="13" fill="#c0c0c0"/><rect x="810" y="499" width="1" height="13" fill="#c0c0c0"/><rect x="811" y="499" width="1" height="13" fill="#c0c0c0"/><rect x="812" y="499" width="1" height="13" fill="#c0c0c0"/><rect x="813" y="499" width="1" height="13" fill="#c0c0c0"/><rect x="814" y="499" width="1" height="13" fill="#c0c0c0"/><rect x="815" y="499" width="1" height="13" fill="#c0c0c0"/><rect x="816" y="499" width="1" height="13" fill="#c0c0c0"/><rect x="817" y="498" width="1" height="14" fill="#c0c0c0"/><rect x="818" y="498" width="1" height="14" fill="#c0c0c0"/><rect x="819" y="498" width="1" height="14" fill="#c0c0c0"/><rect x="820" y="498" width="1" height="14" fill="#c0c0c0"/><rect x="821" y="497" width="1" height="15" fill="#c0c0c0"/><rect x="822" y="497" width="1" height="15" fill="#c0c0c0"/><rect x="823" y="497" width="1" height="15" fill="#c0c0c0"/><rect x="824" y="497" width="1" height="15" fill="#c0c0c0"/><rect x="825" y="496" width="1" height="16" fill="#c0c0c0"/><rect x="826" y="496" width="1" height="16" fill="#c0c0c0"/><rect x="827" y="495" width="1" height="17" fill="#c0c0c0"/><rect x="828" y="495" width="1" height="17" fill="#c0c0c0"/><rect x="829" y="495" width="1" height="17" fill="#c0c0c0"/><rect x="830" y="494" width="1" height="18" fill="#c0c0c0"/><rect x="831" y="494" width="1" height="18" fill="#c0c0c0"/><rect x="832" y="493" width="1" height="19" fill="#c0c0c0"/><rect x="833" y="493" width="1" height="19" fill="#c0c0c0"/><rect x="834" y="493" width="1" height="19" fill="#c0c0c0"/><rect x="835" y="493" width="1" height="19" fill="#c0c0c0"/><rect x="836" y="493" width="1" height="19" fill="#c0c0c0"/><rect x="837" y="493" width="1" height="19" fill="#c0c0c0"/><rect x="838" y="493" width="1" height="19" fill="#c0c0c0"/><rect x="839" y="493" width="1" height="19" fill="#c0c0c0"/><rect x="840" y="493" width="1" height="19" fill="#c0c0c0"/><rect x="841" y="493" width="1" height="19" fill="#c0c0c0"/><rect x="842" y="494" width="1" height="18" fill="#c0c0c0"/><rect x="843" y="494" width="1" height="18" fill="#c0c0c0"/><rect x="844" y="495" width="1" height="17" fill="#c0c0c0"/><rect x="845" y="495" width="1" height="17" fill="#c0c0c0"/><rect x="846" y="496" width="1" height="16" fill="#c0c0c0"/><rect x="847" y="497" width="1" height="15" fill="#c0c0c0"/><rect x="848" y="498" width="1" height="14" fill="#c0c0c0"/><rect x="849" y="498" width="1" height="14" fill="#c0c0c0"/><rect x="850" y="498" width="1" height="14" fill="#c0c0c0"/><rect x="851" y="499" width="1" height="13" fill="#c0c0c0"/><rect x="852" y="499" width="1" height="13" fill="#c0c0c0"/><rect x="853" y="499" width="1" height="13" fill="#c0c0c0"/><rect x="854" y="500" width="1" height="12" fill="#c0c0c0"/><rect x="855" y="500" width="1" height="12" fill="#c0c0c0"/><rect x="856" y="501" width="1" height="11" fill="#c0c0c0"/><rect x="857" y="501" width="1" height="11" fill="#c0c0c0"/><rect x="858" y="502" width="1" height="10" fill="#c0c0c0"/><rect x="859" y="503" width="1" height="9" fill="#c0c0c0"/><rect x="860" y="503" width="1" height="9" fill="#c0c0c0"/><rect x="861" y="504" width="1" height="8" fill="#c0c0c0"/><rect x="862" y="505" width="1" height="7" fill="#c0c0c0"/><rect x="863" y="506" width="1" height="6" fill="#c0c0c0"/><rect x="864" y="507" width="1" height="5" fill="#c0c0c0"/><rect x="865" y="508" width="1" height="4" fill="#c0c0c0"/><rect x="866" y="509" width="1" height="3" fill="#c0c0c0"/><rect x="867" y="510" width="1" height="2" fill="#c0c0c0"/><rect x="868" y="511" width="1" height="1" fill="#c0c0c0"/><rect x="871" y="512" width="1" height="1" fill="#c0c0c0"/><rect x="872" y="512" width="1" height="2" fill="#c0c0c0"/><rect x="873" y="512" width="1" height="3" fill="#c0c0c0"/><rect x="874" y="512" width="1" height="4" fill="#c0c0c0"/><rect x="875" y="512" width="1" height="5" fill="#c0c0c0"/><rect x="876" y="512" width="1" height="6" fill="#c0c0c0"/><rect x="877" y="512" width="1" height="7" fill="#c0c0c0"/><rect x="878" y="512" width="1" height="7" fill="#c0c0c0"/><rect x="879" y="512" width="1" height="8" fill="#c0c0c0"/><rect x="880" y="512" width="1" height="9" fill="#c0c0c0"/><rect x="881" y="512" width="1" height="9" fill="#c0c0c0"/><rect x="882" y="512" width="1" height="9" fill="#c0c0c0"/><rect x="883" y="512" width="1" height="9" fill="#c0c0c0"/><rect x="884" y="512" width="1" height="9" fill="#c0c0c0"/><rect x="885" y="512" width="1" height="8" fill="#c0c0c0"/><rect x="886" y="512" width="1" height="8" fill="#c0c0c0"/><rect x="887" y="512" width="1" height="8" fill="#c0c0c0"/><rect x="888" y="512" width="1" height="8" fill="#c0c0c0"/><rect x="889" y="512" width="1" height="7" fill="#c0c0c0"/><rect x="890" y="512" width="1" height="7" fill="#c0c0c0"/><rect x="891" y="512" width="1" height="7" fill="#c0c0c0"/><rect x="892" y="512" width="1" height="6" fill="#c0c0c0"/><rect x="893" y="512" width="1" height="6" fill="#c0c0c0"/><rect x="894" y="512" width="1" height="6" fill="#c0c0c0"/><rect x="895" y="512" width="1" height="5" fill="#c0c0c0"/><rect x="896" y="512" width="1" height="5" fill="#c0c0c0"/><rect x="897" y="512" width="1" height="5" fill="#c0c0c0"/><rect x="898" y="512" width="1" height="5" fill="#c0c0c0"/><rect x="899" y="512" width="1" height="5" fill="#c0c0c0"/><rect x="900" y="512" width="1" height="6" fill="#c0c0c0"/><rect x="901" y="512" width="1" height="6" fill="#c0c0c0"/><rect x="902" y="512" width="1" height="7" fill="#c0c0c0"/><rect x="903" y="512" width="1" height="7" fill="#c0c0c0"/><rect x="904" y="512" width="1" height="8" fill="#c0c0c0"/><rect x="905" y="512" width="1" height="9" fill="#c0c0c0"/><rect x="906" y="512" width="1" height="11" fill="#c0c0c0"/><rect x="907" y="512" width="1" height="12" fill="#c0c0c0"/><rect x="908" y="512" width="1" height="11" fill="#c0c0c0"/><rect x="909" y="512" width="1" height="11" fill="#c0c0c0"/><rect x="910" y="512" width="1" height="10" fill="#c0c0c0"/><rect x="911" y="512" width="1" height="10" fill="#c0c0c0"/><rect x="912" y="512" width="1" height="9" fill="#c0c0c0"/><rect x="913" y="512" width="1" height="9" fill="#c0c0c0"/><rect x="914" y="512" width="1" height="8" fill="#c0c0c0"/><rect x="915" y="512" width="1" height="8" fill="#c0c0c0"/><rect x="916" y="512" width="1" height="7" fill="#c0c0c0"/><rect x="917" y="512" width="1" height="7" fill="#c0c0c0"/><rect x="918" y="512" width="1" height="6" fill="#c0c0c0"/><rect x="919" y="512" width="1" height="6" fill="#c0c0c0"/><rect x="920" y="512" width="1" height="5" fill="#c0c0c0"/><rect x="921" y="512" width="1" height="5" fill="#c0c0c0"/><rect x="922" y="512" width="1" height="5" fill="#c0c0c0"/><rect x="923" y="512" width="1" height="5" fill="#c0c0c0"/><rect x="924" y="512" width="1" height="5" fill="#c0c0c0"/><rect x="925" y="512" width="1" height="5" fill="#c0c0c0"/><rect x="926" y="512" width="1" height="5" fill="#c0c0c0"/><rect x="927" y="512" width="1" height="5" fill="#c0c0c0"/><rect x="928" y="512" width="1" height="5" fill="#c0c0c0"/><rect x="929" y="512" width="1" height="5" fill="#c0c0c0"/><polyline points="5.5,518.5 6.5,519.5 7.5,519.5 8.5,519.5 9.5,518.5 10.5,518.5 11.5,517.5 12.5,517.5 13.5,516.5 14.5,516.5 15.5,515.5 16.5,515.5 17.5,514.5 18.5,514.5 19.5,513.5 20.5,513.5 21.5,512.5 22.5,511.5 23.5,511.5 24.5,510.5 25.5,509.5 26.5,509.5 27.5,508.5 28.5,508.5 29.5,508.5 30.5,508.5 31.5,508.5 32.5,508.5 33.5,508.5 34.5,508.5 35.5,508.5 36.5,508.5 37.5,509.5 38.5,509.5 39.5,509.5 40.5,509.5 41.5,510.5 42.5,511.5 43.5,511.5 44.5,512.5 45.5,513.5 46.5,513.5 47.5,514.5 48.5,515.5 49.5,516.5 50.5,516.5 51.5,517.5 52.5,518.5 53.5,519.5 54.5,520.5 55.5,522.5 56.5,523.5 57.5,524.5 58.5,525.5 59.5,525.5 60.5,526.5 61.5,526.5 62.5,527.5 63.5,527.5 64.5,527.5 65.5,527.5 66.5,527.5 67.5,527.5 68.5,527.5 69.5,526.5 70.5,525.5 71.5,525.5 72.5,524.5 73.5,523.5 74.5,523.5 75.5,522.5 76.5,521.5 77.5,520.5 78.5,519.5 79.5,518.5 80.5,518.5 81.5,517.5 82.5,516.5 83.5,516.5 84.5,515.5 85.5,515.5 86.5,514.5 87.5,514.5 88.5,514.5 89.5,513.5 90.5,513.5 91.5,513.5 92.5,513.5 93.5,513.5 94.5,512.5 95.5,512.5 96.5,512.5 97.5,512.5 98.5,512.5 99.5,512.5 100.5,512.5 101.5,512.5 102.5,512.5 103.5,512.5 104.5,512.5 105.5,512.5 106.5,512.5 107.5,512.5 108.5,513.5 109.5,513.5 110.5,513.5 111.5,513.5 112.5,513.5 113.5,513.5 114.5,513.5 115.5,513.5 116.5,514.5 117.5,514.5 118.5,515.5 119.5,515.5 120.5,516.5 121.5,516.5 122.5,517.5 123.5,518.5 124.5,518.5 125.5,519.5 126.5,520.5 127.5,521.5 128.5,521.5 129.5,522.5 130.5,523.5 131.5,524.5 132.5,525.5 133.5,525.5 134.5,526.5 135.5,526.5 136.5,527.5 137.5,527.5 138.5,527.5 139.5,526.5 140.5,526.5 141.5,526.5 142.5,526.5 143.5,526.5 144.5,526.5 145.5,525.5 146.5,525.5 147.5,525.5 148.5,524.5 149.5,524.5 150.5,524.5 151.5,523.5 152.5,523.5 153.5,523.5 154.5,523.5 155.5,522.5 156.5,522.5 157.5,522.5 158.5,522.5 159.5,522.5 160.5,523.5 161.5,524.5 162.5,525.5 163.5,526.5 164.5,528.5 165.5,530.5 166.5,532.5 167.5,534.5 168.5,536.5 169.5,538.5 170.5,540.5 171.5,543.5 172.5,545.5 173.5,547.5 174.5,549.5 175.5,551.5 176.5,553.5 177.5,555.5 178.5,556.5 179.5,558.5 180.5,559.5 181.5,560.5 182.5,561.5 183.5,562.5 184.5,563.5 185.5,564.5 186.5,565.5 187.5,565.5 188.5,565.5 189.5,565.5 190.5,564.5 191.5,563.5 192.5,562.5 193.5,561.5 194.5,560.5 195.5,559.5 196.5,558.5 197.5,557.5 198.5,555.5 199.5,554.5 200.5,553.5 201.5,551.5 202.5,550.5 203.5,549.5 204.5,548.5 205.5,546.5 206.5,545.5 207.5,543.5 208.5,542.5 209.5,541.5 210.5,539.5 211.5,538.5 212.5,536.5 213.5,535.5 214.5,534.5 215.5,533.5 216.5,531.5 217.5,530.5 218.5,529.5 219.5,528.5 220.5,527.5 221.5,526.5 222.5,525.5 223.5,524.5 224.5,524.5 225.5,523.5 226.5,522.5 227.5,521.5 228.5,521.5 229.5,520.5 230.5,520.5 231.5,519.5 232.5,518.5 233.5,518.5 234.5,517.5 235.5,517.5 236.5,517.5 237.5,516.5 238.5,516.5 239.5,515.5 240.5,515.5 241.5,515.5 242.5,515.5 243.5,514.5 244.5,514.5 245.5,514.5 246.5,514.5 247.5,514.5 248.5,514.5 249.5,514.5 250.5,514.5 251.5,514.5 252.5,514.5 253.5,514.5 254.5,514.5 255.5,514.5 256.5,514.5 257.5,514.5 258.5,514.5 259.5,515.5 260.5,515.5 261.5,515.5 262.5,516.5 263.5,516.5 264.5,517.5 265.5,517.5 266.5,517.5 267.5,518.5 268.5,518.5 269.5,519.5 270.5,519.5 271.5,520.5 272.5,520.5 273.5,521.5 274.5,521.5 275.5,522.5 276.5,522.5 277.5,523.5 278.5,523.5 279.5,524.5 280.5,524.5 281.5,525.5 282.5,525.5 283.5,526.5 284.5,526.5 285.5,527.5 286.5,527.5 287.5,527.5 288.5,528.5 289.5,528.5 290.5,529.5 291.5,529.5 292.5,529.5 293.5,530.5 294.5,530.5 295.5,530.5 296.5,530.5 297.5,530.5 298.5,530.5 299.5,530.5 300.5,529.5 301.5,529.5 302.5,529.5 303.5,528.5 304.5,528.5 305.5,528.5 306.5,527.5 307.5,527.5 308.5,526.5 309.5,525.5 310.5,525.5 311.5,524.5 312.5,524.5 313.5,524.5 314.5,523.5 315.5,522.5 316.5,522.5 317.5,521.5 318.5,521.5 319.5,521.5 320.5,520.5 321.5,520.5 322.5,520.5 323.5,520.5 324.5,520.5 325.5,520.5 326.5,520.5 327.5,520.5 328.5,520.5 329.5,520.5 330.5,520.5 331.5,521.5 332.5,521.5 333.5,521.5 334.5,522.5 335.5,523.5 336.5,523.5 337.5,524.5 338.5,524.5 339.5,525.5 340.5,525.5 341.5,526.5 342.5,526.5 343.5,526.5 344.5,526.5 345.5,526.5 346.5,526.5 347.5,526.5 348.5,525.5 349.5,525.5 350.5,524.5 351.5,524.5 352.5,523.5 353.5,523.5 354.5,522.5 355.5,521.5 356.5,520.5 357.5,519.5 358.5,518.5 359.5,517.5 360.5,516.5 361.5,515.5 362.5,515.5 363.5,514.5 364.5,513.5 365.5,512.5 366.5,512.5 367.5,511.5 368.5,511.5 369.5,510.5 370.5,510.5 371.5,509.5 372.5,509.5 373.5,509.5 374.5,509.5 375.5,508.5 376.5,508.5 377.5,508.5 378.5,508.5 379.5,508.5 380.5,508.5 381.5,509.5 382.5,509.5 383.5,510.5 384.5,511.5 385.5,512.5 386.5,513.5 387.5,514.5 388.5,514.5 389.5,515.5 390.5,516.5 391.5,517.5 392.5,518.5 393.5,518.5 394.5,519.5 395.5,520.5 396.5,520.5 397.5,521.5 398.5,521.5 399.5,522.5 400.5,522.5 401.5,521.5 402.5,521.5 403.5,521.5 404.5,521.5 405.5,520.5 406.5,520.5 407.5,519.5 408.5,519.5 409.5,519.5 410.5,518.5 411.5,518.5 412.5,518.5 413.5,518.5 414.5,518.5 415.5,517.5 416.5,517.5 417.5,518.5 418.5,518.5 419.5,518.5 420.5,518.5 421.5,518.5 422.5,518.5 423.5,518.5 424.5,519.5 425.5,519.5 426.5,519.5 427.5,519.5 428.5,519.5 429.5,519.5 430.5,519.5 431.5,519.5 432.5,519.5 433.5,519.5 434.5,519.5 435.5,519.5 436.5,519.5 437.5,519.5 438.5,519.5 439.5,520.5 440.5,520.5 441.5,520.5 442.5,520.5 443.5,520.5 444.5,520.5 445.5,521.5 446.5,521.5 447.5,521.5 448.5,521.5 449.5,521.5 450.5,522.5 451.5,522.5 452.5,522.5 453.5,522.5 454.5,522.5 455.5,522.5 456.5,522.5 457.5,521.5 458.5,521.5 459.5,521.5 460.5,521.5 461.5,521.5 462.5,520.5 463.5,520.5 464.5,519.5 465.5,519.5 466.5,519.5 467.5,518.5 468.5,518.5 469.5,518.5 470.5,518.5 471.5,518.5 472.5,518.5 473.5,518.5 474.5,517.5 475.5,518.5 476.5,518.5 477.5,518.5 478.5,518.5 479.5,518.5 480.5,518.5 481.5,518.5 482.5,518.5 483.5,518.5 484.5,519.5 485.5,519.5 486.5,519.5 487.5,519.5 488.5,519.5 489.5,519.5 490.5,518.5 491.5,518.5 492.5,517.5 493.5,517.5 494.5,516.5 495.5,516.5 496.5,515.5 497.5,515.5 498.5,515.5 499.5,514.5 500.5,514.5 501.5,513.5 502.5,513.5 503.5,512.5 504.5,512.5 505.5,511.5 506.5,511.5 507.5,510.5 508.5,510.5 509.5,509.5 510.5,509.5 511.5,508.5 512.5,508.5 513.5,508.5 514.5,507.5 515.5,507.5 516.5,507.5 517.5,507.5 518.5,507.5 519.5,506.5 520.5,506.5 521.5,506.5 522.5,505.5 523.5,505.5 524.5,505.5 525.5,504.5 526.5,503.5 527.5,503.5 528.5,502.5 529.5,501.5 530.5,501.5 531.5,500.5 532.5,499.5 533.5,498.5 534.5,497.5 535.5,497.5 536.5,496.5 537.5,495.5 538.5,495.5 539.5,494.5 540.5,494.5 541.5,493.5 542.5,494.5 543.5,494.5 544.5,495.5 545.5,495.5 546.5,495.5 547.5,495.5 548.5,496.5 549.5,496.5 550.5,496.5 551.5,497.5 552.5,497.5 553.5,497.5 554.5,498.5 555.5,498.5 556.5,499.5 557.5,499.5 558.5,499.5 559.5,500.5 560.5,500.5 561.5,500.5 562.5,501.5 563.5,501.5 564.5,502.5 565.5,502.5 566.5,502.5 567.5,503.5 568.5,503.5 569.5,504.5 570.5,504.5 571.5,504.5 572.5,505.5 573.5,505.5 574.5,506.5 575.5,506.5 576.5,507.5 577.5,507.5 578.5,508.5 579.5,508.5 580.5,509.5 581.5,509.5 582.5,510.5 583.5,510.5 584.5,511.5 585.5,512.5 586.5,512.5 587.5,513.5 588.5,513.5 589.5,514.5 590.5,514.5 591.5,515.5 592.5,515.5 593.5,516.5 594.5,516.5 595.5,516.5 596.5,517.5 597.5,518.5 598.5,518.5 599.5,519.5 600.5,520.5 601.5,521.5 602.5,522.5 603.5,523.5 604.5,523.5 605.5,524.5 606.5,525.5 607.5,526.5 608.5,527.5 609.5,528.5 610.5,529.5 611.5,530.5 612.5,531.5 613.5,531.5 614.5,532.5 615.5,533.5 616.5,534.5 617.5,535.5 618.5,536.5 619.5,536.5 620.5,537.5 621.5,537.5 622.5,537.5 623.5,537.5 624.5,537.5 625.5,538.5 626.5,538.5 627.5,538.5 628.5,538.5 629.5,538.5 630.5,538.5 631.5,538.5 632.5,538.5 633.5,537.5 634.5,537.5 635.5,536.5 636.5,536.5 637.5,535.5 638.5,535.5 639.5,534.5 640.5,533.5 641.5,532.5 642.5,532.5 643.5,531.5 644.5,530.5 645.5,529.5 646.5,529.5 647.5,528.5 648.5,527.5 649.5,527.5 650.5,526.5 651.5,525.5 652.5,525.5 653.5,524.5 654.5,524.5 655.5,523.5 656.5,523.5 657.5,522.5 658.5,522.5 659.5,521.5 660.5,520.5 661.5,520.5 662.5,519.5 663.5,518.5 664.5,517.5 665.5,516.5 666.5,516.5 667.5,515.5 668.5,514.5 669.5,513.5 670.5,512.5 671.5,511.5 672.5,510.5 673.5,509.5 674.5,509.5 675.5,508.5 676.5,507.5 677.5,507.5 678.5,506.5 679.5,507.5 680.5,507.5 681.5,507.5 682.5,508.5 683.5,508.5 684.5,508.5 685.5,508.5 686.5,509.5 687.5,510.5 688.5,510.5 689.5,511.5 690.5,512.5 691.5,513.5 692.5,514.5 693.5,515.5 694.5,516.5 695.5,517.5 696.5,518.5 697.5,519.5 698.5,520.5 699.5,520.5 700.5,521.5 701.5,522.5 702.5,523.5 703.5,523.5 704.5,524.5 705.5,524.5 706.5,525.5 707.5,525.5 708.5,526.5 709.5,526.5 710.5,526.5 711.5,527.5 712.5,527.5 713.5,527.5 714.5,528.5 715.5,528.5 716.5,528.5 717.5,528.5 718.5,528.5 719.5,528.5 720.5,528.5 721.5,528.5 722.5,527.5 723.5,527.5 724.5,526.5 725.5,526.5 726.5,525.5 727.5,524.5 728.5,524.5 729.5,523.5 730.5,522.5 731.5,521.5 732.5,521.5 733.5,520.5 734.5,519.5 735.5,518.5 736.5,517.5 737.5,516.5 738.5,515.5 739.5,514.5 740.5,513.5 741.5,513.5 742.5,512.5 743.5,511.5 744.5,510.5 745.5,510.5 746.5,509.5 747.5,509.5 748.5,508.5 749.5,508.5 750.5,508.5 751.5,507.5 752.5,507.5 753.5,507.5 754.5,506.5 755.5,506.5 756.5,506.5 757.5,505.5 758.5,505.5 759.5,505.5 760.5,504.5 761.5,504.5 762.5,504.5 763.5,504.5 764.5,504.5 765.5,504.5 766.5,504.5 767.5,504.5 768.5,504.5 769.5,504.5 770.5,504.5 771.5,504.5 772.5,504.5 773.5,504.5 774.5,504.5 775.5,504.5 776.5,504.5 777.5,504.5 778.5,504.5 779.5,504.5 780.5,504.5 781.5,504.5 782.5,504.5 783.5,504.5 784.5,504.5 785.5,503.5 786.5,503.5 787.5,503.5 788.5,503.5 789.5,502.5 790.5,502.5 791.5,502.5 792.5,501.5 793.5,501.5 794.5,500.5 795.5,500.5 796.5,500.5 797.5,500.5 798.5,499.5 799.5,499.5 800.5,499.5 801.5,499.5 802.5,499.5 803.5,499.5 804.5,499.5 805.5,499.5 806.5,499.5 807.5,499.5 808.5,499.5 809.5,499.5 810.5,499.5 811.5,499.5 812.5,499.5 813.5,499.5 814.5,499.5 815.5,499.5 816.5,499.5 817.5,499.5 818.5,499.5 819.5,499.5 820.5,499.5 821.5,499.5 822.5,499.5 823.5,499.5 824.5,499.5 825.5,498.5 826.5,498.5 827.5,498.5 828.5,498.5 829.5,497.5 830.5,497.5 831.5,496.5 832.5,496.5 833.5,496.5 834.5,496.5 835.5,495.5 836.5,495.5 837.5,495.5 838.5,494.5 839.5,494.5 840.5,494.5 841.5,494.5 842.5,494.5 843.5,494.5 844.5,494.5 845.5,494.5 846.5,494.5 847.5,494.5 848.5,494.5 849.5,495.5 850.5,495.5 851.5,495.5 852.5,496.5 853.5,496.5 854.5,497.5 855.5,497.5 856.5,497.5 857.5,498.5 858.5,498.5 859.5,499.5 860.5,499.5 861.5,500.5 862.5,500.5 863.5,501.5 864.5,501.5 865.5,502.5 866.5,502.5 867.5,503.5 868.5,503.5 869.5,504.5 870.5,505.5 871.5,505.5 872.5,506.5 873.5,507.5 874.5,508.5 875.5,509.5 876.5,510.5 877.5,511.5 878.5,512.5 879.5,513.5 880.5,514.5 881.5,515.5 882.5,515.5 883.5,516.5 884.5,517.5 885.5,517.5 886.5,518.5 887.5,518.5 888.5,518.5 889.5,519.5 890.5,519.5 891.5,519.5 892.5,519.5 893.5,519.5 894.5,519.5 895.5,519.5 896.5,519.5 897.5,518.5 898.5,518.5 899.5,518.5 900.5,518.5 901.5,518.5 902.5,518.5 903.5,518.5 904.5,519.5 905.5,519.5 906.5,519.5 907.5,519.5 908.5,519.5 909.5,519.5 910.5,519.5 911.5,520.5 912.5,520.5 913.5,520.5 914.5,520.5 915.5,520.5 916.5,520.5 917.5,520.5 918.5,520.5 919.5,520.5 920.5,520.5 921.5,520.5 922.5,520.5 923.5,520.5 924.5,520.5 925.5,520.5 926.5,520.5 927.5,519.5 928.5,519.5" fill="none" stroke="#ff0000" stroke-width="1"/>
<polyline points="5.5,621.5 6.5,621.5 7.5,621.5 8.5,618.5 9.5,613.5 10.5,610.5 11.5,610.5 12.5,610.5 13.5,611.5 14.5,611.5 15.5,610.5 16.5,610.5 17.5,611.5 18.5,612.5 19.5,611.5 20.5,610.5 21.5,609.5 22.5,609.5 23.5,609.5 24.5,610.5 25.5,614.5 26.5,615.5 27.5,615.5 28.5,616.5 29.5,617.5 30.5,620.5 31.5,624.5 32.5,624.5 33.5,620.5 34.5,619.5 35.5,618.5 36.5,618.5 37.5,618.5 38.5,618.5 39.5,619.5 40.5,620.5 41.5,621.5 42.5,622.5 43.5,623.5 44.5,626.5 45.5,629.5 46.5,632.5 47.5,636.5 48.5,635.5 49.5,634.5 50.5,634.5 51.5,634.5 52.5,635.5 53.5,636.5 54.5,636.5 55.5,635.5 56.5,630.5 57.5,621.5 58.5,618.5 59.5,619.5 60.5,619.5 61.5,620.5 62.5,621.5 63.5,620.5 64.5,620.5 65.5,622.5 66.5,622.5 67.5,620.5 68.5,619.5 69.5,616.5 70.5,613.5 71.5,613.5 72.5,612.5 73.5,613.5 74.5,614.5 75.5,615.5 76.5,616.5 77.5,616.5 78.5,617.5 79.5,618.5 80.5,618.5 81.5,617.5 82.5,616.5 83.5,617.5 84.5,618.5 85.5,618.5 86.5,618.5 87.5,617.5 88.5,617.5 89.5,617.5 90.5,616.5 91.5,614.5 92.5,612.5 93.5,609.5 94.5,610.5 95.5,615.5 96.5,617.5 97.5,618.5 98.5,619.5 99.5,620.5 100.5,621.5 101.5,621.5 102.5,621.5 103.5,621.5 104.5,620.5 105.5,618.5 106.5,617.5 107.5,619.5 108.5,619.5 109.5,619.5 110.5,618.5 111.5,616.5 112.5,614.5 113.5,615.5 114.5,616.5 115.5,620.5 116.5,624.5 117.5,628.5 118.5,630.5 119.5,632.5 120.5,633.5 121.5,633.5 122.5,634.5 123.5,633.5 124.5,632.5 125.5,631.5 126.5,629.5 127.5,627.5 128.5,625.5 129.5,625.5 130.5,625.5 131.5,625.5 132.5,625.5 133.5,625.5 134.5,626.5 135.5,626.5 136.5,625.5 137.5,623.5 138.5,623.5 139.5,624.5 140.5,624.5 141.5,623.5 142.5,623.5 143.5,624.5 144.5,624.5 145.5,623.5 146.5,622.5 147.5,623.5 148.5,623.5 149.5,621.5 150.5,620.5 151.5,621.5 152.5,622.5 153.5,623.5 154.5,623.5 155.5,624.5 156.5,628.5 157.5,638.5 158.5,643.5 159.5,643.5 160.5,643.5 161.5,642.5 162.5,643.5 163.5,645.5 164.5,646.5 165.5,647.5 166.5,647.5 167.5,648.5 168.5,648.5 169.5,649.5 170.5,648.5 171.5,646.5 172.5,644.5 173.5,644.5 174.5,644.5 175.5,642.5 176.5,642.5 177.5,644.5 178.5,645.5 179.5,644.5 180.5,643.5 181.5,644.5 182.5,644.5 183.5,644.5 184.5,643.5 185.5,641.5 186.5,640.5 187.5,637.5 188.5,633.5 189.5,631.5 190.5,631.5 191.5,630.5 192.5,629.5 193.5,628.5 194.5,628.5 195.5,629.5 196.5,631.5 197.5,632.5 198.5,633.5 199.5,633.5 200.5,631.5 201.5,629.5 202.5,627.5 203.5,625.5 204.5,622.5 205.5,619.5 206.5,619.5 207.5,621.5 208.5,621.5 209.5,620.5 210.5,619.5 211.5,617.5 212.5,615.5 213.5,612.5 214.5,612.5 215.5,615.5 216.5,617.5 217.5,620.5 218.5,621.5 219.5,621.5 220.5,621.5 221.5,621.5 222.5,620.5 223.5,618.5 224.5,616.5 225.5,616.5 226.5,617.5 227.5,619.5 228.5,620.5 229.5,619.5 230.5,618.5 231.5,617.5 232.5,617.5 233.5,617.5 234.5,616.5 235.5,615.5 236.5,613.5 237.5,610.5 238.5,612.5 239.5,616.5 240.5,618.5 241.5,619.5 242.5,620.5 243.5,621.5 244.5,621.5 245.5,620.5 246.5,619.5 247.5,618.5 248.5,618.5 249.5,619.5 250.5,620.5 251.5,618.5 252.5,618.5 253.5,619.5 254.5,620.5 255.5,621.5 256.5,622.5 257.5,622.5 258.5,622.5 259.5,624.5 260.5,625.5 261.5,627.5 262.5,626.5 263.5,625.5 264.5,623.5 265.5,624.5 266.5,624.5 267.5,623.5 268.5,623.5 269.5,624.5 270.5,625.5 271.5,626.5 272.5,627.5 273.5,629.5 274.5,631.5 275.5,633.5 276.5,634.5 277.5,632.5 278.5,630.5 279.5,631.5 280.5,632.5 281.5,633.5 282.5,633.5 283.5,629.5 284.5,626.5 285.5,622.5 286.5,624.5 287.5,626.5 288.5,628.5 289.5,628.5 290.5,628.5 291.5,628.5 292.5,628.5 293.5,629.5 294.5,630.5 295.5,632.5 296.5,631.5 297.5,627.5 298.5,624.5 299.5,623.5 300.5,621.5 301.5,619.5 302.5,620.5 303.5,622.5 304.5,621.5 305.5,620.5 306.5,618.5 307.5,617.5 308.5,617.5 309.5,618.5 310.5,619.5 311.5,619.5 312.5,619.5 313.5,618.5 314.5,618.5 315.5,617.5 316.5,616.5 317.5,615.5 318.5,618.5 319.5,622.5 320.5,624.5 321.5,625.5 322.5,626.5 323.5,628.5 324.5,628.5 325.5,627.5 326.5,627.5 327.5,626.5 328.5,626.5 329.5,625.5 330.5,624.5 331.5,626.5 332.5,628.5 333.5,629.5 334.5,630.5 335.5,630.5 336.5,630.5 337.5,631.5 338.5,632.5 339.5,633.5 340.5,633.5 341.5,628.5 342.5,623.5 343.5,619.5 344.5,616.5 345.5,613.5 346.5,614.5 347.5,618.5 348.5,617.5 349.5,616.5 350.5,616.5 351.5,617.5 352.5,618.5 353.5,618.5 354.5,617.5 355.5,616.5 356.5,614.5 357.5,613.5 358.5,612.5 359.5,612.5 360.5,611.5 361.5,610.5 362.5,609.5 363.5,610.5 364.5,611.5 365.5,613.5 366.5,615.5 367.5,618.5 368.5,617.5 369.5,614.5 370.5,613.5 371.5,614.5 372.5,615.5 373.5,615.5 374.5,614.5 375.5,614.5 376.5,615.5 377.5,617.5 378.5,619.5 379.5,621.5 380.5,623.5 381.5,624.5 382.5,625.5 383.5,627.5 384.5,630.5 385.5,633.5 386.5,632.5 387.5,631.5 388.5,630.5 389.5,629.5 390.5,628.5 391.5,627.5 392.5,624.5 393.5,620.5 394.5,619.5 395.5,618.5 396.5,618.5 397.5,617.5 398.5,616.5 399.5,617.5 400.5,617.5 401.5,615.5 402.5,614.5 403.5,614.5 404.5,616.5 405.5,619.5 406.5,622.5 407.5,622.5 408.5,623.5 409.5,622.5 410.5,622.5 411.5,623.5 412.5,623.5 413.5,622.5 414.5,620.5 415.5,619.5 416.5,620.5 417.5,622.5 418.5,623.5 419.5,621.5 420.5,620.5 421.5,620.5 422.5,621.5 423.5,622.5 424.5,623.5 425.5,624.5 426.5,626.5 427.5,628.5 428.5,625.5 429.5,621.5 430.5,620.5 431.5,620.5 432.5,620.5 433.5,621.5 434.5,621.5 435.5,622.5 436.5,624.5 437.5,625.5 438.5,623.5 439.5,621.5 440.5,624.5 441.5,627.5 442.5,626.5 443.5,625.5 444.5,624.5 445.5,623.5 446.5,623.5 447.5,624.5 448.5,625.5 449.5,626.5 450.5,626.5 451.5,624.5 452.5,623.5 453.5,621.5 454.5,619.5 455.5,617.5 456.5,616.5 457.5,616.5 458.5,617.5 459.5,617.5 460.5,618.5 461.5,618.5 462.5,618.5 463.5,617.5 464.5,615.5 465.5,613.5 466.5,615.5 467.5,623.5 468.5,624.5 469.5,623.5 470.5,622.5 471.5,623.5 472.5,623.5 473.5,624.5 474.5,624.5 475.5,624.5 476.5,623.5 477.5,624.5 478.5,624.5 479.5,625.5 480.5,624.5 481.5,622.5 482.5,621.5 483.5,621.5 484.5,621.5 485.5,621.5 486.5,618.5 487.5,615.5 488.5,613.5 489.5,611.5 490.5,609.5 491.5,609.5 492.5,610.5 493.5,610.5 494.5,611.5 495.5,612.5 496.5,612.5 497.5,613.5 498.5,616.5 499.5,620.5 500.5,618.5 501.5,614.5 502.5,611.5 503.5,607.5 504.5,607.5 505.5,609.5 506.5,609.5 507.5,610.5 508.5,610.5 509.5,610.5 510.5,611.5 511.5,612.5 512.5,615.5 513.5,618.5 514.5,621.5 515.5,616.5 516.5,612.5 517.5,608.5 518.5,606.5 519.5,606.5 520.5,606.5 521.5,605.5 522.5,604.5 523.5,603.5 524.5,601.5 525.5,601.5 526.5,600.5 527.5,600.5 528.5,600.5 529.5,599.5 530.5,600.5 531.5,601.5 532.5,602.5 533.5,603.5 534.5,604.5 535.5,602.5 536.5,601.5 537.5,604.5 538.5,608.5 539.5,610.5 540.5,612.5 541.5,613.5 542.5,614.5 543.5,612.5 544.5,611.5 545.5,610.5 546.5,608.5 547.5,607.5 548.5,608.5 549.5,610.5 550.5,611.5 551.5,612.5 552.5,612.5 553.5,613.5 554.5,613.5 555.5,612.5 556.5,611.5 557.5,611.5 558.5,611.5 559.5,610.5 560.5,611.5 561.5,613.5 562.5,615.5 563.5,617.5 564.5,618.5 565.5,617.5 566.5,616.5 567.5,615.5 568.5,615.5 569.5,615.5 570.5,616.5 571.5,618.5 572.5,615.5 573.5,611.5 574.5,614.5 575.5,620.5 576.5,623.5 577.5,623.5 578.5,623.5 579.5,623.5 580.5,623.5 581.5,623.5 582.5,623.5 583.5,623.5 584.5,623.5 585.5,622.5 586.5,622.5 587.5,622.5 588.5,622.5 589.5,623.5 590.5,624.5 591.5,625.5 592.5,626.5 593.5,626.5 594.5,627.5 595.5,629.5 596.5,631.5 597.5,634.5 598.5,636.5 599.5,638.5 600.5,639.5 601.5,639.5 602.5,639.5 603.5,639.5 604.5,638.5 605.5,639.5 606.5,639.5 607.5,639.5 608.5,640.5 609.5,640.5 610.5,640.5 611.5,640.5 612.5,639.5 613.5,640.5 614.5,641.5 615.5,641.5 616.5,640.5 617.5,639.5 618.5,639.5 619.5,640.5 620.5,641.5 621.5,642.5 622.5,642.5 623.5,641.5 624.5,640.5 625.5,639.5 626.5,639.5 627.5,639.5 628.5,639.5 629.5,639.5 630.5,640.5 631.5,640.5 632.5,635.5 633.5,629.5 634.5,626.5 635.5,625.5 636.5,625.5 637.5,624.5 638.5,623.5 639.5,623.5 640.5,623.5 641.5,623.5 642.5,623.5 643.5,625.5 644.5,626.5 645.5,628.5 646.5,627.5 647.5,626.5 648.5,626.5 649.5,625.5 650.5,625.5 651.5,624.5 652.5,623.5 653.5,622.5 654.5,620.5 655.5,618.5 656.5,614.5 657.5,610.5 658.5,607.5 659.5,604.5 660.5,602.5 661.5,601.5 662.5,602.5 663.5,602.5 664.5,603.5 665.5,605.5 666.5,607.5 667.5,608.5 668.5,607.5 669.5,607.5 670.5,608.5 671.5,610.5 672.5,613.5 673.5,613.5 674.5,613.5 675.5,614.5 676.5,614.5 677.5,615.5 678.5,615.5 679.5,616.5 680.5,617.5 681.5,623.5 682.5,628.5 683.5,632.5 684.5,633.5 685.5,633.5 686.5,633.5 687.5,633.5 688.5,632.5 689.5,631.5 690.5,631.5 691.5,631.5 692.5,631.5 693.5,631.5 694.5,632.5 695.5,634.5 696.5,633.5 697.5,631.5 698.5,630.5 699.5,632.5 700.5,635.5 701.5,637.5 702.5,631.5 703.5,628.5 704.5,627.5 705.5,627.5 706.5,627.5 707.5,627.5 708.5,629.5 709.5,630.5 710.5,631.5 711.5,630.5 712.5,629.5 713.5,628.5 714.5,628.5 715.5,629.5 716.5,630.5 717.5,628.5 718.5,626.5 719.5,624.5 720.5,622.5 721.5,620.5 722.5,619.5 723.5,616.5 724.5,614.5 725.5,615.5 726.5,616.5 727.5,614.5 728.5,611.5 729.5,609.5 730.5,609.5 731.5,610.5 732.5,610.5 733.5,609.5 734.5,610.5 735.5,611.5 736.5,611.5 737.5,612.5 738.5,613.5 739.5,614.5 740.5,613.5 741.5,611.5 742.5,609.5 743.5,609.5 744.5,608.5 745.5,608.5 746.5,609.5 747.5,613.5 748.5,614.5 749.5,613.5 750.5,612.5 751.5,611.5 752.5,612.5 753.5,612.5 754.5,611.5 755.5,610.5 756.5,608.5 757.5,606.5 758.5,606.5 759.5,607.5 760.5,608.5 761.5,608.5 762.5,608.5 763.5,608.5 764.5,610.5 765.5,613.5 766.5,613.5 767.5,612.5 768.5,612.5 769.5,613.5 770.5,614.5 771.5,615.5 772.5,615.5 773.5,613.5 774.5,612.5 775.5,613.5 776.5,613.5 777.5,611.5 778.5,608.5 779.5,605.5 780.5,603.5 781.5,603.5 782.5,602.5 783.5,601.5 784.5,601.5 785.5,602.5 786.5,603.5 787.5,604.5 788.5,605.5 789.5,606.5 790.5,606.5 791.5,606.5 792.5,606.5 793.5,605.5 794.5,605.5 795.5,604.5 796.5,602.5 797.5,600.5 798.5,599.5 799.5,600.5 800.5,601.5 801.5,602.5 802.5,605.5 803.5,608.5 804.5,611.5 805.5,610.5 806.5,610.5 807.5,611.5 808.5,612.5 809.5,613.5 810.5,612.5 811.5,609.5 812.5,605.5 813.5,603.5 814.5,602.5 815.5,601.5 816.5,603.5 817.5,604.5 818.5,605.5 819.5,605.5 820.5,604.5 821.5,604.5 822.5,603.5 823.5,603.5 824.5,602.5 825.5,601.5 826.5,601.5 827.5,601.5 828.5,601.5 829.5,599.5 830.5,597.5 831.5,597.5 832.5,597.5 833.5,597.5 834.5,600.5 835.5,602.5 836.5,601.5 837.5,599.5 838.5,599.5 839.5,601.5 840.5,601.5 841.5,600.5 842.5,601.5 843.5,606.5 844.5,607.5 845.5,608.5 846.5,609.5 847.5,610.5 848.5,611.5 849.5,612.5 850.5,612.5 851.5,611.5 852.5,611.5 853.5,610.5 854.5,608.5 855.5,606.5 856.5,607.5 857.5,609.5 858.5,612.5 859.5,613.5 860.5,615.5 861.5,616.5 862.5,618.5 863.5,620.5 864.5,621.5 865.5,623.5 866.5,622.5 867.5,621.5 868.5,622.5 869.5,624.5 870.5,626.5 871.5,629.5 872.5,629.5 873.5,628.5 874.5,628.5 875.5,628.5 876.5,628.5 877.5,628.5 878.5,628.5 879.5,627.5 880.5,627.5 881.5,629.5 882.5,627.5 883.5,622.5 884.5,622.5 885.5,624.5 886.5,624.5 887.5,622.5 888.5,621.5 889.5,621.5 890.5,622.5 891.5,622.5 892.5,622.5 893.5,621.5 894.5,620.5 895.5,618.5 896.5,618.5 897.5,620.5 898.5,621.5 899.5,623.5 900.5,624.5 901.5,625.5 902.5,626.5 903.5,627.5 904.5,629.5 905.5,632.5 906.5,634.5 907.5,635.5 908.5,630.5 909.5,625.5 910.5,621.5 911.5,621.5 912.5,621.5 913.5,621.5 914.5,621.5 915.5,621.5 916.5,621.5 917.5,620.5 918.5,619.5 919.5,618.5 920.5,617.5 921.5,615.5 922.5,615.5 923.5,617.5 924.5,619.5 925.5,621.5 926.5,622.5 927.5,623.5 928.5,623.5" fill="none" stroke="#1e90ff" stroke-width="1"/>
<rect x="4" y="25" width="1164" height="1" fill="#000"/><rect x="4" y="485" width="1164" height="1" fill="#000"/><rect x="4" y="25" width="1" height="461" fill="#000"/><rect x="1167" y="25" width="1" height="461" fill="#000"/><rect x="4" y="487" width="1164" height="1" fill="#000"/><rect x="4" y="571" width="1164" height="1" fill="#000"/><rect x="4" y="487" width="1" height="85" fill="#000"/><rect x="1167" y="487" width="1" height="85" fill="#000"/><rect x="4" y="573" width="1164" height="1" fill="#000"/><rect x="4" y="660" width="1164" height="1" fill="#000"/><rect x="4" y="573" width="1" height="88" fill="#000"/><rect x="1167" y="573" width="1" height="88" fill="#000"/><rect x="1167" y="53" width="3" height="1" fill="#000"/><rect x="1167" y="86" width="3" height="1" fill="#000"/><rect x="1167" y="119" width="3" height="1" fill="#000"/><rect x="1167" y="152" width="3" height="1" fill="#000"/><rect x="1167" y="185" width="3" height="1" fill="#000"/><rect x="1167" y="218" width="3" height="1" fill="#000"/><rect x="1167" y="251" width="3" height="1" fill="#000"/><rect x="1167" y="284" width="3" height="1" fill="#000"/><rect x="1167" y="317" width="3" height="1" fill="#000"/><rect x="1167" y="350" width="3" height="1" fill="#000"/><rect x="1167" y="383" width="3" height="1" fill="#000"/><rect x="1167" y="416" width="3" height="1" fill="#000"/><rect x="1167" y="449" width="3" height="1" fill="#000"/><rect x="1167" y="482" width="3" height="1" fill="#000"/><rect x="1167" y="489" width="3" height="1" fill="#000"/><rect x="1167" y="512" width="3" height="1" fill="#000"/><rect x="1167" y="570" width="3" height="1" fill="#000"/><rect x="1167" y="574" width="3" height="1" fill="#000"/><rect x="1167" y="600" width="3" height="1" fill="#000"/><rect x="1167" y="634" width="3" height="1" fill="#000"/><rect x="1167" y="659" width="3" height="1" fill="#000"/><rect x="5" y="660" width="1" height="4" fill="#000"/><rect x="69" y="660" width="1" height="4" fill="#000"/><rect x="133" y="660" width="1" height="4" fill="#000"/><rect x="197" y="660" width="1" height="4" fill="#000"/><rect x="261" y="660" width="1" height="4" fill="#000"/><rect x="325" y="660" width="1" height="4" fill="#000"/><rect x="389" y="660" width="1" height="4" fill="#000"/><rect x="453" y="660" width="1" height="4" fill="#000"/><rect x="517" y="660" width="1" height="4" fill="#000"/><rect x="581" y="660" width="1" height="4" fill="#000"/><rect x="645" y="660" width="1" height="4" fill="#000"/><rect x="709" y="660" width="1" height="4" fill="#000"/><rect x="773" y="660" width="1" height="4" fill="#000"/><rect x="837" y="660" width="1" height="4" fill="#000"/><rect x="901" y="660" width="1" height="4" fill="#000"/>
<defs>
<linearGradient id="gb" x1="0" y1="0" x2="0" y2="1"><stop offset="0" stop-color="#5a5aff"/><stop offset="1" stop-color="#3a3aec"/></linearGradient>
<linearGradient id="gp" x1="0" y1="0" x2="0" y2="1"><stop offset="0" stop-color="#3a3aec"/><stop offset="1" stop-color="#0000b4"/></linearGradient>
<linearGradient id="gs" x1="0" y1="0" x2="0" y2="1"><stop offset="0" stop-color="#f2f2f2"/><stop offset="1" stop-color="#d4d4d4"/></linearGradient>
</defs>
<rect x="8" y="45" width="52" height="25" fill="#0000a0"/>
<rect x="9" y="46" width="50" height="23" fill="url(#gb)"/>
<rect x="175" y="45" width="52" height="25" fill="#0000a0"/>
<rect x="176" y="46" width="50" height="23" fill="url(#gb)"/>
<rect x="8" y="69" width="109" height="33" fill="#0000a0"/>
<rect x="9" y="70" width="107" height="31" fill="url(#gp)"/>
<rect x="119" y="69" width="108" height="33" fill="#0000a0"/>
<rect x="120" y="70" width="106" height="31" fill="url(#gp)"/>
<rect x="9" y="68" width="50" height="2" fill="#3a3aec"/>
<rect x="176" y="68" width="50" height="2" fill="#3a3aec"/>
<rect x="12" y="68" width="44" height="1" fill="#1818b8"/>
<rect x="12" y="69" width="44" height="1" fill="#7878ff"/>
<rect x="179" y="68" width="44" height="1" fill="#1818b8"/>
<rect x="179" y="69" width="44" height="1" fill="#7878ff"/>
<rect x="61" y="45" width="114" height="24" fill="#ffffff"/>
<rect x="62" y="45" width="111" height="1" fill="#a0a0a0"/>
<rect x="62" y="66" width="111" height="1" fill="#a0a0a0"/>
<rect x="62" y="45" width="1" height="22" fill="#a0a0a0"/>
<rect x="172" y="45" width="1" height="22" fill="#a0a0a0"/>
<rect x="64" y="47" width="19" height="18" fill="url(#gs)"/>
<rect x="84" y="46" width="1" height="20" fill="#c0c0c0"/>
<rect x="152" y="47" width="19" height="18" fill="url(#gs)"/>
<rect x="151" y="46" width="1" height="20" fill="#c0c0c0"/>
<path d="M70,55 L76,55 L73,58 Z" fill="#5a6ab0" shape-rendering="auto"/>
<path d="M158,58 L164,58 L161,55 Z" fill="#5a6ab0" shape-rendering="auto"/>
<path d="M8,36 L15,36 L11.5,32 Z" fill="#000" shape-rendering="auto"/>
</svg>
<div class="t s" style="left:1173px;top:50px;font-size:10px;color:#000;transform:scaleX(0.95);transform-origin:0 0;">1.22470</div><div class="t s" style="left:1173px;top:83px;font-size:10px;color:#000;transform:scaleX(0.95);transform-origin:0 0;">1.22010</div><div class="t s" style="left:1173px;top:116px;font-size:10px;color:#000;transform:scaleX(0.95);transform-origin:0 0;">1.21550</div><div class="t s" style="left:1173px;top:149px;font-size:10px;color:#000;transform:scaleX(0.95);transform-origin:0 0;">1.21100</div><div class="t s" style="left:1173px;top:182px;font-size:10px;color:#000;transform:scaleX(0.95);transform-origin:0 0;">1.20640</div><div class="t s" style="left:1173px;top:215px;font-size:10px;color:#000;transform:scaleX(0.95);transform-origin:0 0;">1.20180</div><div class="t s" style="left:1173px;top:248px;font-size:10px;color:#000;transform:scaleX(0.95);transform-origin:0 0;">1.19720</div><div class="t s" style="left:1173px;top:281px;font-size:10px;color:#000;transform:scaleX(0.95);transform-origin:0 0;">1.19260</div><div class="t s" style="left:1173px;top:314px;font-size:10px;color:#000;transform:scaleX(0.95);transform-origin:0 0;">1.18800</div><div class="t s" style="left:1173px;top:347px;font-size:10px;color:#000;transform:scaleX(0.95);transform-origin:0 0;">1.18350</div><div class="t s" style="left:1173px;top:380px;font-size:10px;color:#000;transform:scaleX(0.95);transform-origin:0 0;">1.17890</div><div class="t s" style="left:1173px;top:413px;font-size:10px;color:#000;transform:scaleX(0.95);transform-origin:0 0;">1.17430</div><div class="t s" style="left:1173px;top:446px;font-size:10px;color:#000;transform:scaleX(0.95);transform-origin:0 0;">1.16970</div><div class="t s" style="left:1173px;top:479px;font-size:10px;color:#000;transform:scaleX(0.95);transform-origin:0 0;">1.16510</div><div class="t" style="left:-4px;top:5px;font-size:10.5px;color:#303030;">15</div><div class="t" style="left:16px;top:5px;font-size:10.5px;color:#303030;">M30</div><div class="t" style="left:47px;top:5px;font-size:10.5px;color:#303030;">H1</div><div class="t" style="left:74px;top:5px;font-size:10.5px;color:#303030;">H4</div><div class="t" style="left:103px;top:5px;font-size:10.5px;color:#303030;">D1</div><div class="t" style="left:131px;top:5px;font-size:10.5px;color:#303030;">W1</div><div class="t" style="left:157px;top:5px;font-size:10.5px;color:#303030;">MN</div><div class="t s" style="left:20px;top:30px;font-size:10px;color:#000;transform:scaleX(0.95);transform-origin:0 0;">EURUSD,H4</div><div class="t s" style="left:80px;top:30px;font-size:10px;color:#000;transform:scaleX(0.95);transform-origin:0 0;">1.18015</div><div class="t s" style="left:116px;top:30px;font-size:10px;color:#000;transform:scaleX(0.95);transform-origin:0 0;">1.18040</div><div class="t s" style="left:151px;top:30px;font-size:10px;color:#000;transform:scaleX(0.95);transform-origin:0 0;">1.18000</div><div class="t s" style="left:188px;top:30px;font-size:10px;color:#000;transform:scaleX(0.95);transform-origin:0 0;">1.18025</div><div style="position:absolute;left:1169px;top:152px;width:41px;height:11px;background:#ff0000"></div><div class="t" style="left:1173px;top:154px;font-size:10px;color:#fff;transform:scaleX(0.95);transform-origin:0 0;">1.21010</div><div style="position:absolute;left:1169px;top:225px;width:41px;height:11px;background:#ff0000"></div><div class="t" style="left:1173px;top:227px;font-size:10px;color:#fff;transform:scaleX(0.95);transform-origin:0 0;">1.20004</div><div style="position:absolute;left:1169px;top:297px;width:41px;height:11px;background:#ff0000"></div><div class="t" style="left:1173px;top:299px;font-size:10px;color:#fff;transform:scaleX(0.95);transform-origin:0 0;">1.18998</div><div style="position:absolute;left:1169px;top:367px;width:41px;height:11px;background:#00ff00"></div><div class="t" style="left:1173px;top:369px;font-size:10px;color:#fff;transform:scaleX(0.95);transform-origin:0 0;">1.18024</div><div style="position:absolute;left:1169px;top:441px;width:41px;height:11px;background:#0000ff"></div><div class="t" style="left:1173px;top:443px;font-size:10px;color:#fff;transform:scaleX(0.95);transform-origin:0 0;">1.17002</div><div style="position:absolute;left:1169px;top:378px;width:41px;height:1px;background:#000"></div><div class="t s" style="left:9px;top:493px;font-size:10px;color:#000;transform:scaleX(0.95);transform-origin:0 0;">MACD(12,26,9) -0.000572 -0.000694</div><div class="t s" style="left:9px;top:579px;font-size:10px;color:#000;transform:scaleX(0.93);transform-origin:0 0;">RSI(14) 43.5760</div><div class="t s" style="left:1171px;top:491px;font-size:10px;color:#000;transform:scaleX(0.95);transform-origin:0 0;">0.002947</div><div class="t s" style="left:1171px;top:509px;font-size:10px;color:#000;transform:scaleX(0.95);transform-origin:0 0;">0.00</div><div class="t s" style="left:1171px;top:562px;font-size:10px;color:#000;transform:scaleX(0.95);transform-origin:0 0;">-0.007151</div><div class="t s" style="left:1171px;top:577px;font-size:10px;color:#000;transform:scaleX(0.95);transform-origin:0 0;">100</div><div class="t s" style="left:1171px;top:597px;font-size:10px;color:#000;transform:scaleX(0.95);transform-origin:0 0;">70</div><div class="t s" style="left:1171px;top:631px;font-size:10px;color:#000;transform:scaleX(0.95);transform-origin:0 0;">30</div><div class="t s" style="left:1171px;top:650px;font-size:10px;color:#000;transform:scaleX(0.95);transform-origin:0 0;">0</div><div class="t s" style="left:4px;top:666px;font-size:10px;color:#000;transform:scaleX(0.93);transform-origin:0 0;">31 May 2021</div><div class="t s" style="left:68px;top:666px;font-size:10px;color:#000;transform:scaleX(0.93);transform-origin:0 0;">7 Jun 19:00</div><div class="t s" style="left:132px;top:666px;font-size:10px;color:#000;transform:scaleX(0.93);transform-origin:0 0;">15 Jun 00:00</div><div class="t s" style="left:196px;top:666px;font-size:10px;color:#000;transform:scaleX(0.93);transform-origin:0 0;">22 Jun 10:00</div><div class="t s" style="left:260px;top:666px;font-size:10px;color:#000;transform:scaleX(0.93);transform-origin:0 0;">29 Jun 18:00</div><div class="t s" style="left:324px;top:666px;font-size:10px;color:#000;transform:scaleX(0.93);transform-origin:0 0;">7 Jul 00:00</div><div class="t s" style="left:388px;top:666px;font-size:10px;color:#000;transform:scaleX(0.93);transform-origin:0 0;">14 Jul 10:00</div><div class="t s" style="left:452px;top:666px;font-size:10px;color:#000;transform:scaleX(0.93);transform-origin:0 0;">21 Jul 18:00</div><div class="t s" style="left:516px;top:666px;font-size:10px;color:#000;transform:scaleX(0.93);transform-origin:0 0;">29 Jul 00:00</div><div class="t s" style="left:580px;top:666px;font-size:10px;color:#000;transform:scaleX(0.93);transform-origin:0 0;">5 Aug 10:00</div><div class="t s" style="left:644px;top:666px;font-size:10px;color:#000;transform:scaleX(0.93);transform-origin:0 0;">12 Aug 18:00</div><div class="t s" style="left:708px;top:666px;font-size:10px;color:#000;transform:scaleX(0.93);transform-origin:0 0;">20 Aug 00:00</div><div class="t s" style="left:772px;top:666px;font-size:10px;color:#000;transform:scaleX(0.93);transform-origin:0 0;">27 Aug 10:00</div><div class="t s" style="left:836px;top:666px;font-size:10px;color:#000;transform:scaleX(0.93);transform-origin:0 0;">3 Sep 18:00</div><div class="t s" style="left:900px;top:666px;font-size:10px;color:#000;transform:scaleX(0.93);transform-origin:0 0;">11 Sep 00:00</div><div class="t" style="left:19px;top:688px;font-size:12px;color:#000;">EURUSD,H4</div><div class="t" style="left:107px;top:688px;font-size:12.5px;color:#6b6b8a;">AUDUSD,Daily</div><div class="t" style="left:211px;top:688px;font-size:12.5px;color:#6b6b8a;">USDCHF,H4</div><div class="t" style="left:300px;top:688px;font-size:12.5px;color:#6b6b8a;">USDCAD,Daily</div><div class="t" style="left:404px;top:688px;font-size:12.5px;color:#6b6b8a;">USDCNH,Daily</div><div class="t" style="left:509px;top:688px;font-size:12.5px;color:#6b6b8a;">UKOil,H1</div><div class="t" style="left:583px;top:688px;font-size:12.5px;color:#6b6b8a;">DJ30,H1</div><div class="t" style="left:653px;top:688px;font-size:12.5px;color:#6b6b8a;">USDX,H1</div><div class="t" style="left:728px;top:688px;font-size:12.5px;color:#6b6b8a;">XAUUSD,H4</div><div class="t" style="left:821px;top:688px;font-size:12.5px;color:#6b6b8a;">GBPUSD,H1</div><div class="t" style="left:19px;top:51px;font-size:11.5px;color:#fff;">SELL</div><div class="t" style="left:188px;top:51px;font-size:12.5px;color:#fff;">BUY</div><div class="t" style="left:124px;top:50px;font-size:12.5px;color:#000;">3.00</div><div class="t" style="left:28px;top:87px;font-size:12.5px;color:#fff;font-weight:bold">1.18</div><div class="t" style="left:55px;top:67px;font-size:35px;color:#fff;transform:scaleX(0.95);transform-origin:0 0;">02</div><div class="t" style="left:95px;top:72px;font-size:12px;color:#fff;font-weight:bold">8</div><div class="t" style="left:139px;top:87px;font-size:12.5px;color:#fff;font-weight:bold">1.18</div><div class="t" style="left:166px;top:67px;font-size:35px;color:#fff;transform:scaleX(0.95);transform-origin:0 0;">02</div><div class="t" style="left:206px;top:72px;font-size:12px;color:#fff;font-weight:bold">8</div>
</body></html>
